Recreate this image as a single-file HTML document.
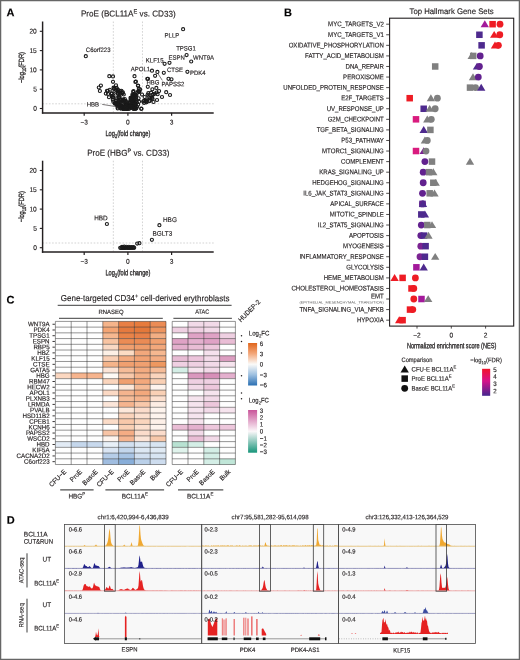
<!DOCTYPE html>
<html><head><meta charset="utf-8"><style>
html,body{margin:0;padding:0;background:#fff;overflow:hidden;}
svg{display:block;font-family:"Liberation Sans", sans-serif;will-change:transform;filter:blur(0.35px);} text{stroke:#231f20;stroke-width:0.15px;text-rendering:geometricPrecision;}
</style></head><body>
<svg width="520" height="660" viewBox="0 0 520 660">
<rect x="0" y="0" width="520" height="660" fill="#fff"/>
<text x="128.30" y="16.60" font-size="8.61" text-anchor="middle" fill="#231f20" textLength="94.80" lengthAdjust="spacingAndGlyphs" transform="rotate(0.06 128.30 16.60)" >ProE (BCL11A<tspan font-size="70%" baseline-shift="3">E</tspan> vs. CD33)</text>
<line x1="113.33" y1="21.50" x2="113.33" y2="112.30" stroke="#b5b5b5" stroke-width="0.6" stroke-dasharray="1.6,1.6"/>
<line x1="142.47" y1="21.50" x2="142.47" y2="112.30" stroke="#b5b5b5" stroke-width="0.6" stroke-dasharray="1.6,1.6"/>
<line x1="42.50" y1="103.80" x2="213.70" y2="103.80" stroke="#b5b5b5" stroke-width="0.6" stroke-dasharray="1.6,1.6"/>
<line x1="42.60" y1="21.50" x2="42.60" y2="113.60" stroke="#231f20" stroke-width="1.45" />
<line x1="41.90" y1="112.90" x2="213.70" y2="112.90" stroke="#231f20" stroke-width="1.5" />
<line x1="39.80" y1="31.30" x2="42.50" y2="31.30" stroke="#231f20" stroke-width="1.1" />
<text x="36.80" y="33.60" font-size="6.93" text-anchor="end" fill="#231f20" textLength="7.34" lengthAdjust="spacingAndGlyphs" transform="rotate(0.06 36.80 33.60)" >20</text>
<line x1="39.80" y1="50.60" x2="42.50" y2="50.60" stroke="#231f20" stroke-width="1.1" />
<text x="36.80" y="52.90" font-size="6.93" text-anchor="end" fill="#231f20" textLength="7.34" lengthAdjust="spacingAndGlyphs" transform="rotate(0.06 36.80 52.90)" >15</text>
<line x1="39.80" y1="69.90" x2="42.50" y2="69.90" stroke="#231f20" stroke-width="1.1" />
<text x="36.80" y="72.20" font-size="6.93" text-anchor="end" fill="#231f20" textLength="7.34" lengthAdjust="spacingAndGlyphs" transform="rotate(0.06 36.80 72.20)" >10</text>
<line x1="39.80" y1="89.20" x2="42.50" y2="89.20" stroke="#231f20" stroke-width="1.1" />
<text x="36.80" y="91.50" font-size="6.93" text-anchor="end" fill="#231f20" textLength="3.67" lengthAdjust="spacingAndGlyphs" transform="rotate(0.06 36.80 91.50)" >5</text>
<line x1="39.80" y1="108.50" x2="42.50" y2="108.50" stroke="#231f20" stroke-width="1.1" />
<text x="36.80" y="110.80" font-size="6.93" text-anchor="end" fill="#231f20" textLength="3.67" lengthAdjust="spacingAndGlyphs" transform="rotate(0.06 36.80 110.80)" >0</text>
<line x1="84.19" y1="112.80" x2="84.19" y2="115.80" stroke="#231f20" stroke-width="1.2" />
<text x="84.19" y="124.60" font-size="6.93" text-anchor="middle" fill="#231f20" textLength="7.52" lengthAdjust="spacingAndGlyphs" transform="rotate(0.06 84.19 124.60)" >−3</text>
<line x1="127.90" y1="112.80" x2="127.90" y2="115.80" stroke="#231f20" stroke-width="1.2" />
<text x="127.90" y="124.60" font-size="6.93" text-anchor="middle" fill="#231f20" textLength="3.67" lengthAdjust="spacingAndGlyphs" transform="rotate(0.06 127.90 124.60)" >0</text>
<line x1="171.61" y1="112.80" x2="171.61" y2="115.80" stroke="#231f20" stroke-width="1.2" />
<text x="171.61" y="124.60" font-size="6.93" text-anchor="middle" fill="#231f20" textLength="3.67" lengthAdjust="spacingAndGlyphs" transform="rotate(0.06 171.61 124.60)" >3</text>
<text x="127.90" y="136.00" font-size="7.77" text-anchor="middle" fill="#222" textLength="45.00" lengthAdjust="spacingAndGlyphs" transform="rotate(0.06 127.90 136.00)" style="stroke-width:0.3px">Log<tspan font-size="70%" baseline-shift="-1.6">2</tspan>(fold change)</text>
<text x="23.90" y="67.50" font-size="7.56" text-anchor="middle" fill="#222" textLength="31.00" lengthAdjust="spacingAndGlyphs" transform="rotate(-89.94 23.90 67.50)" style="stroke-width:0.3px">−log<tspan font-size="70%" baseline-shift="-1.6">10</tspan>(FDR)</text>
<circle cx="118.67" cy="104.74" r="1.55" fill="none" stroke="#1a1a1a" stroke-width="1.1"/>
<circle cx="126.60" cy="108.69" r="1.55" fill="none" stroke="#1a1a1a" stroke-width="1.1"/>
<circle cx="118.35" cy="90.12" r="1.55" fill="none" stroke="#1a1a1a" stroke-width="1.1"/>
<circle cx="116.39" cy="87.87" r="1.55" fill="none" stroke="#1a1a1a" stroke-width="1.1"/>
<circle cx="116.18" cy="101.23" r="1.55" fill="none" stroke="#1a1a1a" stroke-width="1.1"/>
<circle cx="119.41" cy="97.02" r="1.55" fill="none" stroke="#1a1a1a" stroke-width="1.1"/>
<circle cx="126.95" cy="108.90" r="1.55" fill="none" stroke="#1a1a1a" stroke-width="1.1"/>
<circle cx="120.43" cy="93.75" r="1.55" fill="none" stroke="#1a1a1a" stroke-width="1.1"/>
<circle cx="122.02" cy="92.70" r="1.55" fill="none" stroke="#1a1a1a" stroke-width="1.1"/>
<circle cx="111.90" cy="93.32" r="1.55" fill="none" stroke="#1a1a1a" stroke-width="1.1"/>
<circle cx="122.90" cy="92.24" r="1.55" fill="none" stroke="#1a1a1a" stroke-width="1.1"/>
<circle cx="121.14" cy="108.13" r="1.55" fill="none" stroke="#1a1a1a" stroke-width="1.1"/>
<circle cx="125.88" cy="106.79" r="1.55" fill="none" stroke="#1a1a1a" stroke-width="1.1"/>
<circle cx="113.98" cy="88.89" r="1.55" fill="none" stroke="#1a1a1a" stroke-width="1.1"/>
<circle cx="117.92" cy="93.25" r="1.55" fill="none" stroke="#1a1a1a" stroke-width="1.1"/>
<circle cx="123.68" cy="100.63" r="1.55" fill="none" stroke="#1a1a1a" stroke-width="1.1"/>
<circle cx="114.53" cy="87.89" r="1.55" fill="none" stroke="#1a1a1a" stroke-width="1.1"/>
<circle cx="112.80" cy="99.66" r="1.55" fill="none" stroke="#1a1a1a" stroke-width="1.1"/>
<circle cx="120.05" cy="99.94" r="1.55" fill="none" stroke="#1a1a1a" stroke-width="1.1"/>
<circle cx="115.35" cy="103.30" r="1.55" fill="none" stroke="#1a1a1a" stroke-width="1.1"/>
<circle cx="126.85" cy="106.74" r="1.55" fill="none" stroke="#1a1a1a" stroke-width="1.1"/>
<circle cx="125.07" cy="106.75" r="1.55" fill="none" stroke="#1a1a1a" stroke-width="1.1"/>
<circle cx="117.62" cy="93.78" r="1.55" fill="none" stroke="#1a1a1a" stroke-width="1.1"/>
<circle cx="118.58" cy="97.86" r="1.55" fill="none" stroke="#1a1a1a" stroke-width="1.1"/>
<circle cx="123.38" cy="108.90" r="1.55" fill="none" stroke="#1a1a1a" stroke-width="1.1"/>
<circle cx="120.44" cy="99.62" r="1.55" fill="none" stroke="#1a1a1a" stroke-width="1.1"/>
<circle cx="109.84" cy="89.74" r="1.55" fill="none" stroke="#1a1a1a" stroke-width="1.1"/>
<circle cx="115.12" cy="102.93" r="1.55" fill="none" stroke="#1a1a1a" stroke-width="1.1"/>
<circle cx="125.48" cy="103.11" r="1.55" fill="none" stroke="#1a1a1a" stroke-width="1.1"/>
<circle cx="122.43" cy="108.22" r="1.55" fill="none" stroke="#1a1a1a" stroke-width="1.1"/>
<circle cx="126.56" cy="108.90" r="1.55" fill="none" stroke="#1a1a1a" stroke-width="1.1"/>
<circle cx="123.76" cy="94.52" r="1.55" fill="none" stroke="#1a1a1a" stroke-width="1.1"/>
<circle cx="120.78" cy="105.82" r="1.55" fill="none" stroke="#1a1a1a" stroke-width="1.1"/>
<circle cx="123.52" cy="107.21" r="1.55" fill="none" stroke="#1a1a1a" stroke-width="1.1"/>
<circle cx="123.64" cy="108.77" r="1.55" fill="none" stroke="#1a1a1a" stroke-width="1.1"/>
<circle cx="115.82" cy="100.42" r="1.55" fill="none" stroke="#1a1a1a" stroke-width="1.1"/>
<circle cx="122.85" cy="107.21" r="1.55" fill="none" stroke="#1a1a1a" stroke-width="1.1"/>
<circle cx="116.41" cy="90.17" r="1.55" fill="none" stroke="#1a1a1a" stroke-width="1.1"/>
<circle cx="118.70" cy="101.18" r="1.55" fill="none" stroke="#1a1a1a" stroke-width="1.1"/>
<circle cx="122.74" cy="107.26" r="1.55" fill="none" stroke="#1a1a1a" stroke-width="1.1"/>
<circle cx="125.01" cy="108.77" r="1.55" fill="none" stroke="#1a1a1a" stroke-width="1.1"/>
<circle cx="115.88" cy="103.94" r="1.55" fill="none" stroke="#1a1a1a" stroke-width="1.1"/>
<circle cx="119.93" cy="90.85" r="1.55" fill="none" stroke="#1a1a1a" stroke-width="1.1"/>
<circle cx="107.80" cy="90.74" r="1.55" fill="none" stroke="#1a1a1a" stroke-width="1.1"/>
<circle cx="123.40" cy="108.90" r="1.55" fill="none" stroke="#1a1a1a" stroke-width="1.1"/>
<circle cx="114.71" cy="103.50" r="1.55" fill="none" stroke="#1a1a1a" stroke-width="1.1"/>
<circle cx="118.87" cy="100.85" r="1.55" fill="none" stroke="#1a1a1a" stroke-width="1.1"/>
<circle cx="125.76" cy="101.82" r="1.55" fill="none" stroke="#1a1a1a" stroke-width="1.1"/>
<circle cx="118.35" cy="103.49" r="1.55" fill="none" stroke="#1a1a1a" stroke-width="1.1"/>
<circle cx="113.54" cy="87.66" r="1.55" fill="none" stroke="#1a1a1a" stroke-width="1.1"/>
<circle cx="117.94" cy="103.96" r="1.55" fill="none" stroke="#1a1a1a" stroke-width="1.1"/>
<circle cx="126.75" cy="108.22" r="1.55" fill="none" stroke="#1a1a1a" stroke-width="1.1"/>
<circle cx="122.88" cy="100.38" r="1.55" fill="none" stroke="#1a1a1a" stroke-width="1.1"/>
<circle cx="118.55" cy="96.98" r="1.55" fill="none" stroke="#1a1a1a" stroke-width="1.1"/>
<circle cx="119.53" cy="96.98" r="1.55" fill="none" stroke="#1a1a1a" stroke-width="1.1"/>
<circle cx="125.93" cy="103.39" r="1.55" fill="none" stroke="#1a1a1a" stroke-width="1.1"/>
<circle cx="122.15" cy="100.87" r="1.55" fill="none" stroke="#1a1a1a" stroke-width="1.1"/>
<circle cx="121.45" cy="90.87" r="1.55" fill="none" stroke="#1a1a1a" stroke-width="1.1"/>
<circle cx="112.90" cy="97.51" r="1.55" fill="none" stroke="#1a1a1a" stroke-width="1.1"/>
<circle cx="118.53" cy="104.18" r="1.55" fill="none" stroke="#1a1a1a" stroke-width="1.1"/>
<circle cx="120.11" cy="93.01" r="1.55" fill="none" stroke="#1a1a1a" stroke-width="1.1"/>
<circle cx="125.65" cy="107.51" r="1.55" fill="none" stroke="#1a1a1a" stroke-width="1.1"/>
<circle cx="122.57" cy="93.51" r="1.55" fill="none" stroke="#1a1a1a" stroke-width="1.1"/>
<circle cx="113.40" cy="95.41" r="1.55" fill="none" stroke="#1a1a1a" stroke-width="1.1"/>
<circle cx="117.19" cy="104.83" r="1.55" fill="none" stroke="#1a1a1a" stroke-width="1.1"/>
<circle cx="123.32" cy="99.44" r="1.55" fill="none" stroke="#1a1a1a" stroke-width="1.1"/>
<circle cx="121.58" cy="106.76" r="1.55" fill="none" stroke="#1a1a1a" stroke-width="1.1"/>
<circle cx="119.15" cy="105.00" r="1.55" fill="none" stroke="#1a1a1a" stroke-width="1.1"/>
<circle cx="116.80" cy="104.63" r="1.55" fill="none" stroke="#1a1a1a" stroke-width="1.1"/>
<circle cx="119.10" cy="92.15" r="1.55" fill="none" stroke="#1a1a1a" stroke-width="1.1"/>
<circle cx="105.83" cy="93.59" r="1.55" fill="none" stroke="#1a1a1a" stroke-width="1.1"/>
<circle cx="119.08" cy="104.35" r="1.55" fill="none" stroke="#1a1a1a" stroke-width="1.1"/>
<circle cx="117.64" cy="107.41" r="1.55" fill="none" stroke="#1a1a1a" stroke-width="1.1"/>
<circle cx="106.95" cy="90.74" r="1.55" fill="none" stroke="#1a1a1a" stroke-width="1.1"/>
<circle cx="117.88" cy="91.65" r="1.55" fill="none" stroke="#1a1a1a" stroke-width="1.1"/>
<circle cx="115.36" cy="91.58" r="1.55" fill="none" stroke="#1a1a1a" stroke-width="1.1"/>
<circle cx="125.82" cy="104.93" r="1.55" fill="none" stroke="#1a1a1a" stroke-width="1.1"/>
<circle cx="116.37" cy="98.36" r="1.55" fill="none" stroke="#1a1a1a" stroke-width="1.1"/>
<circle cx="120.55" cy="100.44" r="1.55" fill="none" stroke="#1a1a1a" stroke-width="1.1"/>
<circle cx="108.03" cy="93.90" r="1.55" fill="none" stroke="#1a1a1a" stroke-width="1.1"/>
<circle cx="123.54" cy="105.41" r="1.55" fill="none" stroke="#1a1a1a" stroke-width="1.1"/>
<circle cx="117.70" cy="106.22" r="1.55" fill="none" stroke="#1a1a1a" stroke-width="1.1"/>
<circle cx="111.51" cy="93.65" r="1.55" fill="none" stroke="#1a1a1a" stroke-width="1.1"/>
<circle cx="123.17" cy="101.54" r="1.55" fill="none" stroke="#1a1a1a" stroke-width="1.1"/>
<circle cx="126.81" cy="104.89" r="1.55" fill="none" stroke="#1a1a1a" stroke-width="1.1"/>
<circle cx="113.32" cy="101.83" r="1.55" fill="none" stroke="#1a1a1a" stroke-width="1.1"/>
<circle cx="117.16" cy="103.15" r="1.55" fill="none" stroke="#1a1a1a" stroke-width="1.1"/>
<circle cx="119.75" cy="102.79" r="1.55" fill="none" stroke="#1a1a1a" stroke-width="1.1"/>
<circle cx="121.75" cy="105.39" r="1.55" fill="none" stroke="#1a1a1a" stroke-width="1.1"/>
<circle cx="111.96" cy="95.98" r="1.55" fill="none" stroke="#1a1a1a" stroke-width="1.1"/>
<circle cx="124.82" cy="99.11" r="1.55" fill="none" stroke="#1a1a1a" stroke-width="1.1"/>
<circle cx="120.60" cy="105.72" r="1.55" fill="none" stroke="#1a1a1a" stroke-width="1.1"/>
<circle cx="125.76" cy="100.92" r="1.55" fill="none" stroke="#1a1a1a" stroke-width="1.1"/>
<circle cx="112.63" cy="97.15" r="1.55" fill="none" stroke="#1a1a1a" stroke-width="1.1"/>
<circle cx="126.82" cy="105.30" r="1.55" fill="none" stroke="#1a1a1a" stroke-width="1.1"/>
<circle cx="116.83" cy="88.25" r="1.55" fill="none" stroke="#1a1a1a" stroke-width="1.1"/>
<circle cx="125.64" cy="101.64" r="1.55" fill="none" stroke="#1a1a1a" stroke-width="1.1"/>
<circle cx="119.60" cy="103.47" r="1.55" fill="none" stroke="#1a1a1a" stroke-width="1.1"/>
<circle cx="117.82" cy="104.99" r="1.55" fill="none" stroke="#1a1a1a" stroke-width="1.1"/>
<circle cx="108.99" cy="97.26" r="1.55" fill="none" stroke="#1a1a1a" stroke-width="1.1"/>
<circle cx="134.10" cy="99.38" r="1.55" fill="none" stroke="#1a1a1a" stroke-width="1.1"/>
<circle cx="133.32" cy="101.08" r="1.55" fill="none" stroke="#1a1a1a" stroke-width="1.1"/>
<circle cx="134.77" cy="107.25" r="1.55" fill="none" stroke="#1a1a1a" stroke-width="1.1"/>
<circle cx="132.92" cy="99.95" r="1.55" fill="none" stroke="#1a1a1a" stroke-width="1.1"/>
<circle cx="135.79" cy="95.32" r="1.55" fill="none" stroke="#1a1a1a" stroke-width="1.1"/>
<circle cx="138.58" cy="98.37" r="1.55" fill="none" stroke="#1a1a1a" stroke-width="1.1"/>
<circle cx="132.94" cy="95.29" r="1.55" fill="none" stroke="#1a1a1a" stroke-width="1.1"/>
<circle cx="134.61" cy="104.92" r="1.55" fill="none" stroke="#1a1a1a" stroke-width="1.1"/>
<circle cx="129.93" cy="104.62" r="1.55" fill="none" stroke="#1a1a1a" stroke-width="1.1"/>
<circle cx="136.30" cy="108.35" r="1.55" fill="none" stroke="#1a1a1a" stroke-width="1.1"/>
<circle cx="129.41" cy="107.04" r="1.55" fill="none" stroke="#1a1a1a" stroke-width="1.1"/>
<circle cx="131.33" cy="105.69" r="1.55" fill="none" stroke="#1a1a1a" stroke-width="1.1"/>
<circle cx="132.95" cy="102.70" r="1.55" fill="none" stroke="#1a1a1a" stroke-width="1.1"/>
<circle cx="138.14" cy="104.58" r="1.55" fill="none" stroke="#1a1a1a" stroke-width="1.1"/>
<circle cx="132.51" cy="101.04" r="1.55" fill="none" stroke="#1a1a1a" stroke-width="1.1"/>
<circle cx="136.16" cy="98.47" r="1.55" fill="none" stroke="#1a1a1a" stroke-width="1.1"/>
<circle cx="137.20" cy="92.69" r="1.55" fill="none" stroke="#1a1a1a" stroke-width="1.1"/>
<circle cx="139.46" cy="91.78" r="1.55" fill="none" stroke="#1a1a1a" stroke-width="1.1"/>
<circle cx="135.19" cy="103.64" r="1.55" fill="none" stroke="#1a1a1a" stroke-width="1.1"/>
<circle cx="131.02" cy="104.32" r="1.55" fill="none" stroke="#1a1a1a" stroke-width="1.1"/>
<circle cx="134.80" cy="96.38" r="1.55" fill="none" stroke="#1a1a1a" stroke-width="1.1"/>
<circle cx="133.06" cy="100.60" r="1.55" fill="none" stroke="#1a1a1a" stroke-width="1.1"/>
<circle cx="132.34" cy="99.83" r="1.55" fill="none" stroke="#1a1a1a" stroke-width="1.1"/>
<circle cx="134.45" cy="94.56" r="1.55" fill="none" stroke="#1a1a1a" stroke-width="1.1"/>
<circle cx="132.82" cy="95.97" r="1.55" fill="none" stroke="#1a1a1a" stroke-width="1.1"/>
<circle cx="129.00" cy="108.90" r="1.55" fill="none" stroke="#1a1a1a" stroke-width="1.1"/>
<circle cx="139.14" cy="91.40" r="1.55" fill="none" stroke="#1a1a1a" stroke-width="1.1"/>
<circle cx="142.02" cy="94.55" r="1.55" fill="none" stroke="#1a1a1a" stroke-width="1.1"/>
<circle cx="137.06" cy="106.83" r="1.55" fill="none" stroke="#1a1a1a" stroke-width="1.1"/>
<circle cx="134.20" cy="105.81" r="1.55" fill="none" stroke="#1a1a1a" stroke-width="1.1"/>
<circle cx="131.16" cy="98.91" r="1.55" fill="none" stroke="#1a1a1a" stroke-width="1.1"/>
<circle cx="129.56" cy="102.25" r="1.55" fill="none" stroke="#1a1a1a" stroke-width="1.1"/>
<circle cx="134.20" cy="107.70" r="1.55" fill="none" stroke="#1a1a1a" stroke-width="1.1"/>
<circle cx="132.40" cy="94.49" r="1.55" fill="none" stroke="#1a1a1a" stroke-width="1.1"/>
<circle cx="133.22" cy="104.11" r="1.55" fill="none" stroke="#1a1a1a" stroke-width="1.1"/>
<circle cx="130.69" cy="99.99" r="1.55" fill="none" stroke="#1a1a1a" stroke-width="1.1"/>
<circle cx="130.47" cy="102.61" r="1.55" fill="none" stroke="#1a1a1a" stroke-width="1.1"/>
<circle cx="139.02" cy="101.66" r="1.55" fill="none" stroke="#1a1a1a" stroke-width="1.1"/>
<circle cx="133.50" cy="91.07" r="1.55" fill="none" stroke="#1a1a1a" stroke-width="1.1"/>
<circle cx="131.90" cy="100.86" r="1.55" fill="none" stroke="#1a1a1a" stroke-width="1.1"/>
<circle cx="134.70" cy="95.22" r="1.55" fill="none" stroke="#1a1a1a" stroke-width="1.1"/>
<circle cx="133.46" cy="95.92" r="1.55" fill="none" stroke="#1a1a1a" stroke-width="1.1"/>
<circle cx="136.95" cy="102.48" r="1.55" fill="none" stroke="#1a1a1a" stroke-width="1.1"/>
<circle cx="134.17" cy="94.56" r="1.55" fill="none" stroke="#1a1a1a" stroke-width="1.1"/>
<circle cx="135.69" cy="99.77" r="1.55" fill="none" stroke="#1a1a1a" stroke-width="1.1"/>
<circle cx="133.22" cy="91.95" r="1.55" fill="none" stroke="#1a1a1a" stroke-width="1.1"/>
<circle cx="133.53" cy="106.96" r="1.55" fill="none" stroke="#1a1a1a" stroke-width="1.1"/>
<circle cx="132.30" cy="101.70" r="1.55" fill="none" stroke="#1a1a1a" stroke-width="1.1"/>
<circle cx="134.46" cy="95.77" r="1.55" fill="none" stroke="#1a1a1a" stroke-width="1.1"/>
<circle cx="134.04" cy="107.38" r="1.55" fill="none" stroke="#1a1a1a" stroke-width="1.1"/>
<circle cx="130.47" cy="97.92" r="1.55" fill="none" stroke="#1a1a1a" stroke-width="1.1"/>
<circle cx="133.73" cy="108.90" r="1.55" fill="none" stroke="#1a1a1a" stroke-width="1.1"/>
<circle cx="138.36" cy="91.51" r="1.55" fill="none" stroke="#1a1a1a" stroke-width="1.1"/>
<circle cx="136.39" cy="95.26" r="1.55" fill="none" stroke="#1a1a1a" stroke-width="1.1"/>
<circle cx="135.66" cy="101.28" r="1.55" fill="none" stroke="#1a1a1a" stroke-width="1.1"/>
<circle cx="135.61" cy="99.25" r="1.55" fill="none" stroke="#1a1a1a" stroke-width="1.1"/>
<circle cx="132.64" cy="103.60" r="1.55" fill="none" stroke="#1a1a1a" stroke-width="1.1"/>
<circle cx="131.08" cy="98.07" r="1.55" fill="none" stroke="#1a1a1a" stroke-width="1.1"/>
<circle cx="129.98" cy="102.56" r="1.55" fill="none" stroke="#1a1a1a" stroke-width="1.1"/>
<circle cx="135.05" cy="104.14" r="1.55" fill="none" stroke="#1a1a1a" stroke-width="1.1"/>
<circle cx="135.86" cy="104.72" r="1.55" fill="none" stroke="#1a1a1a" stroke-width="1.1"/>
<circle cx="138.21" cy="91.43" r="1.55" fill="none" stroke="#1a1a1a" stroke-width="1.1"/>
<circle cx="130.44" cy="102.16" r="1.55" fill="none" stroke="#1a1a1a" stroke-width="1.1"/>
<circle cx="138.84" cy="88.78" r="1.55" fill="none" stroke="#1a1a1a" stroke-width="1.1"/>
<circle cx="135.50" cy="94.78" r="1.55" fill="none" stroke="#1a1a1a" stroke-width="1.1"/>
<circle cx="134.15" cy="102.31" r="1.55" fill="none" stroke="#1a1a1a" stroke-width="1.1"/>
<circle cx="140.10" cy="89.45" r="1.55" fill="none" stroke="#1a1a1a" stroke-width="1.1"/>
<circle cx="130.05" cy="107.94" r="1.55" fill="none" stroke="#1a1a1a" stroke-width="1.1"/>
<circle cx="130.58" cy="100.69" r="1.55" fill="none" stroke="#1a1a1a" stroke-width="1.1"/>
<circle cx="131.80" cy="97.33" r="1.55" fill="none" stroke="#1a1a1a" stroke-width="1.1"/>
<circle cx="129.43" cy="106.98" r="1.55" fill="none" stroke="#1a1a1a" stroke-width="1.1"/>
<circle cx="135.51" cy="108.90" r="1.55" fill="none" stroke="#1a1a1a" stroke-width="1.1"/>
<circle cx="157.61" cy="94.20" r="1.55" fill="none" stroke="#1a1a1a" stroke-width="1.1"/>
<circle cx="156.53" cy="92.52" r="1.55" fill="none" stroke="#1a1a1a" stroke-width="1.1"/>
<circle cx="151.91" cy="97.48" r="1.55" fill="none" stroke="#1a1a1a" stroke-width="1.1"/>
<circle cx="149.98" cy="100.84" r="1.55" fill="none" stroke="#1a1a1a" stroke-width="1.1"/>
<circle cx="147.58" cy="94.77" r="1.55" fill="none" stroke="#1a1a1a" stroke-width="1.1"/>
<circle cx="146.51" cy="102.28" r="1.55" fill="none" stroke="#1a1a1a" stroke-width="1.1"/>
<circle cx="152.38" cy="89.32" r="1.55" fill="none" stroke="#1a1a1a" stroke-width="1.1"/>
<circle cx="148.56" cy="97.12" r="1.55" fill="none" stroke="#1a1a1a" stroke-width="1.1"/>
<circle cx="147.79" cy="86.79" r="1.55" fill="none" stroke="#1a1a1a" stroke-width="1.1"/>
<circle cx="151.83" cy="97.92" r="1.55" fill="none" stroke="#1a1a1a" stroke-width="1.1"/>
<circle cx="148.31" cy="93.18" r="1.55" fill="none" stroke="#1a1a1a" stroke-width="1.1"/>
<circle cx="151.05" cy="92.66" r="1.55" fill="none" stroke="#1a1a1a" stroke-width="1.1"/>
<circle cx="145.68" cy="101.73" r="1.55" fill="none" stroke="#1a1a1a" stroke-width="1.1"/>
<circle cx="159.06" cy="91.12" r="1.55" fill="none" stroke="#1a1a1a" stroke-width="1.1"/>
<circle cx="144.67" cy="97.06" r="1.55" fill="none" stroke="#1a1a1a" stroke-width="1.1"/>
<circle cx="153.32" cy="94.59" r="1.55" fill="none" stroke="#1a1a1a" stroke-width="1.1"/>
<circle cx="144.05" cy="100.91" r="1.55" fill="none" stroke="#1a1a1a" stroke-width="1.1"/>
<circle cx="150.16" cy="97.64" r="1.55" fill="none" stroke="#1a1a1a" stroke-width="1.1"/>
<circle cx="152.31" cy="94.79" r="1.55" fill="none" stroke="#1a1a1a" stroke-width="1.1"/>
<circle cx="146.21" cy="100.96" r="1.55" fill="none" stroke="#1a1a1a" stroke-width="1.1"/>
<circle cx="143.17" cy="101.53" r="1.55" fill="none" stroke="#1a1a1a" stroke-width="1.1"/>
<circle cx="146.51" cy="100.34" r="1.55" fill="none" stroke="#1a1a1a" stroke-width="1.1"/>
<circle cx="156.34" cy="87.88" r="1.55" fill="none" stroke="#1a1a1a" stroke-width="1.1"/>
<circle cx="149.00" cy="101.13" r="1.55" fill="none" stroke="#1a1a1a" stroke-width="1.1"/>
<circle cx="154.49" cy="93.86" r="1.55" fill="none" stroke="#1a1a1a" stroke-width="1.1"/>
<circle cx="144.09" cy="102.88" r="1.55" fill="none" stroke="#1a1a1a" stroke-width="1.1"/>
<circle cx="125.08" cy="106.17" r="1.55" fill="none" stroke="#1a1a1a" stroke-width="1.1"/>
<circle cx="135.91" cy="107.85" r="1.55" fill="none" stroke="#1a1a1a" stroke-width="1.1"/>
<circle cx="131.52" cy="106.73" r="1.55" fill="none" stroke="#1a1a1a" stroke-width="1.1"/>
<circle cx="124.27" cy="106.89" r="1.55" fill="none" stroke="#1a1a1a" stroke-width="1.1"/>
<circle cx="121.49" cy="107.65" r="1.55" fill="none" stroke="#1a1a1a" stroke-width="1.1"/>
<circle cx="126.22" cy="108.29" r="1.55" fill="none" stroke="#1a1a1a" stroke-width="1.1"/>
<circle cx="125.95" cy="107.05" r="1.55" fill="none" stroke="#1a1a1a" stroke-width="1.1"/>
<circle cx="127.61" cy="108.70" r="1.55" fill="none" stroke="#1a1a1a" stroke-width="1.1"/>
<circle cx="124.89" cy="107.89" r="1.55" fill="none" stroke="#1a1a1a" stroke-width="1.1"/>
<circle cx="123.00" cy="107.47" r="1.55" fill="none" stroke="#1a1a1a" stroke-width="1.1"/>
<circle cx="123.84" cy="108.47" r="1.55" fill="none" stroke="#1a1a1a" stroke-width="1.1"/>
<circle cx="123.87" cy="108.41" r="1.55" fill="none" stroke="#1a1a1a" stroke-width="1.1"/>
<circle cx="130.50" cy="107.05" r="1.55" fill="none" stroke="#1a1a1a" stroke-width="1.1"/>
<circle cx="134.87" cy="106.82" r="1.55" fill="none" stroke="#1a1a1a" stroke-width="1.1"/>
<circle cx="131.64" cy="107.54" r="1.55" fill="none" stroke="#1a1a1a" stroke-width="1.1"/>
<circle cx="126.62" cy="105.72" r="1.55" fill="none" stroke="#1a1a1a" stroke-width="1.1"/>
<circle cx="126.12" cy="106.46" r="1.55" fill="none" stroke="#1a1a1a" stroke-width="1.1"/>
<circle cx="126.50" cy="108.75" r="1.55" fill="none" stroke="#1a1a1a" stroke-width="1.1"/>
<circle cx="123.98" cy="107.86" r="1.55" fill="none" stroke="#1a1a1a" stroke-width="1.1"/>
<circle cx="130.43" cy="106.33" r="1.55" fill="none" stroke="#1a1a1a" stroke-width="1.1"/>
<circle cx="126.00" cy="105.95" r="1.55" fill="none" stroke="#1a1a1a" stroke-width="1.1"/>
<circle cx="134.22" cy="106.36" r="1.55" fill="none" stroke="#1a1a1a" stroke-width="1.1"/>
<circle cx="126.15" cy="106.66" r="1.55" fill="none" stroke="#1a1a1a" stroke-width="1.1"/>
<circle cx="132.95" cy="108.39" r="1.55" fill="none" stroke="#1a1a1a" stroke-width="1.1"/>
<circle cx="129.04" cy="107.36" r="1.55" fill="none" stroke="#1a1a1a" stroke-width="1.1"/>
<circle cx="120.69" cy="108.55" r="1.55" fill="none" stroke="#1a1a1a" stroke-width="1.1"/>
<circle cx="120.50" cy="106.74" r="1.55" fill="none" stroke="#1a1a1a" stroke-width="1.1"/>
<circle cx="125.37" cy="107.96" r="1.55" fill="none" stroke="#1a1a1a" stroke-width="1.1"/>
<circle cx="130.38" cy="106.67" r="1.55" fill="none" stroke="#1a1a1a" stroke-width="1.1"/>
<circle cx="134.26" cy="108.73" r="1.55" fill="none" stroke="#1a1a1a" stroke-width="1.1"/>
<circle cx="109.30" cy="76.20" r="1.55" fill="none" stroke="#1a1a1a" stroke-width="1.1"/>
<circle cx="113.00" cy="76.40" r="1.55" fill="none" stroke="#1a1a1a" stroke-width="1.1"/>
<circle cx="113.00" cy="81.80" r="1.55" fill="none" stroke="#1a1a1a" stroke-width="1.1"/>
<circle cx="116.00" cy="85.30" r="1.55" fill="none" stroke="#1a1a1a" stroke-width="1.1"/>
<circle cx="100.90" cy="85.60" r="1.55" fill="none" stroke="#1a1a1a" stroke-width="1.1"/>
<circle cx="98.80" cy="87.60" r="1.55" fill="none" stroke="#1a1a1a" stroke-width="1.1"/>
<circle cx="99.90" cy="91.00" r="1.55" fill="none" stroke="#1a1a1a" stroke-width="1.1"/>
<circle cx="134.50" cy="76.20" r="1.55" fill="none" stroke="#1a1a1a" stroke-width="1.1"/>
<circle cx="135.90" cy="81.50" r="1.55" fill="none" stroke="#1a1a1a" stroke-width="1.1"/>
<circle cx="137.90" cy="85.60" r="1.55" fill="none" stroke="#1a1a1a" stroke-width="1.1"/>
<circle cx="147.30" cy="78.80" r="1.55" fill="none" stroke="#1a1a1a" stroke-width="1.1"/>
<circle cx="141.20" cy="108.70" r="1.55" fill="none" stroke="#1a1a1a" stroke-width="1.1"/>
<circle cx="117.70" cy="108.50" r="1.55" fill="none" stroke="#1a1a1a" stroke-width="1.1"/>
<circle cx="183.10" cy="29.20" r="1.55" fill="none" stroke="#1a1a1a" stroke-width="1.1"/>
<circle cx="186.60" cy="55.10" r="1.55" fill="none" stroke="#1a1a1a" stroke-width="1.1"/>
<circle cx="191.20" cy="61.50" r="1.55" fill="none" stroke="#1a1a1a" stroke-width="1.1"/>
<circle cx="169.50" cy="62.80" r="1.55" fill="none" stroke="#1a1a1a" stroke-width="1.1"/>
<circle cx="164.60" cy="63.80" r="1.55" fill="none" stroke="#1a1a1a" stroke-width="1.1"/>
<circle cx="187.40" cy="71.80" r="1.55" fill="none" stroke="#1a1a1a" stroke-width="1.1"/>
<circle cx="163.80" cy="72.80" r="1.55" fill="none" stroke="#1a1a1a" stroke-width="1.1"/>
<circle cx="152.00" cy="70.70" r="1.55" fill="none" stroke="#1a1a1a" stroke-width="1.1"/>
<circle cx="157.40" cy="71.90" r="1.55" fill="none" stroke="#1a1a1a" stroke-width="1.1"/>
<circle cx="155.10" cy="75.80" r="1.55" fill="none" stroke="#1a1a1a" stroke-width="1.1"/>
<circle cx="148.00" cy="78.80" r="1.55" fill="none" stroke="#1a1a1a" stroke-width="1.1"/>
<circle cx="168.50" cy="78.80" r="1.55" fill="none" stroke="#1a1a1a" stroke-width="1.1"/>
<circle cx="171.50" cy="79.30" r="1.55" fill="none" stroke="#1a1a1a" stroke-width="1.1"/>
<circle cx="166.20" cy="92.20" r="1.55" fill="none" stroke="#1a1a1a" stroke-width="1.1"/>
<circle cx="170.00" cy="95.00" r="1.55" fill="none" stroke="#1a1a1a" stroke-width="1.1"/>
<circle cx="152.60" cy="98.80" r="1.55" fill="none" stroke="#1a1a1a" stroke-width="1.1"/>
<circle cx="141.50" cy="108.80" r="1.55" fill="none" stroke="#1a1a1a" stroke-width="1.1"/>
<circle cx="85.80" cy="56.20" r="1.55" fill="none" stroke="#1a1a1a" stroke-width="1.1"/>
<circle cx="138.20" cy="85.80" r="1.55" fill="none" stroke="#1a1a1a" stroke-width="1.1"/>
<circle cx="135.40" cy="81.90" r="1.55" fill="none" stroke="#1a1a1a" stroke-width="1.1"/>
<circle cx="162.00" cy="97.00" r="1.55" fill="none" stroke="#1a1a1a" stroke-width="1.1"/>
<circle cx="157.00" cy="100.00" r="1.55" fill="none" stroke="#1a1a1a" stroke-width="1.1"/>
<circle cx="153.50" cy="102.00" r="1.55" fill="none" stroke="#1a1a1a" stroke-width="1.1"/>
<text x="164.60" y="37.50" font-size="6.30" text-anchor="start" fill="#231f20" textLength="14.68" lengthAdjust="spacingAndGlyphs" transform="rotate(0.06 164.60 37.50)" >PLLP</text>
<text x="176.20" y="50.60" font-size="6.30" text-anchor="start" fill="#231f20" textLength="19.67" lengthAdjust="spacingAndGlyphs" transform="rotate(0.06 176.20 50.60)" >TPSG1</text>
<text x="193.00" y="59.80" font-size="6.30" text-anchor="start" fill="#231f20" textLength="21.00" lengthAdjust="spacingAndGlyphs" transform="rotate(0.06 193.00 59.80)" >WNT9A</text>
<text x="168.50" y="59.80" font-size="6.30" text-anchor="start" fill="#231f20" textLength="16.34" lengthAdjust="spacingAndGlyphs" transform="rotate(0.06 168.50 59.80)" >ESPN</text>
<text x="145.80" y="62.40" font-size="6.30" text-anchor="start" fill="#231f20" textLength="17.68" lengthAdjust="spacingAndGlyphs" transform="rotate(0.06 145.80 62.40)" >KLF15</text>
<text x="190.00" y="75.10" font-size="6.30" text-anchor="start" fill="#231f20" textLength="15.67" lengthAdjust="spacingAndGlyphs" transform="rotate(0.06 190.00 75.10)" >PDK4</text>
<text x="167.00" y="72.10" font-size="6.30" text-anchor="start" fill="#231f20" textLength="16.00" lengthAdjust="spacingAndGlyphs" transform="rotate(0.06 167.00 72.10)" >CTSE</text>
<text x="130.80" y="71.30" font-size="6.30" text-anchor="start" fill="#231f20" textLength="19.34" lengthAdjust="spacingAndGlyphs" transform="rotate(0.06 130.80 71.30)" >APOL1</text>
<text x="146.50" y="84.50" font-size="6.30" text-anchor="start" fill="#231f20" textLength="13.00" lengthAdjust="spacingAndGlyphs" transform="rotate(0.06 146.50 84.50)" >HBG</text>
<text x="161.50" y="86.30" font-size="6.30" text-anchor="start" fill="#231f20" textLength="22.90" lengthAdjust="spacingAndGlyphs" transform="rotate(0.06 161.50 86.30)" >PAPSS2</text>
<text x="85.80" y="52.10" font-size="6.30" text-anchor="start" fill="#231f20" textLength="24.68" lengthAdjust="spacingAndGlyphs" transform="rotate(0.06 85.80 52.10)" >C6orf223</text>
<text x="86.70" y="106.50" font-size="6.30" text-anchor="start" fill="#231f20" textLength="12.34" lengthAdjust="spacingAndGlyphs" transform="rotate(0.06 86.70 106.50)" >HBB</text>
<line x1="157.70" y1="73.20" x2="162.30" y2="80.40" stroke="#231f20" stroke-width="0.6" />
<line x1="102.20" y1="104.40" x2="119.00" y2="107.10" stroke="#231f20" stroke-width="0.6" />
<text x="128.30" y="155.80" font-size="8.61" text-anchor="middle" fill="#231f20" textLength="82.30" lengthAdjust="spacingAndGlyphs" transform="rotate(0.06 128.30 155.80)" >ProE (HBG<tspan font-size="70%" baseline-shift="3">P</tspan> vs. CD33)</text>
<line x1="113.33" y1="160.70" x2="113.33" y2="251.50" stroke="#b5b5b5" stroke-width="0.6" stroke-dasharray="1.6,1.6"/>
<line x1="142.47" y1="160.70" x2="142.47" y2="251.50" stroke="#b5b5b5" stroke-width="0.6" stroke-dasharray="1.6,1.6"/>
<line x1="42.50" y1="243.00" x2="213.70" y2="243.00" stroke="#b5b5b5" stroke-width="0.6" stroke-dasharray="1.6,1.6"/>
<line x1="42.60" y1="160.70" x2="42.60" y2="252.80" stroke="#231f20" stroke-width="1.45" />
<line x1="41.90" y1="252.10" x2="213.70" y2="252.10" stroke="#231f20" stroke-width="1.5" />
<line x1="39.80" y1="170.50" x2="42.50" y2="170.50" stroke="#231f20" stroke-width="1.1" />
<text x="36.80" y="172.80" font-size="6.93" text-anchor="end" fill="#231f20" textLength="7.34" lengthAdjust="spacingAndGlyphs" transform="rotate(0.06 36.80 172.80)" >20</text>
<line x1="39.80" y1="189.80" x2="42.50" y2="189.80" stroke="#231f20" stroke-width="1.1" />
<text x="36.80" y="192.10" font-size="6.93" text-anchor="end" fill="#231f20" textLength="7.34" lengthAdjust="spacingAndGlyphs" transform="rotate(0.06 36.80 192.10)" >15</text>
<line x1="39.80" y1="209.10" x2="42.50" y2="209.10" stroke="#231f20" stroke-width="1.1" />
<text x="36.80" y="211.40" font-size="6.93" text-anchor="end" fill="#231f20" textLength="7.34" lengthAdjust="spacingAndGlyphs" transform="rotate(0.06 36.80 211.40)" >10</text>
<line x1="39.80" y1="228.40" x2="42.50" y2="228.40" stroke="#231f20" stroke-width="1.1" />
<text x="36.80" y="230.70" font-size="6.93" text-anchor="end" fill="#231f20" textLength="3.67" lengthAdjust="spacingAndGlyphs" transform="rotate(0.06 36.80 230.70)" >5</text>
<line x1="39.80" y1="247.70" x2="42.50" y2="247.70" stroke="#231f20" stroke-width="1.1" />
<text x="36.80" y="250.00" font-size="6.93" text-anchor="end" fill="#231f20" textLength="3.67" lengthAdjust="spacingAndGlyphs" transform="rotate(0.06 36.80 250.00)" >0</text>
<line x1="84.19" y1="252.00" x2="84.19" y2="255.00" stroke="#231f20" stroke-width="1.2" />
<text x="84.19" y="263.80" font-size="6.93" text-anchor="middle" fill="#231f20" textLength="7.52" lengthAdjust="spacingAndGlyphs" transform="rotate(0.06 84.19 263.80)" >−3</text>
<line x1="127.90" y1="252.00" x2="127.90" y2="255.00" stroke="#231f20" stroke-width="1.2" />
<text x="127.90" y="263.80" font-size="6.93" text-anchor="middle" fill="#231f20" textLength="3.67" lengthAdjust="spacingAndGlyphs" transform="rotate(0.06 127.90 263.80)" >0</text>
<line x1="171.61" y1="252.00" x2="171.61" y2="255.00" stroke="#231f20" stroke-width="1.2" />
<text x="171.61" y="263.80" font-size="6.93" text-anchor="middle" fill="#231f20" textLength="3.67" lengthAdjust="spacingAndGlyphs" transform="rotate(0.06 171.61 263.80)" >3</text>
<text x="127.90" y="275.20" font-size="7.77" text-anchor="middle" fill="#222" textLength="45.00" lengthAdjust="spacingAndGlyphs" transform="rotate(0.06 127.90 275.20)" style="stroke-width:0.3px">Log<tspan font-size="70%" baseline-shift="-1.6">2</tspan>(fold change)</text>
<text x="23.90" y="206.70" font-size="7.56" text-anchor="middle" fill="#222" textLength="31.00" lengthAdjust="spacingAndGlyphs" transform="rotate(-89.94 23.90 206.70)" style="stroke-width:0.3px">−log<tspan font-size="70%" baseline-shift="-1.6">10</tspan>(FDR)</text>
<circle cx="120.20" cy="247.86" r="1.55" fill="none" stroke="#1a1a1a" stroke-width="1.1"/>
<circle cx="121.20" cy="247.92" r="1.55" fill="none" stroke="#1a1a1a" stroke-width="1.1"/>
<circle cx="122.20" cy="247.95" r="1.55" fill="none" stroke="#1a1a1a" stroke-width="1.1"/>
<circle cx="123.20" cy="248.02" r="1.55" fill="none" stroke="#1a1a1a" stroke-width="1.1"/>
<circle cx="124.20" cy="247.92" r="1.55" fill="none" stroke="#1a1a1a" stroke-width="1.1"/>
<circle cx="125.20" cy="248.01" r="1.55" fill="none" stroke="#1a1a1a" stroke-width="1.1"/>
<circle cx="126.20" cy="247.56" r="1.55" fill="none" stroke="#1a1a1a" stroke-width="1.1"/>
<circle cx="127.20" cy="247.78" r="1.55" fill="none" stroke="#1a1a1a" stroke-width="1.1"/>
<circle cx="128.20" cy="248.02" r="1.55" fill="none" stroke="#1a1a1a" stroke-width="1.1"/>
<circle cx="129.20" cy="247.87" r="1.55" fill="none" stroke="#1a1a1a" stroke-width="1.1"/>
<circle cx="130.20" cy="248.00" r="1.55" fill="none" stroke="#1a1a1a" stroke-width="1.1"/>
<circle cx="131.20" cy="247.61" r="1.55" fill="none" stroke="#1a1a1a" stroke-width="1.1"/>
<circle cx="132.20" cy="247.78" r="1.55" fill="none" stroke="#1a1a1a" stroke-width="1.1"/>
<circle cx="133.20" cy="247.67" r="1.55" fill="none" stroke="#1a1a1a" stroke-width="1.1"/>
<circle cx="134.20" cy="247.82" r="1.55" fill="none" stroke="#1a1a1a" stroke-width="1.1"/>
<circle cx="122.00" cy="246.93" r="1.55" fill="none" stroke="#1a1a1a" stroke-width="1.1"/>
<circle cx="124.30" cy="246.71" r="1.55" fill="none" stroke="#1a1a1a" stroke-width="1.1"/>
<circle cx="126.60" cy="246.79" r="1.55" fill="none" stroke="#1a1a1a" stroke-width="1.1"/>
<circle cx="128.90" cy="246.81" r="1.55" fill="none" stroke="#1a1a1a" stroke-width="1.1"/>
<circle cx="131.20" cy="247.07" r="1.55" fill="none" stroke="#1a1a1a" stroke-width="1.1"/>
<circle cx="133.50" cy="247.01" r="1.55" fill="none" stroke="#1a1a1a" stroke-width="1.1"/>
<circle cx="137.20" cy="243.60" r="1.55" fill="none" stroke="#1a1a1a" stroke-width="1.1"/>
<circle cx="139.40" cy="243.20" r="1.55" fill="none" stroke="#1a1a1a" stroke-width="1.1"/>
<circle cx="106.90" cy="224.00" r="1.55" fill="none" stroke="#1a1a1a" stroke-width="1.1"/>
<circle cx="159.40" cy="225.20" r="1.55" fill="none" stroke="#1a1a1a" stroke-width="1.1"/>
<circle cx="151.90" cy="239.80" r="1.55" fill="none" stroke="#1a1a1a" stroke-width="1.1"/>
<text x="94.20" y="220.30" font-size="6.72" text-anchor="start" fill="#231f20" textLength="13.51" lengthAdjust="spacingAndGlyphs" transform="rotate(0.06 94.20 220.30)" >HBD</text>
<text x="163.00" y="221.90" font-size="6.72" text-anchor="start" fill="#231f20" textLength="13.87" lengthAdjust="spacingAndGlyphs" transform="rotate(0.06 163.00 221.90)" >HBG</text>
<text x="152.50" y="235.80" font-size="6.72" text-anchor="start" fill="#231f20" textLength="19.80" lengthAdjust="spacingAndGlyphs" transform="rotate(0.06 152.50 235.80)" >BGLT3</text>
<text x="6.60" y="16.20" font-size="11.00" text-anchor="start" fill="#000" font-weight="bold" transform="rotate(0.06 6.60 16.20)" >A</text>
<text x="284.00" y="16.20" font-size="11.00" text-anchor="start" fill="#000" font-weight="bold" transform="rotate(0.06 284.00 16.20)" >B</text>
<text x="6.40" y="303.40" font-size="11.00" text-anchor="start" fill="#000" font-weight="bold" transform="rotate(0.06 6.40 303.40)" >C</text>
<text x="6.80" y="523.80" font-size="11.00" text-anchor="start" fill="#000" font-weight="bold" transform="rotate(0.06 6.80 523.80)" >D</text>
<text x="451.60" y="14.00" font-size="8.09" text-anchor="middle" fill="#231f20" textLength="84.20" lengthAdjust="spacingAndGlyphs" transform="rotate(0.06 451.60 14.00)" >Top Hallmark Gene Sets</text>
<line x1="386.20" y1="24.20" x2="389.60" y2="24.20" stroke="#231f20" stroke-width="0.8" />
<text x="383.80" y="26.40" font-size="6.78" text-anchor="end" fill="#231f20" textLength="55.70" lengthAdjust="spacingAndGlyphs" transform="rotate(0.06 383.80 26.40)" >MYC_TARGETS_V2</text>
<line x1="386.20" y1="34.77" x2="389.60" y2="34.77" stroke="#231f20" stroke-width="0.8" />
<text x="383.80" y="36.97" font-size="6.78" text-anchor="end" fill="#231f20" textLength="55.70" lengthAdjust="spacingAndGlyphs" transform="rotate(0.06 383.80 36.97)" >MYC_TARGETS_V1</text>
<line x1="386.20" y1="45.34" x2="389.60" y2="45.34" stroke="#231f20" stroke-width="0.8" />
<text x="383.80" y="47.54" font-size="6.78" text-anchor="end" fill="#231f20" textLength="95.14" lengthAdjust="spacingAndGlyphs" transform="rotate(0.06 383.80 47.54)" >OXIDATIVE_PHOSPHORYLATION</text>
<line x1="386.20" y1="55.91" x2="389.60" y2="55.91" stroke="#231f20" stroke-width="0.8" />
<text x="383.80" y="58.11" font-size="6.78" text-anchor="end" fill="#231f20" textLength="78.78" lengthAdjust="spacingAndGlyphs" transform="rotate(0.06 383.80 58.11)" >FATTY_ACID_METABOLISM</text>
<line x1="386.20" y1="66.48" x2="389.60" y2="66.48" stroke="#231f20" stroke-width="0.8" />
<text x="383.80" y="68.68" font-size="6.78" text-anchor="end" fill="#231f20" textLength="38.21" lengthAdjust="spacingAndGlyphs" transform="rotate(0.06 383.80 68.68)" >DNA_REPAIR</text>
<line x1="386.20" y1="77.05" x2="389.60" y2="77.05" stroke="#231f20" stroke-width="0.8" />
<text x="383.80" y="79.25" font-size="6.78" text-anchor="end" fill="#231f20" textLength="40.68" lengthAdjust="spacingAndGlyphs" transform="rotate(0.06 383.80 79.25)" >PEROXISOME</text>
<line x1="386.20" y1="87.62" x2="389.60" y2="87.62" stroke="#231f20" stroke-width="0.8" />
<text x="383.80" y="89.82" font-size="6.78" text-anchor="end" fill="#231f20" textLength="100.52" lengthAdjust="spacingAndGlyphs" transform="rotate(0.06 383.80 89.82)" >UNFOLDED_PROTEIN_RESPONSE</text>
<line x1="386.20" y1="98.19" x2="389.60" y2="98.19" stroke="#231f20" stroke-width="0.8" />
<text x="383.80" y="100.39" font-size="6.78" text-anchor="end" fill="#231f20" textLength="42.58" lengthAdjust="spacingAndGlyphs" transform="rotate(0.06 383.80 100.39)" >E2F_TARGETS</text>
<line x1="386.20" y1="108.76" x2="389.60" y2="108.76" stroke="#231f20" stroke-width="0.8" />
<text x="383.80" y="110.96" font-size="6.78" text-anchor="end" fill="#231f20" textLength="57.16" lengthAdjust="spacingAndGlyphs" transform="rotate(0.06 383.80 110.96)" >UV_RESPONSE_UP</text>
<line x1="386.20" y1="119.33" x2="389.60" y2="119.33" stroke="#231f20" stroke-width="0.8" />
<text x="383.80" y="121.53" font-size="6.78" text-anchor="end" fill="#231f20" textLength="56.14" lengthAdjust="spacingAndGlyphs" transform="rotate(0.06 383.80 121.53)" >G2M_CHECKPOINT</text>
<line x1="386.20" y1="129.90" x2="389.60" y2="129.90" stroke="#231f20" stroke-width="0.8" />
<text x="383.80" y="132.10" font-size="6.78" text-anchor="end" fill="#231f20" textLength="67.13" lengthAdjust="spacingAndGlyphs" transform="rotate(0.06 383.80 132.10)" >TGF_BETA_SIGNALING</text>
<line x1="386.20" y1="140.47" x2="389.60" y2="140.47" stroke="#231f20" stroke-width="0.8" />
<text x="383.80" y="142.67" font-size="6.78" text-anchor="end" fill="#231f20" textLength="42.47" lengthAdjust="spacingAndGlyphs" transform="rotate(0.06 383.80 142.67)" >P53_PATHWAY</text>
<line x1="386.20" y1="151.04" x2="389.60" y2="151.04" stroke="#231f20" stroke-width="0.8" />
<text x="383.80" y="153.24" font-size="6.78" text-anchor="end" fill="#231f20" textLength="61.75" lengthAdjust="spacingAndGlyphs" transform="rotate(0.06 383.80 153.24)" >MTORC1_SIGNALING</text>
<line x1="386.20" y1="161.61" x2="389.60" y2="161.61" stroke="#231f20" stroke-width="0.8" />
<text x="383.80" y="163.81" font-size="6.78" text-anchor="end" fill="#231f20" textLength="42.69" lengthAdjust="spacingAndGlyphs" transform="rotate(0.06 383.80 163.81)" >COMPLEMENT</text>
<line x1="386.20" y1="172.18" x2="389.60" y2="172.18" stroke="#231f20" stroke-width="0.8" />
<text x="383.80" y="174.38" font-size="6.78" text-anchor="end" fill="#231f20" textLength="64.56" lengthAdjust="spacingAndGlyphs" transform="rotate(0.06 383.80 174.38)" >KRAS_SIGNALING_UP</text>
<line x1="386.20" y1="182.75" x2="389.60" y2="182.75" stroke="#231f20" stroke-width="0.8" />
<text x="383.80" y="184.95" font-size="6.78" text-anchor="end" fill="#231f20" textLength="71.61" lengthAdjust="spacingAndGlyphs" transform="rotate(0.06 383.80 184.95)" >HEDGEHOG_SIGNALING</text>
<line x1="386.20" y1="193.32" x2="389.60" y2="193.32" stroke="#231f20" stroke-width="0.8" />
<text x="383.80" y="195.52" font-size="6.78" text-anchor="end" fill="#231f20" textLength="80.48" lengthAdjust="spacingAndGlyphs" transform="rotate(0.06 383.80 195.52)" >IL6_JAK_STAT3_SIGNALING</text>
<line x1="386.20" y1="203.89" x2="389.60" y2="203.89" stroke="#231f20" stroke-width="0.8" />
<text x="383.80" y="206.09" font-size="6.78" text-anchor="end" fill="#231f20" textLength="53.46" lengthAdjust="spacingAndGlyphs" transform="rotate(0.06 383.80 206.09)" >APICAL_SURFACE</text>
<line x1="386.20" y1="214.46" x2="389.60" y2="214.46" stroke="#231f20" stroke-width="0.8" />
<text x="383.80" y="216.66" font-size="6.78" text-anchor="end" fill="#231f20" textLength="54.01" lengthAdjust="spacingAndGlyphs" transform="rotate(0.06 383.80 216.66)" >MITOTIC_SPINDLE</text>
<line x1="386.20" y1="225.03" x2="389.60" y2="225.03" stroke="#231f20" stroke-width="0.8" />
<text x="383.80" y="227.23" font-size="6.78" text-anchor="end" fill="#231f20" textLength="66.02" lengthAdjust="spacingAndGlyphs" transform="rotate(0.06 383.80 227.23)" >IL2_STAT5_SIGNALING</text>
<line x1="386.20" y1="235.60" x2="389.60" y2="235.60" stroke="#231f20" stroke-width="0.8" />
<text x="383.80" y="237.80" font-size="6.78" text-anchor="end" fill="#231f20" textLength="34.86" lengthAdjust="spacingAndGlyphs" transform="rotate(0.06 383.80 237.80)" >APOPTOSIS</text>
<line x1="386.20" y1="246.17" x2="389.60" y2="246.17" stroke="#231f20" stroke-width="0.8" />
<text x="383.80" y="248.37" font-size="6.78" text-anchor="end" fill="#231f20" textLength="40.68" lengthAdjust="spacingAndGlyphs" transform="rotate(0.06 383.80 248.37)" >MYOGENESIS</text>
<line x1="386.20" y1="256.74" x2="389.60" y2="256.74" stroke="#231f20" stroke-width="0.8" />
<text x="383.80" y="258.94" font-size="6.78" text-anchor="end" fill="#231f20" textLength="84.38" lengthAdjust="spacingAndGlyphs" transform="rotate(0.06 383.80 258.94)" >INFLAMMATORY_RESPONSE</text>
<line x1="386.20" y1="267.31" x2="389.60" y2="267.31" stroke="#231f20" stroke-width="0.8" />
<text x="383.80" y="269.51" font-size="6.78" text-anchor="end" fill="#231f20" textLength="37.43" lengthAdjust="spacingAndGlyphs" transform="rotate(0.06 383.80 269.51)" >GLYCOLYSIS</text>
<line x1="386.20" y1="277.88" x2="389.60" y2="277.88" stroke="#231f20" stroke-width="0.8" />
<text x="383.80" y="280.08" font-size="6.78" text-anchor="end" fill="#231f20" textLength="60.06" lengthAdjust="spacingAndGlyphs" transform="rotate(0.06 383.80 280.08)" >HEME_METABOLISM</text>
<line x1="386.20" y1="288.45" x2="389.60" y2="288.45" stroke="#231f20" stroke-width="0.8" />
<text x="383.80" y="290.65" font-size="6.78" text-anchor="end" fill="#231f20" textLength="92.34" lengthAdjust="spacingAndGlyphs" transform="rotate(0.06 383.80 290.65)" >CHOLESTEROL_HOMEOSTASIS</text>
<line x1="386.20" y1="299.02" x2="389.60" y2="299.02" stroke="#231f20" stroke-width="0.8" />
<text x="383.80" y="298.62" font-size="6.78" text-anchor="end" fill="#231f20" textLength="12.77" lengthAdjust="spacingAndGlyphs" transform="rotate(0.06 383.80 298.62)" >EMT</text>
<text x="383.80" y="303.52" font-size="3.15" text-anchor="end" fill="#555" textLength="84.40" lengthAdjust="spacingAndGlyphs" transform="rotate(0.06 383.80 303.52)" style="stroke:none">(EPITHELIAL_MESENCHYMAL_TRANSITION)</text>
<line x1="386.20" y1="309.59" x2="389.60" y2="309.59" stroke="#231f20" stroke-width="0.8" />
<text x="383.80" y="311.79" font-size="6.78" text-anchor="end" fill="#231f20" textLength="84.39" lengthAdjust="spacingAndGlyphs" transform="rotate(0.06 383.80 311.79)" >TNFA_SIGNALING_VIA_NFKB</text>
<line x1="386.20" y1="320.16" x2="389.60" y2="320.16" stroke="#231f20" stroke-width="0.8" />
<text x="383.80" y="322.36" font-size="6.78" text-anchor="end" fill="#231f20" textLength="26.90" lengthAdjust="spacingAndGlyphs" transform="rotate(0.06 383.80 322.36)" >HYPOXIA</text>
<path d="M484.80,20.35 L488.96,27.28 L480.64,27.28Z" fill="#a3199b"/>
<rect x="489.35" y="20.95" width="6.50" height="6.50" fill="#ee1c24"/>
<circle cx="500.00" cy="24.20" r="3.40" fill="#ee1c24"/>
<rect x="476.15" y="31.52" width="6.50" height="6.50" fill="#4e2a8e"/>
<path d="M494.20,30.92 L498.36,37.85 L490.04,37.85Z" fill="#ee1c24"/>
<circle cx="499.80" cy="34.77" r="3.40" fill="#ee1c24"/>
<rect x="478.35" y="42.09" width="6.50" height="6.50" fill="#4e2a8e"/>
<path d="M495.00,41.49 L499.16,48.42 L490.84,48.42Z" fill="#ee1c24"/>
<circle cx="498.40" cy="45.34" r="3.40" fill="#ee1c24"/>
<path d="M471.70,52.06 L475.86,58.99 L467.54,58.99Z" fill="#808080"/>
<rect x="469.95" y="52.66" width="6.50" height="6.50" fill="#808080"/>
<circle cx="480.20" cy="55.91" r="3.40" fill="#62218f"/>
<rect x="431.95" y="63.23" width="6.50" height="6.50" fill="#808080"/>
<path d="M477.00,62.63 L481.16,69.56 L472.84,69.56Z" fill="#4e2a8e"/>
<circle cx="479.40" cy="66.48" r="3.40" fill="#62218f"/>
<path d="M473.00,73.20 L477.16,80.13 L468.84,80.13Z" fill="#808080"/>
<circle cx="478.30" cy="77.05" r="3.40" fill="#62218f"/>
<rect x="466.75" y="84.37" width="6.50" height="6.50" fill="#808080"/>
<circle cx="475.50" cy="87.62" r="3.40" fill="#808080"/>
<path d="M481.20,83.77 L485.36,90.70 L477.04,90.70Z" fill="#4e2a8e"/>
<rect x="406.45" y="94.94" width="6.50" height="6.50" fill="#ee1c24"/>
<path d="M430.90,94.34 L435.06,101.27 L426.74,101.27Z" fill="#808080"/>
<circle cx="437.40" cy="98.19" r="3.40" fill="#808080"/>
<rect x="420.45" y="105.51" width="6.50" height="6.50" fill="#4e2a8e"/>
<path d="M429.70,104.91 L433.86,111.84 L425.54,111.84Z" fill="#808080"/>
<circle cx="435.20" cy="108.76" r="3.40" fill="#808080"/>
<rect x="412.75" y="116.08" width="6.50" height="6.50" fill="#d91b7e"/>
<path d="M427.30,115.48 L431.46,122.41 L423.14,122.41Z" fill="#808080"/>
<circle cx="431.30" cy="119.33" r="3.40" fill="#808080"/>
<path d="M423.70,126.05 L427.86,132.98 L419.54,132.98Z" fill="#4e2a8e"/>
<rect x="427.15" y="126.65" width="6.50" height="6.50" fill="#808080"/>
<path d="M424.90,136.62 L429.06,143.55 L420.74,143.55Z" fill="#808080"/>
<circle cx="427.30" cy="140.47" r="3.40" fill="#808080"/>
<rect x="412.75" y="147.79" width="6.50" height="6.50" fill="#d91b7e"/>
<path d="M423.70,147.19 L427.86,154.12 L419.54,154.12Z" fill="#7b2392"/>
<circle cx="426.00" cy="151.04" r="3.40" fill="#808080"/>
<circle cx="424.90" cy="161.61" r="3.40" fill="#62218f"/>
<rect x="428.75" y="158.36" width="6.50" height="6.50" fill="#808080"/>
<path d="M470.00,157.76 L474.16,164.69 L465.84,164.69Z" fill="#808080"/>
<circle cx="423.20" cy="172.18" r="3.40" fill="#62218f"/>
<rect x="425.75" y="168.93" width="6.50" height="6.50" fill="#808080"/>
<path d="M433.30,168.33 L437.46,175.26 L429.14,175.26Z" fill="#808080"/>
<circle cx="423.20" cy="182.75" r="3.40" fill="#62218f"/>
<rect x="430.05" y="179.50" width="6.50" height="6.50" fill="#808080"/>
<path d="M435.70,178.90 L439.86,185.83 L431.54,185.83Z" fill="#808080"/>
<circle cx="422.50" cy="193.32" r="3.40" fill="#62218f"/>
<rect x="426.45" y="190.07" width="6.50" height="6.50" fill="#808080"/>
<path d="M434.50,189.47 L438.66,196.40 L430.34,196.40Z" fill="#808080"/>
<rect x="419.25" y="200.64" width="6.50" height="6.50" fill="#4e2a8e"/>
<circle cx="422.50" cy="203.89" r="3.40" fill="#62218f"/>
<path d="M423.00,200.04 L427.16,206.97 L418.84,206.97Z" fill="#4e2a8e"/>
<rect x="418.05" y="211.21" width="6.50" height="6.50" fill="#4e2a8e"/>
<path d="M424.90,210.61 L429.06,217.54 L420.74,217.54Z" fill="#4e2a8e"/>
<circle cx="421.30" cy="225.03" r="3.40" fill="#62218f"/>
<rect x="424.05" y="221.78" width="6.50" height="6.50" fill="#808080"/>
<path d="M432.00,221.18 L436.16,228.11 L427.84,228.11Z" fill="#808080"/>
<circle cx="420.80" cy="235.60" r="3.40" fill="#62218f"/>
<rect x="420.85" y="232.35" width="6.50" height="6.50" fill="#4e2a8e"/>
<path d="M428.50,231.75 L432.66,238.68 L424.34,238.68Z" fill="#808080"/>
<circle cx="420.80" cy="246.17" r="3.40" fill="#7b2392"/>
<rect x="422.35" y="242.92" width="6.50" height="6.50" fill="#4e2a8e"/>
<circle cx="420.00" cy="256.74" r="3.40" fill="#7b2392"/>
<rect x="421.65" y="253.49" width="6.50" height="6.50" fill="#4e2a8e"/>
<path d="M435.20,252.89 L439.36,259.82 L431.04,259.82Z" fill="#808080"/>
<rect x="413.15" y="264.06" width="6.50" height="6.50" fill="#a3199b"/>
<path d="M423.70,263.46 L427.86,270.39 L419.54,270.39Z" fill="#4e2a8e"/>
<path d="M394.60,274.03 L398.76,280.96 L390.44,280.96Z" fill="#ee1c24"/>
<rect x="399.35" y="274.63" width="6.50" height="6.50" fill="#ee1c24"/>
<circle cx="415.40" cy="277.88" r="3.40" fill="#ee1c24"/>
<rect x="408.25" y="285.20" width="6.50" height="6.50" fill="#ee1c24"/>
<circle cx="413.80" cy="288.45" r="3.40" fill="#ee1c24"/>
<circle cx="413.80" cy="299.02" r="3.40" fill="#ee1c24"/>
<rect x="418.25" y="295.77" width="6.50" height="6.50" fill="#a3199b"/>
<path d="M428.20,295.17 L432.36,302.10 L424.04,302.10Z" fill="#808080"/>
<rect x="406.75" y="306.34" width="6.50" height="6.50" fill="#ee1c24"/>
<circle cx="412.80" cy="309.59" r="3.40" fill="#ee1c24"/>
<path d="M399.20,316.31 L403.36,323.24 L395.04,323.24Z" fill="#ee1c24"/>
<rect x="399.35" y="316.91" width="6.50" height="6.50" fill="#ee1c24"/>
<rect x="389.60" y="18.20" width="124.10" height="307.90" fill="none" stroke="#231f20" stroke-width="1.1" />
<line x1="417.00" y1="326.10" x2="417.00" y2="328.60" stroke="#231f20" stroke-width="0.8" />
<text x="417.00" y="337.40" font-size="6.93" text-anchor="middle" fill="#231f20" textLength="7.52" lengthAdjust="spacingAndGlyphs" transform="rotate(0.06 417.00 337.40)" >−2</text>
<line x1="451.30" y1="326.10" x2="451.30" y2="328.60" stroke="#231f20" stroke-width="0.8" />
<text x="451.30" y="337.40" font-size="6.93" text-anchor="middle" fill="#231f20" textLength="3.67" lengthAdjust="spacingAndGlyphs" transform="rotate(0.06 451.30 337.40)" >0</text>
<line x1="485.60" y1="326.10" x2="485.60" y2="328.60" stroke="#231f20" stroke-width="0.8" />
<text x="485.60" y="337.40" font-size="6.93" text-anchor="middle" fill="#231f20" textLength="3.67" lengthAdjust="spacingAndGlyphs" transform="rotate(0.06 485.60 337.40)" >2</text>
<text x="451.60" y="348.20" font-size="7.77" text-anchor="middle" fill="#222" textLength="89.30" lengthAdjust="spacingAndGlyphs" transform="rotate(0.06 451.60 348.20)" style="stroke-width:0.3px">Normalized enrichment score (NES)</text>
<text x="401.50" y="362.10" font-size="6.51" text-anchor="start" fill="#231f20" textLength="30.90" lengthAdjust="spacingAndGlyphs" transform="rotate(0.06 401.50 362.10)" >Comparison</text>
<path d="M404.70,365.55 L408.86,372.48 L400.54,372.48Z" fill="#111"/>
<rect x="401.45" y="375.35" width="6.50" height="6.50" fill="#111"/>
<circle cx="404.70" cy="388.30" r="3.40" fill="#111"/>
<text x="411.60" y="371.50" font-size="6.51" text-anchor="start" fill="#231f20" textLength="44.60" lengthAdjust="spacingAndGlyphs" transform="rotate(0.06 411.60 371.50)" >CFU-E BCL11A<tspan font-size="70%" baseline-shift="3">E</tspan></text>
<text x="411.60" y="380.70" font-size="6.51" text-anchor="start" fill="#231f20" textLength="39.90" lengthAdjust="spacingAndGlyphs" transform="rotate(0.06 411.60 380.70)" >ProE BCL11A<tspan font-size="70%" baseline-shift="3">E</tspan></text>
<text x="411.60" y="390.50" font-size="6.51" text-anchor="start" fill="#231f20" textLength="43.40" lengthAdjust="spacingAndGlyphs" transform="rotate(0.06 411.60 390.50)" >BasoE BCL11A<tspan font-size="70%" baseline-shift="3">E</tspan></text>
<text x="470.30" y="362.20" font-size="6.51" text-anchor="start" fill="#231f20" textLength="31.70" lengthAdjust="spacingAndGlyphs" transform="rotate(0.06 470.30 362.20)" >−log<tspan font-size="70%" baseline-shift="-1.6">10</tspan>(FDR)</text>
<defs><linearGradient id="fdr" x1="0" y1="0" x2="0" y2="1"><stop offset="0" stop-color="#f2132a"/><stop offset="0.45" stop-color="#d6128a"/><stop offset="1" stop-color="#44268f"/></linearGradient><linearGradient id="lfc" x1="0" y1="0" x2="0" y2="1"><stop offset="0" stop-color="#e0651c"/><stop offset="0.25" stop-color="#f3a77a"/><stop offset="0.5" stop-color="#fbfaf8"/><stop offset="0.75" stop-color="#9cbfe0"/><stop offset="1" stop-color="#2a6fb2"/></linearGradient><linearGradient id="atac" x1="0" y1="0" x2="0" y2="1"><stop offset="0" stop-color="#c9559a"/><stop offset="0.5" stop-color="#fbf7f9"/><stop offset="1" stop-color="#17957a"/></linearGradient></defs>
<rect x="482.10" y="368.80" width="8.10" height="27.00" fill="url(#fdr)" stroke="none" stroke-width="1" />
<text x="493.20" y="372.00" font-size="6.51" text-anchor="start" fill="#231f20" textLength="3.45" lengthAdjust="spacingAndGlyphs" transform="rotate(0.06 493.20 372.00)" >5</text>
<text x="493.20" y="378.70" font-size="6.51" text-anchor="start" fill="#231f20" textLength="3.45" lengthAdjust="spacingAndGlyphs" transform="rotate(0.06 493.20 378.70)" >4</text>
<text x="493.20" y="385.90" font-size="6.51" text-anchor="start" fill="#231f20" textLength="3.45" lengthAdjust="spacingAndGlyphs" transform="rotate(0.06 493.20 385.90)" >3</text>
<text x="493.20" y="393.20" font-size="6.51" text-anchor="start" fill="#231f20" textLength="3.45" lengthAdjust="spacingAndGlyphs" transform="rotate(0.06 493.20 393.20)" >2</text>
<rect x="55.40" y="321.40" width="15.80" height="5.72" fill="#fefefe" stroke="none" stroke-width="1" />
<rect x="71.20" y="321.40" width="15.80" height="5.72" fill="#fefefe" stroke="none" stroke-width="1" />
<rect x="87.00" y="321.40" width="15.80" height="5.72" fill="#fefefe" stroke="none" stroke-width="1" />
<rect x="102.80" y="321.40" width="15.80" height="5.72" fill="#f6b48a" stroke="none" stroke-width="1" />
<rect x="118.60" y="321.40" width="15.80" height="5.72" fill="#e97f45" stroke="none" stroke-width="1" />
<rect x="134.40" y="321.40" width="15.80" height="5.72" fill="#e77b3c" stroke="none" stroke-width="1" />
<rect x="150.20" y="321.40" width="15.80" height="5.72" fill="#ec8c55" stroke="none" stroke-width="1" />
<rect x="172.20" y="321.40" width="15.80" height="5.72" fill="#fefefe" stroke="none" stroke-width="1" />
<rect x="188.00" y="321.40" width="15.80" height="5.72" fill="#f2dae8" stroke="none" stroke-width="1" />
<rect x="203.80" y="321.40" width="15.80" height="5.72" fill="#f2dae8" stroke="none" stroke-width="1" />
<rect x="219.60" y="321.40" width="15.80" height="5.72" fill="#fefefe" stroke="none" stroke-width="1" />
<text x="49.60" y="326.36" font-size="6.51" text-anchor="end" fill="#231f20" textLength="21.70" lengthAdjust="spacingAndGlyphs" transform="rotate(0.06 49.60 326.36)" >WNT9A</text>
<line x1="52.50" y1="324.26" x2="54.90" y2="324.26" stroke="#231f20" stroke-width="0.9" />
<rect x="55.40" y="327.12" width="15.80" height="5.72" fill="#fefefe" stroke="none" stroke-width="1" />
<rect x="71.20" y="327.12" width="15.80" height="5.72" fill="#fefefe" stroke="none" stroke-width="1" />
<rect x="87.00" y="327.12" width="15.80" height="5.72" fill="#fefefe" stroke="none" stroke-width="1" />
<rect x="102.80" y="327.12" width="15.80" height="5.72" fill="#f4a574" stroke="none" stroke-width="1" />
<rect x="118.60" y="327.12" width="15.80" height="5.72" fill="#e57a3f" stroke="none" stroke-width="1" />
<rect x="134.40" y="327.12" width="15.80" height="5.72" fill="#e4783a" stroke="none" stroke-width="1" />
<rect x="150.20" y="327.12" width="15.80" height="5.72" fill="#ee9560" stroke="none" stroke-width="1" />
<rect x="172.20" y="327.12" width="15.80" height="5.72" fill="#efd0e2" stroke="none" stroke-width="1" />
<rect x="188.00" y="327.12" width="15.80" height="5.72" fill="#efd0e2" stroke="none" stroke-width="1" />
<rect x="203.80" y="327.12" width="15.80" height="5.72" fill="#f2dae8" stroke="none" stroke-width="1" />
<rect x="219.60" y="327.12" width="15.80" height="5.72" fill="#fefefe" stroke="none" stroke-width="1" />
<text x="49.60" y="332.09" font-size="6.51" text-anchor="end" fill="#231f20" textLength="16.20" lengthAdjust="spacingAndGlyphs" transform="rotate(0.06 49.60 332.09)" >PDK4</text>
<line x1="52.50" y1="329.99" x2="54.90" y2="329.99" stroke="#231f20" stroke-width="0.9" />
<rect x="55.40" y="332.85" width="15.80" height="5.72" fill="#fefefe" stroke="none" stroke-width="1" />
<rect x="71.20" y="332.85" width="15.80" height="5.72" fill="#fefefe" stroke="none" stroke-width="1" />
<rect x="87.00" y="332.85" width="15.80" height="5.72" fill="#fefefe" stroke="none" stroke-width="1" />
<rect x="102.80" y="332.85" width="15.80" height="5.72" fill="#f6b890" stroke="none" stroke-width="1" />
<rect x="118.60" y="332.85" width="15.80" height="5.72" fill="#e98348" stroke="none" stroke-width="1" />
<rect x="134.40" y="332.85" width="15.80" height="5.72" fill="#e88048" stroke="none" stroke-width="1" />
<rect x="150.20" y="332.85" width="15.80" height="5.72" fill="#f2ae84" stroke="none" stroke-width="1" />
<rect x="172.20" y="332.85" width="15.80" height="5.72" fill="#fefefe" stroke="none" stroke-width="1" />
<rect x="188.00" y="332.85" width="15.80" height="5.72" fill="#dfa2c5" stroke="none" stroke-width="1" />
<rect x="203.80" y="332.85" width="15.80" height="5.72" fill="#dfa2c5" stroke="none" stroke-width="1" />
<rect x="219.60" y="332.85" width="15.80" height="5.72" fill="#efd0e2" stroke="none" stroke-width="1" />
<text x="49.60" y="337.81" font-size="6.51" text-anchor="end" fill="#231f20" textLength="20.33" lengthAdjust="spacingAndGlyphs" transform="rotate(0.06 49.60 337.81)" >TPSG1</text>
<line x1="52.50" y1="335.71" x2="54.90" y2="335.71" stroke="#231f20" stroke-width="0.9" />
<rect x="55.40" y="338.57" width="15.80" height="5.72" fill="#fefefe" stroke="none" stroke-width="1" />
<rect x="71.20" y="338.57" width="15.80" height="5.72" fill="#fefefe" stroke="none" stroke-width="1" />
<rect x="87.00" y="338.57" width="15.80" height="5.72" fill="#fefefe" stroke="none" stroke-width="1" />
<rect x="102.80" y="338.57" width="15.80" height="5.72" fill="#f8c4a2" stroke="none" stroke-width="1" />
<rect x="118.60" y="338.57" width="15.80" height="5.72" fill="#eb8c55" stroke="none" stroke-width="1" />
<rect x="134.40" y="338.57" width="15.80" height="5.72" fill="#ea8b55" stroke="none" stroke-width="1" />
<rect x="150.20" y="338.57" width="15.80" height="5.72" fill="#f0a070" stroke="none" stroke-width="1" />
<rect x="172.20" y="338.57" width="15.80" height="5.72" fill="#dfa2c5" stroke="none" stroke-width="1" />
<rect x="188.00" y="338.57" width="15.80" height="5.72" fill="#e4b0ce" stroke="none" stroke-width="1" />
<rect x="203.80" y="338.57" width="15.80" height="5.72" fill="#dfa2c5" stroke="none" stroke-width="1" />
<rect x="219.60" y="338.57" width="15.80" height="5.72" fill="#e9bdd5" stroke="none" stroke-width="1" />
<text x="49.60" y="343.54" font-size="6.51" text-anchor="end" fill="#231f20" textLength="16.88" lengthAdjust="spacingAndGlyphs" transform="rotate(0.06 49.60 343.54)" >ESPN</text>
<line x1="52.50" y1="341.44" x2="54.90" y2="341.44" stroke="#231f20" stroke-width="0.9" />
<rect x="55.40" y="344.30" width="15.80" height="5.72" fill="#fefefe" stroke="none" stroke-width="1" />
<rect x="71.20" y="344.30" width="15.80" height="5.72" fill="#fefefe" stroke="none" stroke-width="1" />
<rect x="87.00" y="344.30" width="15.80" height="5.72" fill="#fefefe" stroke="none" stroke-width="1" />
<rect x="102.80" y="344.30" width="15.80" height="5.72" fill="#fad9c4" stroke="none" stroke-width="1" />
<rect x="118.60" y="344.30" width="15.80" height="5.72" fill="#f0a070" stroke="none" stroke-width="1" />
<rect x="134.40" y="344.30" width="15.80" height="5.72" fill="#ef9c6a" stroke="none" stroke-width="1" />
<rect x="150.20" y="344.30" width="15.80" height="5.72" fill="#f2a87c" stroke="none" stroke-width="1" />
<rect x="172.20" y="344.30" width="15.80" height="5.72" fill="#e4b0ce" stroke="none" stroke-width="1" />
<rect x="188.00" y="344.30" width="15.80" height="5.72" fill="#e9bdd5" stroke="none" stroke-width="1" />
<rect x="203.80" y="344.30" width="15.80" height="5.72" fill="#edc7dc" stroke="none" stroke-width="1" />
<rect x="219.60" y="344.30" width="15.80" height="5.72" fill="#fefefe" stroke="none" stroke-width="1" />
<text x="49.60" y="349.26" font-size="6.51" text-anchor="end" fill="#231f20" textLength="16.20" lengthAdjust="spacingAndGlyphs" transform="rotate(0.06 49.60 349.26)" >RBP5</text>
<line x1="52.50" y1="347.16" x2="54.90" y2="347.16" stroke="#231f20" stroke-width="0.9" />
<rect x="55.40" y="350.02" width="15.80" height="5.72" fill="#fefefe" stroke="none" stroke-width="1" />
<rect x="71.20" y="350.02" width="15.80" height="5.72" fill="#fefefe" stroke="none" stroke-width="1" />
<rect x="87.00" y="350.02" width="15.80" height="5.72" fill="#fefefe" stroke="none" stroke-width="1" />
<rect x="102.80" y="350.02" width="15.80" height="5.72" fill="#fdf0e6" stroke="none" stroke-width="1" />
<rect x="118.60" y="350.02" width="15.80" height="5.72" fill="#fcdcc4" stroke="none" stroke-width="1" />
<rect x="134.40" y="350.02" width="15.80" height="5.72" fill="#f2a87c" stroke="none" stroke-width="1" />
<rect x="150.20" y="350.02" width="15.80" height="5.72" fill="#f6b890" stroke="none" stroke-width="1" />
<rect x="172.20" y="350.02" width="15.80" height="5.72" fill="#fefefe" stroke="none" stroke-width="1" />
<rect x="188.00" y="350.02" width="15.80" height="5.72" fill="#fefefe" stroke="none" stroke-width="1" />
<rect x="203.80" y="350.02" width="15.80" height="5.72" fill="#f5e1ed" stroke="none" stroke-width="1" />
<rect x="219.60" y="350.02" width="15.80" height="5.72" fill="#fefefe" stroke="none" stroke-width="1" />
<text x="49.60" y="354.99" font-size="6.51" text-anchor="end" fill="#231f20" textLength="12.40" lengthAdjust="spacingAndGlyphs" transform="rotate(0.06 49.60 354.99)" >HBZ</text>
<line x1="52.50" y1="352.89" x2="54.90" y2="352.89" stroke="#231f20" stroke-width="0.9" />
<rect x="55.40" y="355.75" width="15.80" height="5.72" fill="#fefefe" stroke="none" stroke-width="1" />
<rect x="71.20" y="355.75" width="15.80" height="5.72" fill="#fefefe" stroke="none" stroke-width="1" />
<rect x="87.00" y="355.75" width="15.80" height="5.72" fill="#fefefe" stroke="none" stroke-width="1" />
<rect x="102.80" y="355.75" width="15.80" height="5.72" fill="#f9cfb5" stroke="none" stroke-width="1" />
<rect x="118.60" y="355.75" width="15.80" height="5.72" fill="#f3ab80" stroke="none" stroke-width="1" />
<rect x="134.40" y="355.75" width="15.80" height="5.72" fill="#f1a274" stroke="none" stroke-width="1" />
<rect x="150.20" y="355.75" width="15.80" height="5.72" fill="#f3ac82" stroke="none" stroke-width="1" />
<rect x="172.20" y="355.75" width="15.80" height="5.72" fill="#e7bcd4" stroke="none" stroke-width="1" />
<rect x="188.00" y="355.75" width="15.80" height="5.72" fill="#ecc4db" stroke="none" stroke-width="1" />
<rect x="203.80" y="355.75" width="15.80" height="5.72" fill="#f2dae8" stroke="none" stroke-width="1" />
<rect x="219.60" y="355.75" width="15.80" height="5.72" fill="#dc9ec1" stroke="none" stroke-width="1" />
<text x="49.60" y="360.71" font-size="6.51" text-anchor="end" fill="#231f20" textLength="18.27" lengthAdjust="spacingAndGlyphs" transform="rotate(0.06 49.60 360.71)" >KLF15</text>
<line x1="52.50" y1="358.61" x2="54.90" y2="358.61" stroke="#231f20" stroke-width="0.9" />
<rect x="55.40" y="361.47" width="15.80" height="5.72" fill="#fefefe" stroke="none" stroke-width="1" />
<rect x="71.20" y="361.47" width="15.80" height="5.72" fill="#fefefe" stroke="none" stroke-width="1" />
<rect x="87.00" y="361.47" width="15.80" height="5.72" fill="#fefefe" stroke="none" stroke-width="1" />
<rect x="102.80" y="361.47" width="15.80" height="5.72" fill="#f5b48a" stroke="none" stroke-width="1" />
<rect x="118.60" y="361.47" width="15.80" height="5.72" fill="#f0a070" stroke="none" stroke-width="1" />
<rect x="134.40" y="361.47" width="15.80" height="5.72" fill="#f0a070" stroke="none" stroke-width="1" />
<rect x="150.20" y="361.47" width="15.80" height="5.72" fill="#ee9860" stroke="none" stroke-width="1" />
<rect x="172.20" y="361.47" width="15.80" height="5.72" fill="#efd0e2" stroke="none" stroke-width="1" />
<rect x="188.00" y="361.47" width="15.80" height="5.72" fill="#efd0e2" stroke="none" stroke-width="1" />
<rect x="203.80" y="361.47" width="15.80" height="5.72" fill="#f2dae8" stroke="none" stroke-width="1" />
<rect x="219.60" y="361.47" width="15.80" height="5.72" fill="#f6e4ee" stroke="none" stroke-width="1" />
<text x="49.60" y="366.44" font-size="6.51" text-anchor="end" fill="#231f20" textLength="16.54" lengthAdjust="spacingAndGlyphs" transform="rotate(0.06 49.60 366.44)" >CTSE</text>
<line x1="52.50" y1="364.34" x2="54.90" y2="364.34" stroke="#231f20" stroke-width="0.9" />
<rect x="55.40" y="367.20" width="15.80" height="5.72" fill="#fefefe" stroke="none" stroke-width="1" />
<rect x="71.20" y="367.20" width="15.80" height="5.72" fill="#fefefe" stroke="none" stroke-width="1" />
<rect x="87.00" y="367.20" width="15.80" height="5.72" fill="#fefefe" stroke="none" stroke-width="1" />
<rect x="102.80" y="367.20" width="15.80" height="5.72" fill="#fce4d6" stroke="none" stroke-width="1" />
<rect x="118.60" y="367.20" width="15.80" height="5.72" fill="#f6bc98" stroke="none" stroke-width="1" />
<rect x="134.40" y="367.20" width="15.80" height="5.72" fill="#f3ab80" stroke="none" stroke-width="1" />
<rect x="150.20" y="367.20" width="15.80" height="5.72" fill="#f6bc98" stroke="none" stroke-width="1" />
<rect x="172.20" y="367.20" width="15.80" height="5.72" fill="#d4eee6" stroke="none" stroke-width="1" />
<rect x="188.00" y="367.20" width="15.80" height="5.72" fill="#f6e4ee" stroke="none" stroke-width="1" />
<rect x="203.80" y="367.20" width="15.80" height="5.72" fill="#f2dae8" stroke="none" stroke-width="1" />
<rect x="219.60" y="367.20" width="15.80" height="5.72" fill="#fefefe" stroke="none" stroke-width="1" />
<text x="49.60" y="372.16" font-size="6.51" text-anchor="end" fill="#231f20" textLength="19.41" lengthAdjust="spacingAndGlyphs" transform="rotate(0.06 49.60 372.16)" >GATA5</text>
<line x1="52.50" y1="370.06" x2="54.90" y2="370.06" stroke="#231f20" stroke-width="0.9" />
<rect x="55.40" y="372.92" width="15.80" height="5.72" fill="#fbd7c0" stroke="none" stroke-width="1" />
<rect x="71.20" y="372.92" width="15.80" height="5.72" fill="#f6b48e" stroke="none" stroke-width="1" />
<rect x="87.00" y="372.92" width="15.80" height="5.72" fill="#f6b48e" stroke="none" stroke-width="1" />
<rect x="102.80" y="372.92" width="15.80" height="5.72" fill="#fefaf6" stroke="none" stroke-width="1" />
<rect x="118.60" y="372.92" width="15.80" height="5.72" fill="#f8c8aa" stroke="none" stroke-width="1" />
<rect x="134.40" y="372.92" width="15.80" height="5.72" fill="#f4b28a" stroke="none" stroke-width="1" />
<rect x="150.20" y="372.92" width="15.80" height="5.72" fill="#fad5bd" stroke="none" stroke-width="1" />
<rect x="172.20" y="372.92" width="15.80" height="5.72" fill="#fefefe" stroke="none" stroke-width="1" />
<rect x="188.00" y="372.92" width="15.80" height="5.72" fill="#da98be" stroke="none" stroke-width="1" />
<rect x="203.80" y="372.92" width="15.80" height="5.72" fill="#d78fb8" stroke="none" stroke-width="1" />
<rect x="219.60" y="372.92" width="15.80" height="5.72" fill="#e4b0ce" stroke="none" stroke-width="1" />
<text x="49.60" y="377.89" font-size="6.51" text-anchor="end" fill="#231f20" textLength="13.44" lengthAdjust="spacingAndGlyphs" transform="rotate(0.06 49.60 377.89)" >HBG</text>
<line x1="52.50" y1="375.79" x2="54.90" y2="375.79" stroke="#231f20" stroke-width="0.9" />
<rect x="55.40" y="378.65" width="15.80" height="5.72" fill="#fefefe" stroke="none" stroke-width="1" />
<rect x="71.20" y="378.65" width="15.80" height="5.72" fill="#fefefe" stroke="none" stroke-width="1" />
<rect x="87.00" y="378.65" width="15.80" height="5.72" fill="#fefefe" stroke="none" stroke-width="1" />
<rect x="102.80" y="378.65" width="15.80" height="5.72" fill="#fad5bd" stroke="none" stroke-width="1" />
<rect x="118.60" y="378.65" width="15.80" height="5.72" fill="#f0a070" stroke="none" stroke-width="1" />
<rect x="134.40" y="378.65" width="15.80" height="5.72" fill="#f3a87c" stroke="none" stroke-width="1" />
<rect x="150.20" y="378.65" width="15.80" height="5.72" fill="#f9d0b5" stroke="none" stroke-width="1" />
<rect x="172.20" y="378.65" width="15.80" height="5.72" fill="#fefefe" stroke="none" stroke-width="1" />
<rect x="188.00" y="378.65" width="15.80" height="5.72" fill="#efd0e2" stroke="none" stroke-width="1" />
<rect x="203.80" y="378.65" width="15.80" height="5.72" fill="#efd0e2" stroke="none" stroke-width="1" />
<rect x="219.60" y="378.65" width="15.80" height="5.72" fill="#fefefe" stroke="none" stroke-width="1" />
<text x="49.60" y="383.61" font-size="6.51" text-anchor="end" fill="#231f20" textLength="20.67" lengthAdjust="spacingAndGlyphs" transform="rotate(0.06 49.60 383.61)" >RBM47</text>
<line x1="52.50" y1="381.51" x2="54.90" y2="381.51" stroke="#231f20" stroke-width="0.9" />
<rect x="55.40" y="384.38" width="15.80" height="5.72" fill="#fefefe" stroke="none" stroke-width="1" />
<rect x="71.20" y="384.38" width="15.80" height="5.72" fill="#fefefe" stroke="none" stroke-width="1" />
<rect x="87.00" y="384.38" width="15.80" height="5.72" fill="#fefefe" stroke="none" stroke-width="1" />
<rect x="102.80" y="384.38" width="15.80" height="5.72" fill="#fefefe" stroke="none" stroke-width="1" />
<rect x="118.60" y="384.38" width="15.80" height="5.72" fill="#fde8da" stroke="none" stroke-width="1" />
<rect x="134.40" y="384.38" width="15.80" height="5.72" fill="#f6bc98" stroke="none" stroke-width="1" />
<rect x="150.20" y="384.38" width="15.80" height="5.72" fill="#fef4ee" stroke="none" stroke-width="1" />
<rect x="172.20" y="384.38" width="15.80" height="5.72" fill="#fefefe" stroke="none" stroke-width="1" />
<rect x="188.00" y="384.38" width="15.80" height="5.72" fill="#f2dae8" stroke="none" stroke-width="1" />
<rect x="203.80" y="384.38" width="15.80" height="5.72" fill="#edc7dc" stroke="none" stroke-width="1" />
<rect x="219.60" y="384.38" width="15.80" height="5.72" fill="#fefefe" stroke="none" stroke-width="1" />
<text x="49.60" y="389.34" font-size="6.51" text-anchor="end" fill="#231f20" textLength="22.39" lengthAdjust="spacingAndGlyphs" transform="rotate(0.06 49.60 389.34)" >HECW2</text>
<line x1="52.50" y1="387.24" x2="54.90" y2="387.24" stroke="#231f20" stroke-width="0.9" />
<rect x="55.40" y="390.10" width="15.80" height="5.72" fill="#fefefe" stroke="none" stroke-width="1" />
<rect x="71.20" y="390.10" width="15.80" height="5.72" fill="#fefefe" stroke="none" stroke-width="1" />
<rect x="87.00" y="390.10" width="15.80" height="5.72" fill="#fefefe" stroke="none" stroke-width="1" />
<rect x="102.80" y="390.10" width="15.80" height="5.72" fill="#fbd9c4" stroke="none" stroke-width="1" />
<rect x="118.60" y="390.10" width="15.80" height="5.72" fill="#f5b48e" stroke="none" stroke-width="1" />
<rect x="134.40" y="390.10" width="15.80" height="5.72" fill="#f3a87c" stroke="none" stroke-width="1" />
<rect x="150.20" y="390.10" width="15.80" height="5.72" fill="#f9d0b5" stroke="none" stroke-width="1" />
<rect x="172.20" y="390.10" width="15.80" height="5.72" fill="#fefefe" stroke="none" stroke-width="1" />
<rect x="188.00" y="390.10" width="15.80" height="5.72" fill="#fefefe" stroke="none" stroke-width="1" />
<rect x="203.80" y="390.10" width="15.80" height="5.72" fill="#f6e4ee" stroke="none" stroke-width="1" />
<rect x="219.60" y="390.10" width="15.80" height="5.72" fill="#fefefe" stroke="none" stroke-width="1" />
<text x="49.60" y="395.06" font-size="6.51" text-anchor="end" fill="#231f20" textLength="19.99" lengthAdjust="spacingAndGlyphs" transform="rotate(0.06 49.60 395.06)" >APOL1</text>
<line x1="52.50" y1="392.96" x2="54.90" y2="392.96" stroke="#231f20" stroke-width="0.9" />
<rect x="55.40" y="395.82" width="15.80" height="5.72" fill="#fefefe" stroke="none" stroke-width="1" />
<rect x="71.20" y="395.82" width="15.80" height="5.72" fill="#fefefe" stroke="none" stroke-width="1" />
<rect x="87.00" y="395.82" width="15.80" height="5.72" fill="#fefefe" stroke="none" stroke-width="1" />
<rect x="102.80" y="395.82" width="15.80" height="5.72" fill="#fefefe" stroke="none" stroke-width="1" />
<rect x="118.60" y="395.82" width="15.80" height="5.72" fill="#f6bc98" stroke="none" stroke-width="1" />
<rect x="134.40" y="395.82" width="15.80" height="5.72" fill="#f5b48e" stroke="none" stroke-width="1" />
<rect x="150.20" y="395.82" width="15.80" height="5.72" fill="#fce0cf" stroke="none" stroke-width="1" />
<rect x="172.20" y="395.82" width="15.80" height="5.72" fill="#fefefe" stroke="none" stroke-width="1" />
<rect x="188.00" y="395.82" width="15.80" height="5.72" fill="#f6e4ee" stroke="none" stroke-width="1" />
<rect x="203.80" y="395.82" width="15.80" height="5.72" fill="#f2dae8" stroke="none" stroke-width="1" />
<rect x="219.60" y="395.82" width="15.80" height="5.72" fill="#fefefe" stroke="none" stroke-width="1" />
<text x="49.60" y="400.79" font-size="6.51" text-anchor="end" fill="#231f20" textLength="23.78" lengthAdjust="spacingAndGlyphs" transform="rotate(0.06 49.60 400.79)" >PLXNB3</text>
<line x1="52.50" y1="398.69" x2="54.90" y2="398.69" stroke="#231f20" stroke-width="0.9" />
<rect x="55.40" y="401.55" width="15.80" height="5.72" fill="#fefefe" stroke="none" stroke-width="1" />
<rect x="71.20" y="401.55" width="15.80" height="5.72" fill="#fefefe" stroke="none" stroke-width="1" />
<rect x="87.00" y="401.55" width="15.80" height="5.72" fill="#fefefe" stroke="none" stroke-width="1" />
<rect x="102.80" y="401.55" width="15.80" height="5.72" fill="#fce6d9" stroke="none" stroke-width="1" />
<rect x="118.60" y="401.55" width="15.80" height="5.72" fill="#f5b48e" stroke="none" stroke-width="1" />
<rect x="134.40" y="401.55" width="15.80" height="5.72" fill="#f8c8aa" stroke="none" stroke-width="1" />
<rect x="150.20" y="401.55" width="15.80" height="5.72" fill="#fdede4" stroke="none" stroke-width="1" />
<rect x="172.20" y="401.55" width="15.80" height="5.72" fill="#fefefe" stroke="none" stroke-width="1" />
<rect x="188.00" y="401.55" width="15.80" height="5.72" fill="#f6e4ee" stroke="none" stroke-width="1" />
<rect x="203.80" y="401.55" width="15.80" height="5.72" fill="#edc7dc" stroke="none" stroke-width="1" />
<rect x="219.60" y="401.55" width="15.80" height="5.72" fill="#fefefe" stroke="none" stroke-width="1" />
<text x="49.60" y="406.51" font-size="6.51" text-anchor="end" fill="#231f20" textLength="21.70" lengthAdjust="spacingAndGlyphs" transform="rotate(0.06 49.60 406.51)" >LRMDA</text>
<line x1="52.50" y1="404.41" x2="54.90" y2="404.41" stroke="#231f20" stroke-width="0.9" />
<rect x="55.40" y="407.27" width="15.80" height="5.72" fill="#fefefe" stroke="none" stroke-width="1" />
<rect x="71.20" y="407.27" width="15.80" height="5.72" fill="#fefefe" stroke="none" stroke-width="1" />
<rect x="87.00" y="407.27" width="15.80" height="5.72" fill="#fefefe" stroke="none" stroke-width="1" />
<rect x="102.80" y="407.27" width="15.80" height="5.72" fill="#fefefe" stroke="none" stroke-width="1" />
<rect x="118.60" y="407.27" width="15.80" height="5.72" fill="#fde8da" stroke="none" stroke-width="1" />
<rect x="134.40" y="407.27" width="15.80" height="5.72" fill="#fbdccb" stroke="none" stroke-width="1" />
<rect x="150.20" y="407.27" width="15.80" height="5.72" fill="#fef4ee" stroke="none" stroke-width="1" />
<rect x="172.20" y="407.27" width="15.80" height="5.72" fill="#fefefe" stroke="none" stroke-width="1" />
<rect x="188.00" y="407.27" width="15.80" height="5.72" fill="#f6e4ee" stroke="none" stroke-width="1" />
<rect x="203.80" y="407.27" width="15.80" height="5.72" fill="#f2dae8" stroke="none" stroke-width="1" />
<rect x="219.60" y="407.27" width="15.80" height="5.72" fill="#f6e4ee" stroke="none" stroke-width="1" />
<text x="49.60" y="412.24" font-size="6.51" text-anchor="end" fill="#231f20" textLength="19.53" lengthAdjust="spacingAndGlyphs" transform="rotate(0.06 49.60 412.24)" >PVALB</text>
<line x1="52.50" y1="410.14" x2="54.90" y2="410.14" stroke="#231f20" stroke-width="0.9" />
<rect x="55.40" y="413.00" width="15.80" height="5.72" fill="#fefefe" stroke="none" stroke-width="1" />
<rect x="71.20" y="413.00" width="15.80" height="5.72" fill="#fefefe" stroke="none" stroke-width="1" />
<rect x="87.00" y="413.00" width="15.80" height="5.72" fill="#fefefe" stroke="none" stroke-width="1" />
<rect x="102.80" y="413.00" width="15.80" height="5.72" fill="#fefefe" stroke="none" stroke-width="1" />
<rect x="118.60" y="413.00" width="15.80" height="5.72" fill="#fad3bb" stroke="none" stroke-width="1" />
<rect x="134.40" y="413.00" width="15.80" height="5.72" fill="#fce0cf" stroke="none" stroke-width="1" />
<rect x="150.20" y="413.00" width="15.80" height="5.72" fill="#fef4ee" stroke="none" stroke-width="1" />
<rect x="172.20" y="413.00" width="15.80" height="5.72" fill="#fefefe" stroke="none" stroke-width="1" />
<rect x="188.00" y="413.00" width="15.80" height="5.72" fill="#f6e4ee" stroke="none" stroke-width="1" />
<rect x="203.80" y="413.00" width="15.80" height="5.72" fill="#fefefe" stroke="none" stroke-width="1" />
<rect x="219.60" y="413.00" width="15.80" height="5.72" fill="#fefefe" stroke="none" stroke-width="1" />
<text x="49.60" y="417.96" font-size="6.51" text-anchor="end" fill="#231f20" textLength="27.11" lengthAdjust="spacingAndGlyphs" transform="rotate(0.06 49.60 417.96)" >HSD11B2</text>
<line x1="52.50" y1="415.86" x2="54.90" y2="415.86" stroke="#231f20" stroke-width="0.9" />
<rect x="55.40" y="418.72" width="15.80" height="5.72" fill="#fefefe" stroke="none" stroke-width="1" />
<rect x="71.20" y="418.72" width="15.80" height="5.72" fill="#fefefe" stroke="none" stroke-width="1" />
<rect x="87.00" y="418.72" width="15.80" height="5.72" fill="#fefefe" stroke="none" stroke-width="1" />
<rect x="102.80" y="418.72" width="15.80" height="5.72" fill="#fbdcc8" stroke="none" stroke-width="1" />
<rect x="118.60" y="418.72" width="15.80" height="5.72" fill="#f8c8aa" stroke="none" stroke-width="1" />
<rect x="134.40" y="418.72" width="15.80" height="5.72" fill="#fad5bd" stroke="none" stroke-width="1" />
<rect x="150.20" y="418.72" width="15.80" height="5.72" fill="#fdf0e8" stroke="none" stroke-width="1" />
<rect x="172.20" y="418.72" width="15.80" height="5.72" fill="#fefefe" stroke="none" stroke-width="1" />
<rect x="188.00" y="418.72" width="15.80" height="5.72" fill="#f6e4ee" stroke="none" stroke-width="1" />
<rect x="203.80" y="418.72" width="15.80" height="5.72" fill="#fefefe" stroke="none" stroke-width="1" />
<rect x="219.60" y="418.72" width="15.80" height="5.72" fill="#fefefe" stroke="none" stroke-width="1" />
<text x="49.60" y="423.69" font-size="6.51" text-anchor="end" fill="#231f20" textLength="20.33" lengthAdjust="spacingAndGlyphs" transform="rotate(0.06 49.60 423.69)" >CPEB1</text>
<line x1="52.50" y1="421.59" x2="54.90" y2="421.59" stroke="#231f20" stroke-width="0.9" />
<rect x="55.40" y="424.45" width="15.80" height="5.72" fill="#fefefe" stroke="none" stroke-width="1" />
<rect x="71.20" y="424.45" width="15.80" height="5.72" fill="#fefefe" stroke="none" stroke-width="1" />
<rect x="87.00" y="424.45" width="15.80" height="5.72" fill="#fefefe" stroke="none" stroke-width="1" />
<rect x="102.80" y="424.45" width="15.80" height="5.72" fill="#fefefe" stroke="none" stroke-width="1" />
<rect x="118.60" y="424.45" width="15.80" height="5.72" fill="#fad0b5" stroke="none" stroke-width="1" />
<rect x="134.40" y="424.45" width="15.80" height="5.72" fill="#fce0cf" stroke="none" stroke-width="1" />
<rect x="150.20" y="424.45" width="15.80" height="5.72" fill="#fef4ee" stroke="none" stroke-width="1" />
<rect x="172.20" y="424.45" width="15.80" height="5.72" fill="#e9bdd5" stroke="none" stroke-width="1" />
<rect x="188.00" y="424.45" width="15.80" height="5.72" fill="#e4b0ce" stroke="none" stroke-width="1" />
<rect x="203.80" y="424.45" width="15.80" height="5.72" fill="#edc7dc" stroke="none" stroke-width="1" />
<rect x="219.60" y="424.45" width="15.80" height="5.72" fill="#edc7dc" stroke="none" stroke-width="1" />
<text x="49.60" y="429.41" font-size="6.51" text-anchor="end" fill="#231f20" textLength="21.02" lengthAdjust="spacingAndGlyphs" transform="rotate(0.06 49.60 429.41)" >KCNH6</text>
<line x1="52.50" y1="427.31" x2="54.90" y2="427.31" stroke="#231f20" stroke-width="0.9" />
<rect x="55.40" y="430.17" width="15.80" height="5.72" fill="#fefefe" stroke="none" stroke-width="1" />
<rect x="71.20" y="430.17" width="15.80" height="5.72" fill="#fefefe" stroke="none" stroke-width="1" />
<rect x="87.00" y="430.17" width="15.80" height="5.72" fill="#fefefe" stroke="none" stroke-width="1" />
<rect x="102.80" y="430.17" width="15.80" height="5.72" fill="#f8c4a5" stroke="none" stroke-width="1" />
<rect x="118.60" y="430.17" width="15.80" height="5.72" fill="#f5ac84" stroke="none" stroke-width="1" />
<rect x="134.40" y="430.17" width="15.80" height="5.72" fill="#fbdccb" stroke="none" stroke-width="1" />
<rect x="150.20" y="430.17" width="15.80" height="5.72" fill="#fbdccb" stroke="none" stroke-width="1" />
<rect x="172.20" y="430.17" width="15.80" height="5.72" fill="#fefefe" stroke="none" stroke-width="1" />
<rect x="188.00" y="430.17" width="15.80" height="5.72" fill="#f2dae8" stroke="none" stroke-width="1" />
<rect x="203.80" y="430.17" width="15.80" height="5.72" fill="#fefefe" stroke="none" stroke-width="1" />
<rect x="219.60" y="430.17" width="15.80" height="5.72" fill="#fefefe" stroke="none" stroke-width="1" />
<text x="49.60" y="435.14" font-size="6.51" text-anchor="end" fill="#231f20" textLength="23.67" lengthAdjust="spacingAndGlyphs" transform="rotate(0.06 49.60 435.14)" >PAPSS2</text>
<line x1="52.50" y1="433.04" x2="54.90" y2="433.04" stroke="#231f20" stroke-width="0.9" />
<rect x="55.40" y="435.90" width="15.80" height="5.72" fill="#fefefe" stroke="none" stroke-width="1" />
<rect x="71.20" y="435.90" width="15.80" height="5.72" fill="#fefefe" stroke="none" stroke-width="1" />
<rect x="87.00" y="435.90" width="15.80" height="5.72" fill="#fefefe" stroke="none" stroke-width="1" />
<rect x="102.80" y="435.90" width="15.80" height="5.72" fill="#fef4ee" stroke="none" stroke-width="1" />
<rect x="118.60" y="435.90" width="15.80" height="5.72" fill="#f5b490" stroke="none" stroke-width="1" />
<rect x="134.40" y="435.90" width="15.80" height="5.72" fill="#fce4d6" stroke="none" stroke-width="1" />
<rect x="150.20" y="435.90" width="15.80" height="5.72" fill="#f8c8aa" stroke="none" stroke-width="1" />
<rect x="172.20" y="435.90" width="15.80" height="5.72" fill="#fefefe" stroke="none" stroke-width="1" />
<rect x="188.00" y="435.90" width="15.80" height="5.72" fill="#e9bdd5" stroke="none" stroke-width="1" />
<rect x="203.80" y="435.90" width="15.80" height="5.72" fill="#f2dae8" stroke="none" stroke-width="1" />
<rect x="219.60" y="435.90" width="15.80" height="5.72" fill="#fefefe" stroke="none" stroke-width="1" />
<text x="49.60" y="440.86" font-size="6.51" text-anchor="end" fill="#231f20" textLength="22.39" lengthAdjust="spacingAndGlyphs" transform="rotate(0.06 49.60 440.86)" >WSCD2</text>
<line x1="52.50" y1="438.76" x2="54.90" y2="438.76" stroke="#231f20" stroke-width="0.9" />
<rect x="55.40" y="441.62" width="15.80" height="5.72" fill="#e2ebf5" stroke="none" stroke-width="1" />
<rect x="71.20" y="441.62" width="15.80" height="5.72" fill="#c5d7ec" stroke="none" stroke-width="1" />
<rect x="87.00" y="441.62" width="15.80" height="5.72" fill="#c8d9ed" stroke="none" stroke-width="1" />
<rect x="102.80" y="441.62" width="15.80" height="5.72" fill="#e8f0f8" stroke="none" stroke-width="1" />
<rect x="118.60" y="441.62" width="15.80" height="5.72" fill="#d2e0f0" stroke="none" stroke-width="1" />
<rect x="134.40" y="441.62" width="15.80" height="5.72" fill="#dde8f3" stroke="none" stroke-width="1" />
<rect x="150.20" y="441.62" width="15.80" height="5.72" fill="#d8e5f2" stroke="none" stroke-width="1" />
<rect x="172.20" y="441.62" width="15.80" height="5.72" fill="#b8e2d2" stroke="none" stroke-width="1" />
<rect x="188.00" y="441.62" width="15.80" height="5.72" fill="#d4eee6" stroke="none" stroke-width="1" />
<rect x="203.80" y="441.62" width="15.80" height="5.72" fill="#fefefe" stroke="none" stroke-width="1" />
<rect x="219.60" y="441.62" width="15.80" height="5.72" fill="#fefefe" stroke="none" stroke-width="1" />
<text x="49.60" y="446.59" font-size="6.51" text-anchor="end" fill="#231f20" textLength="13.09" lengthAdjust="spacingAndGlyphs" transform="rotate(0.06 49.60 446.59)" >HBD</text>
<line x1="52.50" y1="444.49" x2="54.90" y2="444.49" stroke="#231f20" stroke-width="0.9" />
<rect x="55.40" y="447.35" width="15.80" height="5.72" fill="#fefefe" stroke="none" stroke-width="1" />
<rect x="71.20" y="447.35" width="15.80" height="5.72" fill="#fefefe" stroke="none" stroke-width="1" />
<rect x="87.00" y="447.35" width="15.80" height="5.72" fill="#fefefe" stroke="none" stroke-width="1" />
<rect x="102.80" y="447.35" width="15.80" height="5.72" fill="#dae5f3" stroke="none" stroke-width="1" />
<rect x="118.60" y="447.35" width="15.80" height="5.72" fill="#c3d6ec" stroke="none" stroke-width="1" />
<rect x="134.40" y="447.35" width="15.80" height="5.72" fill="#dde8f3" stroke="none" stroke-width="1" />
<rect x="150.20" y="447.35" width="15.80" height="5.72" fill="#e0eaf4" stroke="none" stroke-width="1" />
<rect x="172.20" y="447.35" width="15.80" height="5.72" fill="#e0f3ec" stroke="none" stroke-width="1" />
<rect x="188.00" y="447.35" width="15.80" height="5.72" fill="#fefefe" stroke="none" stroke-width="1" />
<rect x="203.80" y="447.35" width="15.80" height="5.72" fill="#d4eee6" stroke="none" stroke-width="1" />
<rect x="219.60" y="447.35" width="15.80" height="5.72" fill="#fefefe" stroke="none" stroke-width="1" />
<text x="49.60" y="452.31" font-size="6.51" text-anchor="end" fill="#231f20" textLength="17.23" lengthAdjust="spacingAndGlyphs" transform="rotate(0.06 49.60 452.31)" >KIF5A</text>
<line x1="52.50" y1="450.21" x2="54.90" y2="450.21" stroke="#231f20" stroke-width="0.9" />
<rect x="55.40" y="453.07" width="15.80" height="5.72" fill="#fefefe" stroke="none" stroke-width="1" />
<rect x="71.20" y="453.07" width="15.80" height="5.72" fill="#fefefe" stroke="none" stroke-width="1" />
<rect x="87.00" y="453.07" width="15.80" height="5.72" fill="#fefefe" stroke="none" stroke-width="1" />
<rect x="102.80" y="453.07" width="15.80" height="5.72" fill="#b6cde8" stroke="none" stroke-width="1" />
<rect x="118.60" y="453.07" width="15.80" height="5.72" fill="#a8c4e4" stroke="none" stroke-width="1" />
<rect x="134.40" y="453.07" width="15.80" height="5.72" fill="#d2e0f0" stroke="none" stroke-width="1" />
<rect x="150.20" y="453.07" width="15.80" height="5.72" fill="#d8e5f2" stroke="none" stroke-width="1" />
<rect x="172.20" y="453.07" width="15.80" height="5.72" fill="#fefefe" stroke="none" stroke-width="1" />
<rect x="188.00" y="453.07" width="15.80" height="5.72" fill="#fefefe" stroke="none" stroke-width="1" />
<rect x="203.80" y="453.07" width="15.80" height="5.72" fill="#d4eee6" stroke="none" stroke-width="1" />
<rect x="219.60" y="453.07" width="15.80" height="5.72" fill="#fefefe" stroke="none" stroke-width="1" />
<text x="49.60" y="458.04" font-size="6.51" text-anchor="end" fill="#231f20" textLength="33.08" lengthAdjust="spacingAndGlyphs" transform="rotate(0.06 49.60 458.04)" >CACNA2D2</text>
<line x1="52.50" y1="455.94" x2="54.90" y2="455.94" stroke="#231f20" stroke-width="0.9" />
<rect x="55.40" y="458.80" width="15.80" height="5.72" fill="#fefefe" stroke="none" stroke-width="1" />
<rect x="71.20" y="458.80" width="15.80" height="5.72" fill="#fefefe" stroke="none" stroke-width="1" />
<rect x="87.00" y="458.80" width="15.80" height="5.72" fill="#fefefe" stroke="none" stroke-width="1" />
<rect x="102.80" y="458.80" width="15.80" height="5.72" fill="#a0bde0" stroke="none" stroke-width="1" />
<rect x="118.60" y="458.80" width="15.80" height="5.72" fill="#88aed9" stroke="none" stroke-width="1" />
<rect x="134.40" y="458.80" width="15.80" height="5.72" fill="#bad0e9" stroke="none" stroke-width="1" />
<rect x="150.20" y="458.80" width="15.80" height="5.72" fill="#cddcee" stroke="none" stroke-width="1" />
<rect x="172.20" y="458.80" width="15.80" height="5.72" fill="#fefefe" stroke="none" stroke-width="1" />
<rect x="188.00" y="458.80" width="15.80" height="5.72" fill="#fefefe" stroke="none" stroke-width="1" />
<rect x="203.80" y="458.80" width="15.80" height="5.72" fill="#d4eee6" stroke="none" stroke-width="1" />
<rect x="219.60" y="458.80" width="15.80" height="5.72" fill="#c0e6d8" stroke="none" stroke-width="1" />
<text x="49.60" y="463.76" font-size="6.51" text-anchor="end" fill="#231f20" textLength="25.51" lengthAdjust="spacingAndGlyphs" transform="rotate(0.06 49.60 463.76)" >C6orf223</text>
<line x1="52.50" y1="461.66" x2="54.90" y2="461.66" stroke="#231f20" stroke-width="0.9" />
<g stroke-opacity="0.62">
<line x1="55.40" y1="321.40" x2="166.00" y2="321.40" stroke="#1c1c1c" stroke-width="0.75" />
<line x1="172.20" y1="321.40" x2="235.40" y2="321.40" stroke="#1c1c1c" stroke-width="0.75" />
<line x1="55.40" y1="327.12" x2="166.00" y2="327.12" stroke="#1c1c1c" stroke-width="0.75" />
<line x1="172.20" y1="327.12" x2="235.40" y2="327.12" stroke="#1c1c1c" stroke-width="0.75" />
<line x1="55.40" y1="332.85" x2="166.00" y2="332.85" stroke="#1c1c1c" stroke-width="0.75" />
<line x1="172.20" y1="332.85" x2="235.40" y2="332.85" stroke="#1c1c1c" stroke-width="0.75" />
<line x1="55.40" y1="338.57" x2="166.00" y2="338.57" stroke="#1c1c1c" stroke-width="0.75" />
<line x1="172.20" y1="338.57" x2="235.40" y2="338.57" stroke="#1c1c1c" stroke-width="0.75" />
<line x1="55.40" y1="344.30" x2="166.00" y2="344.30" stroke="#1c1c1c" stroke-width="0.75" />
<line x1="172.20" y1="344.30" x2="235.40" y2="344.30" stroke="#1c1c1c" stroke-width="0.75" />
<line x1="55.40" y1="350.02" x2="166.00" y2="350.02" stroke="#1c1c1c" stroke-width="0.75" />
<line x1="172.20" y1="350.02" x2="235.40" y2="350.02" stroke="#1c1c1c" stroke-width="0.75" />
<line x1="55.40" y1="355.75" x2="166.00" y2="355.75" stroke="#1c1c1c" stroke-width="0.75" />
<line x1="172.20" y1="355.75" x2="235.40" y2="355.75" stroke="#1c1c1c" stroke-width="0.75" />
<line x1="55.40" y1="361.47" x2="166.00" y2="361.47" stroke="#1c1c1c" stroke-width="0.75" />
<line x1="172.20" y1="361.47" x2="235.40" y2="361.47" stroke="#1c1c1c" stroke-width="0.75" />
<line x1="55.40" y1="367.20" x2="166.00" y2="367.20" stroke="#1c1c1c" stroke-width="0.75" />
<line x1="172.20" y1="367.20" x2="235.40" y2="367.20" stroke="#1c1c1c" stroke-width="0.75" />
<line x1="55.40" y1="372.92" x2="166.00" y2="372.92" stroke="#1c1c1c" stroke-width="0.75" />
<line x1="172.20" y1="372.92" x2="235.40" y2="372.92" stroke="#1c1c1c" stroke-width="0.75" />
<line x1="55.40" y1="378.65" x2="166.00" y2="378.65" stroke="#1c1c1c" stroke-width="0.75" />
<line x1="172.20" y1="378.65" x2="235.40" y2="378.65" stroke="#1c1c1c" stroke-width="0.75" />
<line x1="55.40" y1="384.38" x2="166.00" y2="384.38" stroke="#1c1c1c" stroke-width="0.75" />
<line x1="172.20" y1="384.38" x2="235.40" y2="384.38" stroke="#1c1c1c" stroke-width="0.75" />
<line x1="55.40" y1="390.10" x2="166.00" y2="390.10" stroke="#1c1c1c" stroke-width="0.75" />
<line x1="172.20" y1="390.10" x2="235.40" y2="390.10" stroke="#1c1c1c" stroke-width="0.75" />
<line x1="55.40" y1="395.82" x2="166.00" y2="395.82" stroke="#1c1c1c" stroke-width="0.75" />
<line x1="172.20" y1="395.82" x2="235.40" y2="395.82" stroke="#1c1c1c" stroke-width="0.75" />
<line x1="55.40" y1="401.55" x2="166.00" y2="401.55" stroke="#1c1c1c" stroke-width="0.75" />
<line x1="172.20" y1="401.55" x2="235.40" y2="401.55" stroke="#1c1c1c" stroke-width="0.75" />
<line x1="55.40" y1="407.27" x2="166.00" y2="407.27" stroke="#1c1c1c" stroke-width="0.75" />
<line x1="172.20" y1="407.27" x2="235.40" y2="407.27" stroke="#1c1c1c" stroke-width="0.75" />
<line x1="55.40" y1="413.00" x2="166.00" y2="413.00" stroke="#1c1c1c" stroke-width="0.75" />
<line x1="172.20" y1="413.00" x2="235.40" y2="413.00" stroke="#1c1c1c" stroke-width="0.75" />
<line x1="55.40" y1="418.72" x2="166.00" y2="418.72" stroke="#1c1c1c" stroke-width="0.75" />
<line x1="172.20" y1="418.72" x2="235.40" y2="418.72" stroke="#1c1c1c" stroke-width="0.75" />
<line x1="55.40" y1="424.45" x2="166.00" y2="424.45" stroke="#1c1c1c" stroke-width="0.75" />
<line x1="172.20" y1="424.45" x2="235.40" y2="424.45" stroke="#1c1c1c" stroke-width="0.75" />
<line x1="55.40" y1="430.17" x2="166.00" y2="430.17" stroke="#1c1c1c" stroke-width="0.75" />
<line x1="172.20" y1="430.17" x2="235.40" y2="430.17" stroke="#1c1c1c" stroke-width="0.75" />
<line x1="55.40" y1="435.90" x2="166.00" y2="435.90" stroke="#1c1c1c" stroke-width="0.75" />
<line x1="172.20" y1="435.90" x2="235.40" y2="435.90" stroke="#1c1c1c" stroke-width="0.75" />
<line x1="55.40" y1="441.62" x2="166.00" y2="441.62" stroke="#1c1c1c" stroke-width="0.75" />
<line x1="172.20" y1="441.62" x2="235.40" y2="441.62" stroke="#1c1c1c" stroke-width="0.75" />
<line x1="55.40" y1="447.35" x2="166.00" y2="447.35" stroke="#1c1c1c" stroke-width="0.75" />
<line x1="172.20" y1="447.35" x2="235.40" y2="447.35" stroke="#1c1c1c" stroke-width="0.75" />
<line x1="55.40" y1="453.07" x2="166.00" y2="453.07" stroke="#1c1c1c" stroke-width="0.75" />
<line x1="172.20" y1="453.07" x2="235.40" y2="453.07" stroke="#1c1c1c" stroke-width="0.75" />
<line x1="55.40" y1="458.80" x2="166.00" y2="458.80" stroke="#1c1c1c" stroke-width="0.75" />
<line x1="172.20" y1="458.80" x2="235.40" y2="458.80" stroke="#1c1c1c" stroke-width="0.75" />
<line x1="55.40" y1="464.52" x2="166.00" y2="464.52" stroke="#1c1c1c" stroke-width="0.75" />
<line x1="172.20" y1="464.52" x2="235.40" y2="464.52" stroke="#1c1c1c" stroke-width="0.75" />
<line x1="55.40" y1="321.40" x2="55.40" y2="464.52" stroke="#1c1c1c" stroke-width="0.75" />
<line x1="71.20" y1="321.40" x2="71.20" y2="464.52" stroke="#1c1c1c" stroke-width="0.75" />
<line x1="87.00" y1="321.40" x2="87.00" y2="464.52" stroke="#1c1c1c" stroke-width="0.75" />
<line x1="102.80" y1="321.40" x2="102.80" y2="464.52" stroke="#1c1c1c" stroke-width="0.75" />
<line x1="118.60" y1="321.40" x2="118.60" y2="464.52" stroke="#1c1c1c" stroke-width="0.75" />
<line x1="134.40" y1="321.40" x2="134.40" y2="464.52" stroke="#1c1c1c" stroke-width="0.75" />
<line x1="150.20" y1="321.40" x2="150.20" y2="464.52" stroke="#1c1c1c" stroke-width="0.75" />
<line x1="166.00" y1="321.40" x2="166.00" y2="464.52" stroke="#1c1c1c" stroke-width="0.75" />
<line x1="172.20" y1="321.40" x2="172.20" y2="464.52" stroke="#1c1c1c" stroke-width="0.75" />
<line x1="188.00" y1="321.40" x2="188.00" y2="464.52" stroke="#1c1c1c" stroke-width="0.75" />
<line x1="203.80" y1="321.40" x2="203.80" y2="464.52" stroke="#1c1c1c" stroke-width="0.75" />
<line x1="219.60" y1="321.40" x2="219.60" y2="464.52" stroke="#1c1c1c" stroke-width="0.75" />
<line x1="235.40" y1="321.40" x2="235.40" y2="464.52" stroke="#1c1c1c" stroke-width="0.75" />
</g>
<text x="60.80" y="301.00" font-size="8.61" text-anchor="start" fill="#231f20" textLength="168.70" lengthAdjust="spacingAndGlyphs" transform="rotate(0.06 60.80 301.00)" >Gene-targeted CD34<tspan font-size="70%" baseline-shift="3">+</tspan> cell-derived erythroblasts</text>
<line x1="57.70" y1="305.30" x2="231.60" y2="305.30" stroke="#3c3c3c" stroke-width="1.0" />
<text x="111.00" y="314.10" font-size="6.20" text-anchor="middle" fill="#231f20" textLength="25.10" lengthAdjust="spacingAndGlyphs" transform="rotate(0.06 111.00 314.10)" >RNASEQ</text>
<line x1="59.00" y1="318.30" x2="162.80" y2="318.30" stroke="#3c3c3c" stroke-width="1.0" />
<text x="202.30" y="313.70" font-size="6.20" text-anchor="middle" fill="#231f20" textLength="14.10" lengthAdjust="spacingAndGlyphs" transform="rotate(0.06 202.30 313.70)" >ATAC</text>
<line x1="173.40" y1="318.30" x2="231.90" y2="318.30" stroke="#3c3c3c" stroke-width="1.0" />
<text x="66.80" y="472.30" font-size="6.72" text-anchor="end" fill="#231f20" textLength="21.16" lengthAdjust="spacingAndGlyphs" transform="rotate(-44.94 66.80 472.30)" >CFU−E</text>
<text x="82.60" y="472.30" font-size="6.72" text-anchor="end" fill="#231f20" textLength="14.23" lengthAdjust="spacingAndGlyphs" transform="rotate(-44.94 82.60 472.30)" >ProE</text>
<text x="98.40" y="472.30" font-size="6.72" text-anchor="end" fill="#231f20" textLength="18.86" lengthAdjust="spacingAndGlyphs" transform="rotate(-44.94 98.40 472.30)" >BasoE</text>
<text x="114.20" y="472.30" font-size="6.72" text-anchor="end" fill="#231f20" textLength="21.16" lengthAdjust="spacingAndGlyphs" transform="rotate(-44.94 114.20 472.30)" >CFU−E</text>
<text x="130.00" y="472.30" font-size="6.72" text-anchor="end" fill="#231f20" textLength="14.23" lengthAdjust="spacingAndGlyphs" transform="rotate(-44.94 130.00 472.30)" >ProE</text>
<text x="145.80" y="472.30" font-size="6.72" text-anchor="end" fill="#231f20" textLength="18.86" lengthAdjust="spacingAndGlyphs" transform="rotate(-44.94 145.80 472.30)" >BasoE</text>
<text x="161.60" y="472.30" font-size="6.72" text-anchor="end" fill="#231f20" textLength="12.45" lengthAdjust="spacingAndGlyphs" transform="rotate(-44.94 161.60 472.30)" >Bulk</text>
<text x="183.60" y="472.30" font-size="6.72" text-anchor="end" fill="#231f20" textLength="21.16" lengthAdjust="spacingAndGlyphs" transform="rotate(-44.94 183.60 472.30)" >CFU−E</text>
<text x="199.40" y="472.30" font-size="6.72" text-anchor="end" fill="#231f20" textLength="14.23" lengthAdjust="spacingAndGlyphs" transform="rotate(-44.94 199.40 472.30)" >ProE</text>
<text x="215.20" y="472.30" font-size="6.72" text-anchor="end" fill="#231f20" textLength="18.86" lengthAdjust="spacingAndGlyphs" transform="rotate(-44.94 215.20 472.30)" >BasoE</text>
<text x="231.00" y="472.30" font-size="6.72" text-anchor="end" fill="#231f20" textLength="12.45" lengthAdjust="spacingAndGlyphs" transform="rotate(-44.94 231.00 472.30)" >Bulk</text>
<line x1="60.20" y1="489.80" x2="93.60" y2="489.80" stroke="#505050" stroke-width="1.3" />
<line x1="105.40" y1="489.80" x2="164.10" y2="489.80" stroke="#505050" stroke-width="1.3" />
<line x1="178.00" y1="489.80" x2="223.30" y2="489.80" stroke="#505050" stroke-width="1.3" />
<text x="76.90" y="498.60" font-size="6.72" text-anchor="middle" fill="#231f20" textLength="16.86" lengthAdjust="spacingAndGlyphs" transform="rotate(0.06 76.90 498.60)" >HBG<tspan font-size="70%" baseline-shift="3">P</tspan></text>
<text x="134.80" y="498.60" font-size="6.72" text-anchor="middle" fill="#231f20" textLength="26.35" lengthAdjust="spacingAndGlyphs" transform="rotate(0.06 134.80 498.60)" >BCL11A<tspan font-size="70%" baseline-shift="3">E</tspan></text>
<text x="200.20" y="498.60" font-size="6.72" text-anchor="middle" fill="#231f20" textLength="26.35" lengthAdjust="spacingAndGlyphs" transform="rotate(0.06 200.20 498.60)" >BCL11A<tspan font-size="70%" baseline-shift="3">E</tspan></text>
<text x="241.00" y="322.40" font-size="6.72" text-anchor="start" fill="#231f20" textLength="28.09" lengthAdjust="spacingAndGlyphs" transform="rotate(-44.94 241.00 322.40)" >HUDEP-2</text>
<circle cx="241.5" cy="335.71" r="0.75" fill="#231f20"/>
<circle cx="241.5" cy="341.44" r="0.75" fill="#231f20"/>
<circle cx="241.5" cy="352.89" r="0.75" fill="#231f20"/>
<circle cx="241.5" cy="375.79" r="0.75" fill="#231f20"/>
<circle cx="241.5" cy="392.96" r="0.75" fill="#231f20"/>
<circle cx="241.5" cy="398.69" r="0.75" fill="#231f20"/>
<text x="248.80" y="335.60" font-size="6.72" text-anchor="start" fill="#231f20" textLength="20.60" lengthAdjust="spacingAndGlyphs" transform="rotate(0.06 248.80 335.60)" >Log<tspan font-size="70%" baseline-shift="-1.6">2</tspan>FC</text>
<rect x="248.10" y="343.00" width="9.00" height="42.50" fill="url(#lfc)" stroke="none" stroke-width="1" />
<text x="259.80" y="346.00" font-size="6.51" text-anchor="start" fill="#231f20" textLength="3.45" lengthAdjust="spacingAndGlyphs" transform="rotate(0.06 259.80 346.00)" >6</text>
<text x="259.80" y="356.30" font-size="6.51" text-anchor="start" fill="#231f20" textLength="3.45" lengthAdjust="spacingAndGlyphs" transform="rotate(0.06 259.80 356.30)" >3</text>
<text x="259.80" y="366.60" font-size="6.51" text-anchor="start" fill="#231f20" textLength="3.45" lengthAdjust="spacingAndGlyphs" transform="rotate(0.06 259.80 366.60)" >0</text>
<text x="259.80" y="377.20" font-size="6.51" text-anchor="start" fill="#231f20" textLength="7.07" lengthAdjust="spacingAndGlyphs" transform="rotate(0.06 259.80 377.20)" >−3</text>
<text x="259.80" y="387.20" font-size="6.51" text-anchor="start" fill="#231f20" textLength="7.07" lengthAdjust="spacingAndGlyphs" transform="rotate(0.06 259.80 387.20)" >−6</text>
<text x="248.80" y="402.40" font-size="6.72" text-anchor="start" fill="#231f20" textLength="20.00" lengthAdjust="spacingAndGlyphs" transform="rotate(0.06 248.80 402.40)" >Log<tspan font-size="70%" baseline-shift="-1.6">2</tspan>FC</text>
<rect x="248.10" y="410.00" width="9.00" height="42.70" fill="url(#atac)" stroke="none" stroke-width="1" />
<text x="259.80" y="413.10" font-size="6.51" text-anchor="start" fill="#231f20" textLength="3.45" lengthAdjust="spacingAndGlyphs" transform="rotate(0.06 259.80 413.10)" >3</text>
<text x="259.80" y="419.70" font-size="6.51" text-anchor="start" fill="#231f20" textLength="3.45" lengthAdjust="spacingAndGlyphs" transform="rotate(0.06 259.80 419.70)" >2</text>
<text x="259.80" y="426.50" font-size="6.51" text-anchor="start" fill="#231f20" textLength="3.45" lengthAdjust="spacingAndGlyphs" transform="rotate(0.06 259.80 426.50)" >1</text>
<text x="259.80" y="433.40" font-size="6.51" text-anchor="start" fill="#231f20" textLength="3.45" lengthAdjust="spacingAndGlyphs" transform="rotate(0.06 259.80 433.40)" >0</text>
<text x="259.80" y="440.70" font-size="6.51" text-anchor="start" fill="#231f20" textLength="7.07" lengthAdjust="spacingAndGlyphs" transform="rotate(0.06 259.80 440.70)" >−1</text>
<text x="259.80" y="447.20" font-size="6.51" text-anchor="start" fill="#231f20" textLength="7.07" lengthAdjust="spacingAndGlyphs" transform="rotate(0.06 259.80 447.20)" >−2</text>
<text x="259.80" y="454.00" font-size="6.51" text-anchor="start" fill="#231f20" textLength="7.07" lengthAdjust="spacingAndGlyphs" transform="rotate(0.06 259.80 454.00)" >−3</text>
<rect x="64.50" y="524.50" width="137.20" height="119.00" fill="#f8f8f8" stroke="none" stroke-width="1" />
<rect x="201.70" y="524.50" width="136.80" height="119.00" fill="#f8f8f8" stroke="none" stroke-width="1" />
<rect x="338.50" y="524.50" width="137.00" height="119.00" fill="#f8f8f8" stroke="none" stroke-width="1" />
<path d="M65.0,546.2 L65,546.1 L65.5,546 L66,546.1 L66.5,546 L67,546 L67.5,546.2 L68,546.2 L68.5,545.9 L69,546.1 L69.5,546.1 L70,545.9 L70.5,546.1 L71,545.9 L71.5,546.1 L72,546 L72.5,546.2 L73,546 L73.5,545.9 L74,546 L75,546 L75.5,546.2 L76,546 L76.5,546 L77,546.1 L77.5,546.2 L78,545.9 L78.5,546.1 L79,546 L79.5,545.9 L80,546 L80.5,545.9 L81,546.1 L81.5,546 L82,546.1 L82.5,545.9 L83,545.9 L83.5,546 L84,545.6 L84.5,545.1 L85,545.3 L85.5,545.9 L86,546 L86.5,546.1 L87,546 L87.5,546.1 L88,546.1 L88.5,546 L89,546 L89.5,545.9 L90,546 L90.5,545.9 L91.5,545.9 L92,546 L92.5,546.2 L93,545.9 L94.5,545.9 L95,545.5 L95.5,544.9 L96,544.5 L96.5,545.1 L97,545.8 L97.5,546.1 L98,545.9 L98.5,545.9 L99,546.2 L99.5,546 L100,546.1 L100.5,546.2 L101,546.1 L101.5,546 L102,545.9 L102.5,546.2 L103,546 L103.5,546.2 L104,546 L104.5,546.1 L105,545.8 L105.5,545.6 L106,545.4 L106.5,544.5 L107,543.6 L107.5,542.2 L108,540.2 L108.5,537 L109,531.7 L109.5,528.4 L110,531.3 L110.5,537.8 L111,542.1 L111.5,543.4 L112,544.4 L112.5,545 L113,545.6 L113.5,546 L116.5,546 L117,545.9 L117.5,546 L118,546.1 L118.5,546 L119,546.1 L119.5,546.1 L120,545.9 L120.5,546 L121,546 L121.5,546.2 L122,546.1 L122.5,546 L123,546.1 L123.5,545.6 L124,544.8 L124.5,544.8 L125,545.4 L125.5,546 L126,546 L126.5,546.1 L127,546 L127.5,546 L128,546.2 L128.5,546.2 L129,546 L129.5,545.9 L130,546.1 L130.5,545.7 L131,543.9 L131.5,542.1 L132,543.9 L132.5,545.8 L133,546.1 L133.5,546 L134,546.1 L134.5,546.1 L135,546 L135.5,546.2 L136,546 L137,546 L137.5,545.9 L138,544.9 L138.5,541.5 L139,532.9 L139.5,524.7 L140,526.6 L140.5,534.5 L141,539 L141.5,540.8 L142,542 L142.5,543.5 L143,544.5 L143.5,545.5 L144,545.8 L144.5,545.9 L145,545.9 L145.5,546.1 L146,546.1 L146.5,546.2 L147,546 L147.5,546.1 L148,546 L148.5,545.9 L149,546.1 L149.5,546.1 L150,546 L151,546 L151.5,546.1 L152,546.2 L152.5,546.1 L153,546 L153.5,546.1 L155.5,546.1 L156,545.9 L156.5,546.2 L157,546.2 L157.5,545.9 L158.5,545.9 L159,546.1 L159.5,545.9 L160,545.9 L160.5,546.1 L161,546 L161.5,545.9 L162,546 L162.5,546 L163,546.1 L164,546.1 L164.5,546.2 L165,546 L165.5,546.1 L166,546 L166.5,546.2 L167,545.9 L167.5,546 L168,545.9 L169,545.9 L169.5,546 L170,546.2 L170.5,546 L171,546.1 L171.5,546.1 L172,546 L172.5,546 L173,546.1 L173.5,545.9 L174,546 L174.5,546.1 L175,546.1 L175.5,545.9 L176,546.1 L176.5,546 L177,546.1 L177.5,546.1 L178,546 L178.5,546 L179,546.1 L179.5,546 L180,545.9 L180.5,546 L181,546 L181.5,546.2 L182,546 L182.5,545.9 L183,546.2 L183.5,546.1 L184,546.1 L184.5,546 L185,546.1 L185.5,546.1 L186,546 L186.5,546.2 L188.5,546.2 L189,545.9 L189.5,545.9 L190,546.2 L190.5,546 L191,546.1 L192,546.1 L192.5,546 L193,546 L193.5,546.1 L194.5,546.1 L195,546.2 L195.5,546 L196,546 L196.5,546.1 L197,546.2 L197.5,546.1 L198,546.1 L198.5,546 L199,546 L199.5,546.1 L200,546 L200.5,546 L201,546.1 L201.2,546.2Z" fill="#f0a830"/>
<path d="M65.0,568.4 L65,568.3 L65.5,568.4 L66,568.3 L66.5,568.3 L67,568.4 L67.5,568.3 L68,568.1 L69,568.1 L69.5,568.3 L70,568.2 L70.5,568.3 L71,568.3 L71.5,568.4 L72,568.3 L72.5,568.1 L74,568.1 L74.5,568.3 L75,568.3 L75.5,568.2 L76,568.1 L77,568.1 L77.5,568.4 L78,568.2 L79,568.2 L79.5,568.3 L80,568.2 L80.5,568.4 L81,568.1 L81.5,568.1 L82,568.2 L82.5,568.1 L83,567.2 L83.5,566.1 L84,564.5 L84.5,564 L85,564.9 L85.5,565.8 L86,566 L86.5,566.1 L87,566.6 L87.5,567.1 L88,567.1 L88.5,567 L89,566.4 L89.5,566 L90,566.4 L90.5,566.9 L91,567.5 L91.5,568 L92,567.9 L92.5,568.2 L93,567.6 L93.5,566.1 L94,563.9 L94.5,563.1 L95,564.2 L95.5,565.3 L96,565.8 L96.5,565.6 L97,565.6 L97.5,566.1 L98.5,566.1 L99,566.4 L99.5,567.3 L100,568 L100.5,568.2 L101,568.3 L101.5,568.2 L102,568.4 L102.5,568.2 L103,568.1 L104.5,568.1 L105,568.4 L105.5,568.3 L106,568.1 L106.5,568.1 L107,568.2 L107.5,567.9 L108,567.8 L108.5,567.3 L109,567 L109.5,566.8 L110,567 L110.5,567.5 L111,567.9 L111.5,567.9 L112,568.3 L112.5,568.4 L113,568.4 L113.5,568.3 L114,568.1 L114.5,568.3 L115,568.3 L115.5,568.4 L116,568 L116.5,568.2 L117,568.3 L118,568.3 L118.5,568.2 L119,568 L119.5,568.1 L120,568.1 L120.5,567.8 L121,567.8 L121.5,567.5 L122,567.7 L122.5,567.5 L123,567.4 L123.5,567.5 L124,567.3 L124.5,567.4 L125,567.5 L125.5,567.5 L126,567.7 L126.5,567.6 L127,567.7 L127.5,567.5 L128.5,567.5 L129,567.6 L129.5,567.4 L130,567.3 L131,567.3 L131.5,567.1 L132,567.4 L132.5,567.6 L133,567.4 L133.5,567.7 L134,567.7 L134.5,568 L135,567.8 L135.5,567.8 L136,567.7 L136.5,567.5 L137,567.3 L137.5,567.2 L138,566.7 L138.5,564.8 L139,560.1 L139.5,555.2 L140,557.3 L140.5,561.6 L141,562.3 L141.5,561.4 L142,561.5 L142.5,563.4 L143,565.4 L143.5,566.8 L144,567.6 L144.5,567.7 L145,567.8 L145.5,568.2 L146,568 L146.5,568 L147,568.1 L147.5,568.4 L148,568.1 L148.5,568.4 L149,568.1 L149.5,568.2 L150,568.4 L150.5,568.3 L151,568.2 L151.5,568.2 L152,568.1 L152.5,568.1 L153,568.3 L153.5,568.4 L154,568.1 L154.5,568.4 L155,568.1 L155.5,568.4 L156,568.1 L157,568.1 L157.5,568.2 L158,568.1 L158.5,568.3 L159,568.2 L159.5,568.3 L160,568.1 L160.5,568.1 L161,568.2 L161.5,568.2 L162,568.4 L162.5,568.4 L163,568.2 L163.5,568.2 L164,568.1 L164.5,568.2 L165,568.4 L165.5,568.3 L166,568.1 L166.5,568.2 L167,568.4 L167.5,568.1 L168,568.1 L168.5,568.4 L169,568.2 L169.5,568.3 L170,568.1 L170.5,568.3 L171,568.3 L171.5,568.2 L172,568.1 L172.5,568.4 L173,568.4 L173.5,568.2 L174,568.1 L174.5,568.2 L175,568.2 L175.5,568.1 L176,568.1 L176.5,568.4 L177,568.1 L177.5,568.3 L178,568.3 L178.5,568.1 L179,568.3 L179.5,568.1 L180,568.3 L180.5,568.1 L181,568.3 L181.5,568.3 L182,568.2 L182.5,568.3 L183,568.2 L183.5,568.1 L184,568.2 L184.5,568.4 L185,568.3 L185.5,568.2 L186,568.2 L186.5,568.1 L187,568.2 L187.5,568.4 L188,568.3 L188.5,568.1 L189,568.3 L189.5,568.1 L190,568.1 L190.5,568.2 L191.5,568.2 L192,568.3 L192.5,568.1 L193,568.2 L193.5,568.1 L194,568.3 L194.5,568.1 L195,568.1 L195.5,568.2 L196,568.2 L196.5,568.4 L197,568.1 L197.5,568.3 L198,568.2 L198.5,568.4 L199,568.4 L199.5,568.3 L200,568.1 L200.5,568.3 L201,568.1 L201.2,568.4Z" fill="#20208a"/>
<path d="M65.0,590.8 L65,590.6 L65.5,590.5 L66,590.5 L66.5,590.4 L67,590.5 L67.5,590.4 L68,590.8 L68.5,590.6 L69,590.4 L69.5,590.5 L70,590.4 L70.5,590.8 L71,590.6 L71.5,590.7 L72,590.6 L72.5,590.6 L73,590.8 L73.5,590.7 L74,590.7 L74.5,590.4 L75,590.5 L75.5,590.7 L76,590.5 L76.5,590.7 L77,590.6 L77.5,590.7 L78,590.8 L78.5,590.5 L79,590.7 L79.5,590.7 L80,590.4 L80.5,590.5 L81,590.7 L81.5,590.4 L82,590.4 L82.5,589.7 L83,588.4 L83.5,586.1 L84,584.8 L84.5,584.2 L85,583.9 L85.5,584.1 L86,584.8 L86.5,585.9 L87,586.3 L87.5,586.3 L88,586.5 L88.5,586.7 L89,586.9 L89.5,586.3 L90,586.6 L90.5,587.5 L91,588.1 L91.5,588.4 L92,588.3 L92.5,588.3 L93,587.1 L93.5,584.7 L94,582.5 L94.5,583.8 L95,585 L95.5,585.4 L96,585.8 L96.5,586 L97,586.5 L97.5,586.3 L98,586.6 L98.5,586.8 L99,586.9 L99.5,587.4 L100,589.3 L100.5,590.1 L101,590.4 L101.5,590.4 L102,590.7 L102.5,590.7 L103,590.6 L103.5,590.5 L104,590.7 L104.5,590.3 L105,589.8 L105.5,589 L106,588.2 L106.5,587.1 L107,587.3 L107.5,587.9 L108,588.6 L108.5,588.5 L109,587.3 L109.5,585.5 L110,585.9 L110.5,587.7 L111,588.9 L111.5,588.9 L112,588.7 L112.5,589.1 L113,589.6 L113.5,590.1 L114,590.6 L114.5,590.8 L115,590.4 L115.5,590.6 L116,590.6 L116.5,590.7 L117,590.5 L117.5,590.4 L118,590.4 L118.5,590.3 L119,590.2 L119.5,589.5 L120,589.6 L120.5,589.2 L121,588.9 L121.5,589.3 L122,589.2 L122.5,589.4 L123,589.7 L123.5,589.7 L124,589.9 L124.5,589.6 L125,589.5 L125.5,588.9 L126,588.9 L126.5,588.7 L127,588.4 L127.5,588.5 L128,588.6 L128.5,589.1 L129,589.4 L129.5,589.6 L130,589.8 L130.5,590 L131,589.7 L131.5,589.4 L132,588.8 L132.5,588 L133,587.8 L133.5,588.2 L134,588.7 L134.5,589.3 L135,589.8 L135.5,589.9 L136,589.6 L136.5,589.3 L137,589.2 L137.5,588.6 L138,588 L138.5,585.6 L139,578.4 L139.5,570.9 L140,574 L140.5,580.6 L141,581.8 L141.5,580 L142,580 L142.5,582.7 L143,586.1 L143.5,588 L144,589.2 L144.5,589.7 L145,590.2 L145.5,590.2 L146,590.4 L146.5,590.4 L147,590.5 L147.5,590.4 L148,590.5 L148.5,590.5 L149,590.7 L149.5,590.5 L150.5,590.5 L151,590.7 L151.5,590.5 L152.5,590.5 L153,590.4 L153.5,590.4 L154,590.6 L154.5,590.6 L155,590.7 L155.5,590.5 L156,590.4 L156.5,590.6 L157,590.5 L158,590.5 L158.5,590.7 L159,590.5 L159.5,590.6 L160,590.5 L160.5,590.6 L161,590.6 L161.5,590.5 L162.5,590.5 L163,590.8 L163.5,590.7 L164,590.6 L164.5,590.5 L165,590.7 L165.5,590.5 L166,590.5 L166.5,590.8 L167,590.6 L167.5,590.7 L168,590.8 L168.5,590.7 L170,590.7 L170.5,590.8 L171,590.6 L172.5,590.6 L173,590.7 L173.5,590.4 L174,590.8 L174.5,590.6 L175,590.7 L175.5,590.6 L176,590.8 L176.5,590.5 L177,590.7 L177.5,590.8 L178,590.6 L178.5,590.8 L179,590.6 L179.5,590.7 L180,590.6 L180.5,590.4 L181,590.5 L181.5,590.6 L182,590.5 L182.5,590.5 L183,590.7 L183.5,590.7 L184,590.6 L184.5,590.6 L185,590.4 L185.5,590.4 L186,590.6 L186.5,590.7 L187,590.4 L187.5,590.8 L188,590.8 L188.5,590.6 L189,590.6 L189.5,590.7 L190,590.5 L190.5,590.4 L191,590.6 L191.5,590.6 L192,590.7 L192.5,590.7 L193,590.4 L193.5,590.6 L194,590.4 L194.5,590.4 L195,590.6 L195.5,590.7 L196,590.4 L196.5,590.6 L197,590.6 L197.5,590.7 L198,590.4 L198.5,590.6 L199,590.7 L199.5,590.6 L200,590.8 L200.5,590.6 L201,590.6 L201.2,590.8Z" fill="#e52222"/>
<path d="M65.0,613.4 L65,613.2 L65.5,613.2 L66,613.3 L66.5,613.3 L67,613.4 L67.5,613.3 L68,613.3 L68.5,613.2 L69,613.3 L69.5,613.2 L70,613.3 L70.5,613.2 L71,613.3 L72.5,613.3 L73,613.4 L73.5,613.3 L74,613.2 L74.5,613.3 L75,613.2 L75.5,613.3 L76,613.2 L76.5,613.3 L77,613.4 L77.5,613.2 L78,613.2 L78.5,613.3 L79,613.4 L79.5,613.4 L80,613.3 L80.5,613.3 L81,613.2 L81.5,613.3 L82,613.4 L82.5,613.3 L83,613.3 L83.5,613.2 L84,613.2 L84.5,613.3 L85.5,613.3 L86,613.2 L86.5,613.2 L87,613.4 L87.5,613.3 L89,613.3 L89.5,613.4 L90,613.2 L90.5,613.3 L91,613.4 L91.5,613.3 L92,613.3 L92.5,613.4 L93,613.3 L93.5,613.4 L94,613.4 L94.5,613.2 L95,613.3 L95.5,613.4 L96,613.2 L96.5,613.4 L97,613.3 L97.5,612.9 L98,612.7 L98.5,613 L99,613.2 L99.5,613.3 L100,613.4 L100.5,613.2 L101,613.4 L101.5,613.3 L102.5,613.3 L103,613.2 L103.5,613.4 L104,613.2 L104.5,613.2 L105,613.3 L105.5,613.2 L106,613.3 L106.5,613.2 L107,613.2 L107.5,613.3 L109,613.3 L109.5,613.4 L110,613.3 L111,613.3 L111.5,613.2 L112,613.4 L113,613.4 L113.5,613.3 L115,613.3 L115.5,613.2 L116,613.3 L116.5,613.3 L117,613.2 L117.5,613.3 L119,613.3 L119.5,613.4 L120,613.3 L120.5,613.3 L121,613.2 L121.5,613.3 L122,613.3 L122.5,613.2 L123,613.2 L123.5,613.3 L124.5,613.3 L125,613.1 L125.5,612.5 L126,612.8 L126.5,613.1 L127,613.3 L127.5,613.4 L128,613.3 L128.5,613.4 L129,613.4 L129.5,613.2 L130,613.4 L130.5,613.3 L131,613.3 L131.5,613.2 L132,613.2 L132.5,613.4 L133,613.4 L133.5,613.2 L134,613.3 L134.5,613.3 L135,613.2 L135.5,613.2 L136,613.3 L136.5,613.3 L137,613.4 L137.5,613.3 L138,613.4 L138.5,613.3 L139,613.3 L139.5,613.4 L140,613.3 L140.5,613.4 L141,613.4 L141.5,613.3 L142,613.3 L142.5,613.2 L143,613.3 L143.5,613.3 L144,613.4 L144.5,613.2 L145,613.4 L145.5,613.3 L146,613.2 L147,613.2 L147.5,613.3 L148,613.3 L148.5,613.2 L149,613.4 L149.5,613.2 L150,613.2 L150.5,613.3 L151,613.2 L151.5,613.3 L152.5,613.3 L153,613.4 L153.5,613.2 L154,613.2 L154.5,613.3 L155,613.2 L155.5,613.4 L156,613.2 L156.5,613.3 L157,613.2 L157.5,613.3 L158,613.2 L158.5,613.4 L159,613.4 L159.5,613.2 L160,613.3 L160.5,613.3 L161,613.4 L161.5,613.4 L162,613.3 L162.5,613.4 L163,613.2 L164,613.2 L164.5,613.3 L165,613.3 L165.5,613.4 L166,613.3 L166.5,613.4 L167,613.3 L168,613.3 L168.5,613.4 L169,613.4 L169.5,613.3 L170,613.4 L170.5,613.3 L171,613.4 L171.5,613.3 L172,613.4 L172.5,613.3 L173,613.3 L173.5,613.4 L174,613.4 L174.5,613.3 L175,613.2 L175.5,613.3 L176,613.4 L176.5,613.3 L177,613.4 L177.5,613.3 L178,613.2 L178.5,613.3 L179,613.4 L179.5,613.3 L181,613.3 L181.5,613.2 L182,613.3 L183.5,613.3 L184,613.2 L184.5,613.3 L185,613.3 L185.5,613.2 L186,613.4 L186.5,613.3 L187,613.3 L187.5,613.4 L188,613.4 L188.5,613.2 L189,613.4 L189.5,613.3 L190,613.4 L190.5,613.3 L191,613.4 L191.5,613.3 L192,613.2 L192.5,613.4 L193,613.3 L193.5,613.2 L194,613.3 L195,613.3 L195.5,613.2 L196,613.4 L196.5,613.3 L197,613.4 L197.5,613.4 L198,613.2 L198.5,613.4 L199,613.2 L199.5,613.2 L200,613.3 L201,613.3 L201.2,613.4Z" fill="#3a4aa0"/>
<path d="M93.0,637.3 L93,637.3 L94.5,637.3 L95,637.2 L95.5,635.3 L96,631.7 L96.5,634.1 L97,635.3 L97.5,635.3 L98,632.4 L98.5,628.3 L99,635.9 L99.5,637.3 L101,637.3 L101.0,637.3Z" fill="#e52222"/>
<path d="M124.9,637.5 L124.9,617.5 L125.6,615.6 L126.5,617 L126.5,637.5Z" fill="#e52222"/>
<path d="M202.2,546.2 L202.2,546 L202.7,545.1 L203.2,546.1 L203.7,545.4 L204.2,546.1 L204.7,545.9 L205.2,545.1 L205.7,546 L206.2,545.5 L206.7,545.7 L207.7,545.7 L208.2,546 L208.7,545.3 L209.2,546.1 L209.7,545.9 L210.2,546.2 L210.7,545.9 L211.2,545.8 L211.7,545.2 L212.2,545.8 L212.7,546.1 L213.2,545.9 L213.7,545.1 L214.2,546.1 L214.7,545.5 L215.2,545.8 L215.7,545.5 L216.2,545.8 L216.7,545.4 L217.2,545.7 L217.7,545.5 L218.2,545.2 L218.7,545.6 L219.2,546 L219.7,546.1 L220.2,545.2 L220.7,545.7 L221.2,546 L221.7,545.2 L222.2,545.6 L222.7,545.4 L223.2,545.2 L223.7,545.9 L224.2,545.8 L224.7,545.2 L225.2,546.1 L225.7,545.4 L226.2,546.1 L226.7,545.4 L227.2,545.4 L227.7,545.2 L228.2,545.3 L228.7,545.6 L229.2,546 L229.7,546 L230.2,545.6 L230.7,545.6 L231.2,546.1 L231.7,545.2 L232.2,545.6 L232.7,545.4 L233.2,546 L233.7,545.9 L234.2,546.2 L234.7,545.8 L235.2,545.9 L235.7,545.7 L236.2,545.8 L236.7,545.3 L237.2,545.2 L237.7,546 L238.2,545.8 L238.7,546 L239.2,545.5 L239.7,545.1 L240.2,546 L240.7,545.4 L241.2,545.9 L241.7,546.2 L242.2,545.4 L242.7,545.8 L243.2,546 L243.7,545.7 L244.2,545.9 L244.7,545.7 L245.7,545.7 L246.2,545.6 L246.7,545.9 L247.2,546.1 L248.2,546.1 L248.7,545.6 L249.2,545.8 L249.7,545.3 L250.2,545.6 L250.7,545.4 L251.2,545.1 L251.7,546.1 L252.2,546.2 L252.7,546 L253.2,545.8 L253.7,545.6 L254.2,545.4 L254.7,545.8 L255.2,545.1 L255.7,546.2 L256.2,545.3 L256.7,546 L257.2,545.2 L257.7,546.2 L258.2,545.1 L258.7,545.4 L259.2,545.1 L259.7,545.6 L260.2,546 L260.7,545.1 L261.2,545.7 L261.7,546.1 L262.2,545.5 L262.7,545.7 L263.2,545.7 L263.7,546 L264.2,546 L264.7,544.7 L265.2,542.5 L265.7,542.4 L266.2,544.5 L266.7,545.3 L267.2,545.4 L267.7,545.7 L268.2,545.8 L268.7,545.8 L269.2,546 L269.7,546 L270.2,545.7 L270.7,546.1 L271.2,545.4 L271.7,545.4 L272.2,545.5 L272.7,546.2 L273.2,545.8 L273.7,545.7 L274.2,546.1 L274.7,545.1 L275.2,545.4 L275.7,545.6 L276.2,545.4 L276.7,546 L277.2,545.9 L277.7,545.6 L278.2,545.4 L278.7,545.5 L279.2,546.2 L279.7,545.5 L280.2,545.2 L280.7,545.4 L281.2,545.2 L281.7,545.1 L282.2,546 L282.7,545.9 L283.2,545.6 L283.7,545.1 L284.2,545.8 L284.7,545.2 L285.2,545.3 L285.7,545.6 L286.2,545.5 L286.7,545.1 L287.2,545.3 L287.7,545.9 L288.2,545.3 L288.7,546 L289.2,545.8 L289.7,545.1 L290.2,545.3 L290.7,545.9 L291.2,545.9 L291.7,545.5 L292.2,545.3 L292.7,545.4 L293.2,545.2 L293.7,545.4 L294.2,545.3 L294.7,545.5 L295.2,545.8 L295.7,545.7 L296.2,545.7 L296.7,545.6 L297.2,545.3 L297.7,545.9 L298.2,546.1 L298.7,545.4 L299.2,545.9 L299.7,545.7 L300.2,546.1 L300.7,545.3 L301.2,545.9 L301.7,545.9 L302.2,545.3 L302.7,545.6 L303.2,545.9 L303.7,545.2 L304.2,545.7 L304.7,545.8 L305.2,545.1 L305.7,545.3 L306.2,545.4 L306.7,545.9 L307.2,545.3 L307.7,545.5 L308.2,545.3 L308.7,545.8 L309.2,545.3 L309.7,545.3 L310.2,545.8 L310.7,545.5 L311.2,545.3 L311.7,545.1 L312.2,545.2 L312.7,545.3 L313.2,546 L313.7,545.5 L314.2,545.4 L314.7,546.1 L315.2,545.7 L315.7,545.2 L316.2,544.9 L316.7,541.8 L317.2,528.1 L317.7,529.2 L318.2,539.9 L318.7,541.8 L319.2,543.4 L319.7,545 L320.2,544.8 L320.7,545.1 L321.2,545.5 L321.7,545.8 L322.2,545.3 L322.7,545.3 L323.2,545.4 L323.7,545.5 L324.2,545.8 L324.7,545.9 L325.2,545.8 L325.7,545.8 L326.2,545.6 L326.7,546.1 L327.2,545.4 L327.7,545.8 L328.2,546 L328.7,545.9 L329.2,545.8 L329.7,545.7 L330.2,545.3 L330.7,546.1 L331.2,546 L331.7,545.9 L332.2,546 L332.7,545.4 L333.2,546.1 L333.7,546.1 L334.2,545.6 L334.7,545.4 L335.2,545.3 L335.7,545.6 L336.2,545.8 L336.7,545.2 L337.2,545.4 L337.7,545.7 L338.0,546.2Z" fill="#f0a830"/>
<path d="M202.2,568.4 L202.2,568.3 L202.7,568.3 L203.2,568.4 L203.7,568.1 L204.2,568.4 L204.7,568.2 L205.2,568.1 L205.7,568.4 L206.2,568.2 L206.7,568.2 L207.2,568.4 L207.7,568.3 L208.2,568.2 L208.7,568.3 L209.2,568.2 L209.7,568.4 L210.2,568.3 L210.7,568.4 L211.2,568.2 L211.7,568.1 L212.2,568.2 L212.7,568.2 L213.2,568.3 L213.7,568.2 L214.2,568.4 L214.7,568.3 L215.2,568.2 L215.7,568.2 L216.2,568.3 L216.7,568.4 L217.2,568.3 L218.2,568.3 L218.7,568.2 L219.2,568.3 L219.7,568.1 L220.2,568.1 L220.7,568.4 L221.2,568.3 L221.7,568.3 L222.2,568.4 L222.7,568.3 L223.2,568.1 L223.7,568.4 L224.2,568.2 L224.7,568.4 L225.2,568.2 L225.7,568.1 L226.2,568.3 L226.7,568.4 L227.2,568.4 L227.7,568.2 L228.2,568.4 L228.7,568.4 L229.2,568.3 L229.7,568.1 L230.2,568.3 L230.7,568.3 L231.2,568.2 L231.7,568.4 L232.2,568.2 L232.7,568.3 L233.2,568.2 L233.7,568.1 L234.2,568.4 L234.7,568.2 L235.2,568.2 L235.7,568.4 L236.2,568.3 L236.7,568.1 L237.2,568.1 L237.7,568.4 L238.2,568.2 L238.7,568.1 L239.2,568.3 L239.7,568.2 L240.2,568.4 L240.7,568.3 L241.2,568.2 L242.2,568.2 L242.7,568.4 L243.2,568.3 L243.7,568.1 L244.2,568.2 L244.7,568.3 L245.2,568.3 L245.7,568.1 L246.2,568.2 L246.7,568.4 L247.2,568.2 L247.7,568.3 L249.7,568.3 L250.2,568.4 L250.7,568.2 L251.2,568.4 L251.7,568.2 L252.2,568.4 L252.7,568.2 L253.2,568.2 L253.7,568.3 L254.2,568.2 L254.7,568.3 L255.2,568.2 L255.7,568.3 L256.2,568.3 L256.7,568.1 L257.2,568.3 L257.7,568.3 L258.2,568.1 L258.7,568.3 L259.2,568.2 L259.7,568.3 L260.2,568.1 L260.7,568.3 L261.2,568.3 L261.7,567.8 L262.2,567.4 L262.7,566.6 L263.2,566.9 L263.7,567.7 L264.2,568.3 L264.7,568.4 L265.2,568.3 L265.7,568.3 L266.2,568.2 L266.7,568.1 L267.2,568.3 L267.7,568.4 L268.2,568.2 L268.7,568.4 L269.2,568.4 L269.7,568.2 L270.2,568.2 L270.7,568.4 L271.2,568.3 L271.7,568.2 L272.2,568.2 L272.7,568.3 L273.2,568.1 L273.7,568.3 L274.2,568.2 L274.7,568.2 L275.2,568.1 L275.7,568.3 L276.2,568.4 L276.7,568.4 L277.2,568.2 L277.7,568.3 L278.2,568.2 L278.7,568.4 L279.2,568.2 L279.7,568.3 L280.2,568.4 L280.7,568.3 L281.2,568.3 L281.7,568.2 L282.2,568.3 L283.2,568.3 L283.7,568.1 L284.2,568.2 L284.7,568.1 L285.2,568.4 L285.7,568.1 L286.2,568.1 L286.7,568.2 L287.7,568.2 L288.2,568.1 L288.7,568.4 L289.2,568.2 L289.7,568.2 L290.2,568.3 L290.7,568.2 L291.2,568.2 L291.7,568.4 L292.2,568.2 L292.7,568.3 L293.2,568.3 L293.7,568.2 L294.2,568.4 L294.7,568.2 L295.2,568.3 L295.7,568.1 L296.2,568.3 L296.7,568.2 L297.7,568.2 L298.2,568.1 L298.7,568.4 L299.2,568.2 L300.2,568.2 L300.7,568.3 L301.2,568.4 L301.7,568.3 L302.2,568.2 L302.7,568.3 L303.2,568.2 L303.7,567.6 L304.2,567.5 L304.7,567.9 L305.2,568.3 L305.7,568.2 L306.2,568.3 L306.7,568.2 L307.2,568.4 L307.7,568.1 L308.2,568.2 L308.7,568.1 L309.2,568.1 L309.7,568.2 L310.2,568.4 L310.7,568.3 L311.2,568.3 L311.7,568.2 L312.2,568.3 L312.7,568.3 L313.2,568.4 L313.7,568.4 L314.2,568.1 L314.7,568.1 L315.2,568.3 L315.7,568 L316.2,567.2 L316.7,564.4 L317.2,561.2 L317.7,561.6 L318.2,565.2 L318.7,567.6 L319.2,568.2 L319.7,568.3 L320.2,568.3 L320.7,568.1 L321.2,568.4 L321.7,568.4 L322.2,568.2 L322.7,568.4 L323.2,568.3 L323.7,568.1 L324.2,568.2 L324.7,568.3 L325.2,568.4 L325.7,568.3 L326.2,568.3 L326.7,568.2 L327.2,568.1 L327.7,568.2 L328.2,568.1 L330.2,568.1 L330.7,568.4 L331.2,568.3 L331.7,568.3 L332.2,568.2 L332.7,568.3 L333.2,568.3 L333.7,568.1 L334.2,568.3 L335.7,568.3 L336.2,568.2 L336.7,568.2 L337.2,568.3 L337.7,568.3 L338.0,568.4Z" fill="#20208a"/>
<path d="M202.2,590.8 L202.2,590.7 L203.2,590.7 L203.7,590.8 L204.2,590.6 L204.7,590.6 L205.2,590.7 L205.7,590.8 L206.2,590.7 L206.7,590.7 L207.2,590.8 L207.7,590.6 L208.2,590.6 L208.7,590.8 L209.2,590.6 L209.7,590.7 L212.7,590.7 L213.2,590.8 L213.7,590.6 L214.7,590.6 L215.2,590.7 L215.7,590.8 L216.7,590.8 L217.2,590.6 L217.7,590.7 L218.2,590.7 L218.7,590.6 L219.2,590.7 L220.2,590.7 L220.7,590.8 L221.2,590.7 L221.7,590.6 L222.2,590.8 L222.7,590.8 L223.2,590.7 L223.7,590.8 L224.2,590.7 L224.7,590.6 L225.2,590.7 L225.7,590.7 L226.2,590.6 L226.7,590.8 L227.2,590.7 L228.2,590.7 L228.7,590.8 L229.2,590.6 L229.7,590.8 L230.2,590.8 L230.7,590.6 L231.2,590.6 L231.7,590.7 L232.2,590.7 L232.7,590.8 L233.2,590.7 L233.7,590.7 L234.2,590.8 L234.7,590.8 L235.2,590.7 L235.7,590.8 L236.2,590.7 L236.7,590.6 L237.2,590.6 L237.7,590.7 L238.7,590.7 L239.2,590.8 L239.7,590.7 L240.7,590.7 L241.2,590.8 L241.7,590.7 L242.7,590.7 L243.2,590.6 L243.7,590.7 L244.2,590.8 L244.7,590.7 L245.2,590.6 L245.7,590.7 L246.2,590.7 L246.7,590.8 L247.2,590.7 L250.2,590.7 L250.7,590.8 L251.2,590.7 L251.7,590.6 L252.2,590.7 L252.7,590.8 L253.2,590.8 L253.7,590.7 L254.2,590.8 L255.2,590.8 L255.7,590.7 L256.2,590.6 L256.7,590.7 L258.7,590.7 L259.2,590.6 L260.2,590.6 L260.7,590.4 L261.2,590 L261.7,589.4 L262.2,588.8 L262.7,587.7 L263.2,585.5 L263.7,582.3 L264.2,580 L264.7,581.1 L265.2,584.3 L265.7,587 L266.2,588.3 L266.7,589.2 L267.2,589.9 L267.7,590.2 L268.2,590.5 L268.7,590.6 L269.2,590.8 L269.7,590.6 L271.2,590.6 L271.7,590.7 L272.2,590.7 L272.7,590.8 L273.2,590.7 L273.7,590.6 L274.2,590.8 L274.7,590.7 L275.2,590.8 L276.7,590.8 L277.2,590.6 L277.7,590.6 L278.2,590.7 L283.2,590.7 L283.7,590.8 L284.2,590.7 L284.7,590.6 L285.2,590.6 L285.7,590.7 L286.2,590.8 L286.7,590.7 L287.2,590.8 L287.7,590.8 L288.2,590.7 L288.7,590.7 L289.2,590.6 L289.7,590.7 L296.7,590.7 L297.2,590.6 L297.7,590.7 L298.2,590.6 L299.2,590.6 L299.7,590.7 L300.2,590.8 L300.7,590.6 L301.2,590.6 L301.7,590.8 L302.2,590.7 L302.7,590.7 L303.2,590.6 L303.7,590.5 L304.2,590.2 L304.7,590 L305.2,590.4 L305.7,590.7 L306.2,590.6 L306.7,590.6 L307.2,590.8 L307.7,590.7 L308.2,590.6 L308.7,590.8 L309.2,590.7 L309.7,590.7 L310.2,590.6 L310.7,590.6 L311.2,590.8 L311.7,590.8 L312.2,590.6 L312.7,590.7 L313.2,590.7 L313.7,590.6 L314.7,590.6 L315.2,590.7 L315.7,590.7 L316.2,589.5 L316.7,582.6 L317.2,571.1 L317.7,574.8 L318.2,583.4 L318.7,585.8 L319.2,587.4 L319.7,589 L320.2,590 L320.7,590.4 L321.2,590.6 L321.7,590.8 L322.2,590.6 L322.7,590.7 L324.7,590.7 L325.2,590.8 L325.7,590.6 L326.2,590.7 L327.2,590.7 L327.7,590.6 L328.2,590.8 L328.7,590.6 L329.2,590.6 L329.7,590.7 L330.7,590.7 L331.2,590.8 L331.7,590.7 L332.2,590.8 L332.7,590.6 L333.2,590.8 L333.7,590.7 L334.2,590.7 L334.7,590.6 L335.2,590.6 L335.7,590.7 L336.2,590.7 L336.7,590.8 L337.2,590.8 L337.7,590.7 L338.0,590.8Z" fill="#e52222"/>
<path d="M202.2,613.4 L202.2,613.2 L202.7,613.1 L203.2,612.9 L203.7,613.2 L204.2,613.1 L204.7,613.1 L205.2,613.3 L205.7,613.1 L206.2,613.1 L206.7,613 L207.2,613.4 L207.7,613.2 L208.2,613.3 L208.7,612.5 L209.2,610 L209.7,609.8 L210.2,612 L210.7,612.2 L211.2,611 L211.7,610.8 L212.2,612.4 L212.7,613.1 L213.2,612.3 L213.7,611.6 L214.2,611.4 L214.7,612.2 L215.2,612.7 L215.7,611.9 L216.2,611.8 L216.7,612.4 L217.2,613.1 L217.7,613.1 L218.2,613.2 L218.7,613.1 L219.2,613.2 L219.7,613.3 L220.2,612.9 L220.7,612.9 L221.2,613 L221.7,613 L222.2,613.2 L222.7,613.3 L223.2,613.3 L223.7,613.4 L224.2,613 L224.7,613.2 L225.2,612.9 L225.7,612.4 L226.2,611.1 L226.7,612.2 L227.2,613.3 L227.7,613.3 L228.2,612.9 L228.7,613.2 L229.2,612.9 L229.7,613.2 L230.2,613.4 L230.7,613.1 L231.2,613 L231.7,613.3 L232.2,613.4 L232.7,613.2 L233.2,612.9 L233.7,612.8 L234.2,612.2 L234.7,612 L235.2,613 L235.7,613.4 L236.2,613 L236.7,613.3 L237.2,613.1 L237.7,613.2 L238.2,613.3 L238.7,613 L239.2,613.3 L239.7,613.1 L240.2,613.3 L240.7,613.2 L241.2,613.3 L241.7,613.3 L242.2,612.9 L242.7,613 L243.2,613.2 L243.7,613 L244.2,613.3 L244.7,613.2 L245.2,612.7 L245.7,612 L246.2,612.4 L246.7,612.7 L247.2,613.3 L247.7,613.3 L248.2,613 L248.7,613.2 L249.2,613.3 L249.7,613.4 L250.2,613.4 L250.7,613.1 L251.2,613.3 L251.7,613.1 L252.2,613.2 L252.7,613.2 L253.2,612.9 L253.7,613.2 L254.2,613.1 L254.7,613 L255.2,613.3 L255.7,613.3 L256.2,612.9 L256.7,613 L257.2,613.3 L257.7,613.2 L258.2,612.3 L258.7,611.8 L259.2,612.9 L259.7,612.9 L260.2,613 L260.7,613.1 L261.2,613.2 L261.7,613.1 L262.2,612.5 L262.7,612.2 L263.2,613.1 L263.7,613 L264.2,613.3 L264.7,613 L265.2,613.1 L265.7,613.3 L266.2,613.3 L266.7,613 L267.2,613.4 L267.7,613.3 L268.2,613.1 L268.7,613 L269.2,613.1 L269.7,613.3 L270.2,612.9 L270.7,613.3 L271.2,613.4 L271.7,613.3 L272.2,613.2 L272.7,613.4 L273.2,613.3 L273.7,613.2 L274.2,613.1 L274.7,613.3 L275.2,613.2 L275.7,613 L276.2,612.9 L276.7,613.1 L277.7,613.1 L278.2,613.3 L278.7,613.4 L279.2,613.4 L279.7,612.9 L280.2,613 L280.7,612.9 L281.2,613.4 L281.7,613.1 L282.2,613.2 L282.7,613 L283.2,613.2 L283.7,612.9 L284.2,613.4 L284.7,613.1 L285.2,613 L285.7,612.9 L286.2,613 L287.2,613 L287.7,612.9 L288.2,613.2 L288.7,613.1 L289.2,612.9 L289.7,613 L290.2,613.2 L290.7,613 L291.2,613 L291.7,613.1 L292.2,613.1 L292.7,613.2 L293.2,613.1 L293.7,613.1 L294.2,613.4 L294.7,613.1 L295.2,612.9 L295.7,613 L296.2,613 L296.7,613.2 L297.2,613 L297.7,613.1 L298.2,613.2 L298.7,613 L299.2,613.4 L299.7,613 L300.2,613.4 L300.7,613.1 L301.2,613.2 L301.7,613.3 L302.2,613.1 L302.7,613.2 L303.2,613.1 L303.7,612.9 L304.2,613.3 L304.7,613.4 L305.2,613.2 L305.7,613.1 L306.2,613.3 L306.7,613.3 L307.2,612.9 L307.7,613.1 L308.2,613.2 L308.7,613 L309.2,613.2 L309.7,613.1 L310.2,613.3 L310.7,613.2 L311.2,613 L311.7,612.9 L312.2,613 L312.7,613.2 L313.2,613.1 L313.7,613.2 L314.2,613.3 L314.7,613.2 L315.2,613 L316.2,613 L316.7,612.9 L317.2,613.3 L317.7,613.3 L318.2,613.2 L318.7,613.3 L319.2,613.3 L319.7,613.2 L320.2,613.1 L320.7,613.2 L321.2,613.2 L321.7,613 L322.2,612.9 L322.7,613.2 L323.2,613.4 L323.7,613.4 L324.2,613 L324.7,613.4 L325.2,613 L325.7,613.1 L326.2,613.2 L326.7,613 L327.2,613.4 L327.7,613.3 L328.2,613.2 L328.7,613.4 L329.2,613 L329.7,613.3 L330.2,613.3 L330.7,613.4 L331.2,613.1 L331.7,613.2 L332.2,613.1 L332.7,613.1 L333.2,613 L333.7,612.9 L334.2,613.1 L334.7,613.3 L335.2,613.2 L335.7,613.3 L336.2,613.4 L336.7,613.2 L337.2,613 L337.7,613.3 L338.0,613.4Z" fill="#3a4aa0"/>
<path d="M207.8,635.5 L207.8,620 L209.5,618.3 L211,624 L212.5,627 L214,623 L215.5,619 L217.3,618.3 L217.3,635.5Z" fill="#e52222"/>
<rect x="221.8" y="618.3" width="1.2" height="17.2" fill="#e52222" fill-opacity="0.55"/>
<rect x="223.0" y="619.5" width="2.6" height="16.0" fill="#e52222" fill-opacity="0.35"/>
<rect x="225.6" y="618.3" width="1.2" height="17.2" fill="#e52222" fill-opacity="0.55"/>
<rect x="233.6" y="619" width="1.2" height="16.5" fill="#e52222" fill-opacity="0.7"/>
<rect x="243.3" y="617.7" width="1.1" height="17.8" fill="#e52222" fill-opacity="0.7"/>
<rect x="245.2" y="617.7" width="1.1" height="17.8" fill="#e52222" fill-opacity="0.55"/>
<rect x="247.4" y="618.5" width="1.2" height="17.0" fill="#e52222" fill-opacity="0.7"/>
<rect x="251.0" y="616.4" width="1.6" height="19.1" fill="#e52222" fill-opacity="0.6"/>
<rect x="256.2" y="619" width="1.4" height="16.5" fill="#e52222" fill-opacity="0.7"/>
<path d="M261.7,635.5 L261.7,629 L263,628.3 L266.2,634 L266.2,635.5Z" fill="#e52222"/>
<path d="M202.2,635.5 L202.2,635.5 L299.7,635.5 L300.2,635.4 L300.7,634.9 L301.2,634.8 L301.7,635.3 L302.2,635.5 L317.2,635.5 L317.7,635.4 L318.2,634.9 L318.7,634.3 L319.2,634.6 L319.7,635.3 L320.2,635.5 L337.7,635.5 L338.0,635.5Z" fill="#e52222"/>
<path d="M339.0,546.2 L339,546.1 L339.5,545.9 L340.5,545.9 L341,546.1 L342.5,546.1 L343,545.9 L343.5,546.1 L344,546 L344.5,546.1 L345,546.1 L345.5,546 L346,545.9 L346.5,546 L347,546.2 L347.5,546.1 L348,546.1 L348.5,545.9 L350.5,545.9 L351,545.8 L351.5,545.9 L352,546.1 L352.5,545.9 L353,546 L353.5,545.9 L354,546 L354.5,546 L355,546.1 L355.5,546 L356,546.1 L356.5,546.2 L357,545.9 L357.5,545.9 L358,545.8 L358.5,545.9 L359,546 L359.5,545.9 L360,546.1 L360.5,545.9 L361,546 L361.5,546.1 L362,546.1 L362.5,546 L363,546.1 L363.5,546 L364.5,546 L365,546.1 L365.5,546 L366,546.1 L367.5,546.1 L368,546.2 L368.5,545.9 L369,545.8 L369.5,546 L370,545.9 L370.5,545.8 L371,546.2 L371.5,546.1 L372,545.9 L373,545.9 L373.5,546.1 L374,546 L374.5,545.9 L375,545.8 L375.5,545.9 L376,546.1 L376.5,545.9 L377,546.1 L377.5,545.9 L378,546.1 L378.5,545.8 L379,546 L379.5,545.9 L380,546.1 L380.5,546 L381.5,546 L382,546.1 L382.5,545.9 L383,546.1 L383.5,546.1 L384,545 L384.5,538.2 L385,542.8 L385.5,546 L386,546.2 L386.5,545.9 L387,546 L387.5,546 L388,546.2 L388.5,546 L389,546.1 L389.5,546.2 L390,546.2 L390.5,545.8 L391,546.2 L391.5,546.1 L392,546.1 L392.5,546 L393,546.2 L393.5,546 L394,546.1 L394.5,545.9 L395,546.2 L395.5,546.1 L396,546 L396.5,545.8 L397,546 L397.5,546 L398,545.9 L398.5,546.1 L399,546.2 L399.5,546 L400,545.8 L400.5,545.9 L401,546.1 L401.5,545.9 L402,545.9 L402.5,546.1 L403,546 L403.5,546.1 L405.5,546.1 L406,546.2 L406.5,546 L407,546.2 L407.5,545.9 L408,546 L408.5,546.2 L409,545.9 L409.5,546.1 L410,546 L410.5,546 L411,546.1 L411.5,546.1 L412,546 L412.5,546.1 L413,545.9 L413.5,546.2 L414,545.9 L414.5,546.1 L415,546.1 L415.5,546 L416,546.2 L416.5,546.1 L417,546.1 L417.5,546 L418,545.8 L418.5,545.8 L419,546.2 L419.5,546 L420,546.1 L420.5,545.9 L421,546.1 L421.5,545.8 L422,546 L422.5,546.1 L423,546.2 L423.5,546.1 L424,545.9 L424.5,546.1 L425,546 L425.5,546.1 L426,546.1 L426.5,545.9 L427,546.1 L427.5,545.9 L428,545.9 L428.5,545.8 L429,546 L429.5,545.8 L430,546 L431,546 L431.5,545.9 L432,545.8 L432.5,546.2 L433,546.1 L433.5,546 L434,545.9 L434.5,546 L435,546.1 L435.5,545.8 L436,546.1 L436.5,546.2 L437.5,546.2 L438,545.9 L438.5,546.2 L439,545.9 L439.5,545.5 L440,543.1 L440.5,535.1 L441,526.4 L441.5,528.5 L442,535.7 L442.5,538.9 L443,540 L443.5,540.9 L444,542 L444.5,542.4 L445,542.3 L445.5,542.7 L446,543.1 L446.5,543.3 L447,543.7 L447.5,544 L448,544.1 L448.5,544.2 L449,544.5 L449.5,544.6 L450,545.3 L450.5,545.4 L451,545.6 L451.5,545.9 L452,545.7 L452.5,545.9 L453,546 L453.5,546.1 L454,546 L454.5,545.8 L455,546 L455.5,546.1 L456,546 L456.5,546 L457,546.1 L457.5,546 L458,546.2 L458.5,545.9 L459,546.1 L459.5,546.2 L460,546 L460.5,546.1 L461,545.8 L461.5,546 L462,546 L462.5,545.9 L463,546.1 L463.5,545.9 L464,545.9 L464.5,546 L465,545.8 L465.5,546.2 L466,545.9 L466.5,546.1 L467,545.9 L467.5,546.1 L468,546.2 L468.5,546 L469,545.8 L469.5,546.1 L470,546 L470.5,546 L471,546.1 L471.5,546 L472,546.2 L472.5,546 L473,545.9 L473.5,546.1 L474,546.1 L474.5,546.2 L475,545.9 L475.0,546.2Z" fill="#f0a830"/>
<path d="M339.0,568.4 L339,568.4 L339.5,568.3 L340,568.3 L340.5,568.2 L341,568.3 L344,568.3 L344.5,568.2 L345,568.4 L345.5,568.4 L346,568.2 L346.5,568.3 L347,568.3 L347.5,568.2 L348,568.3 L348.5,568.4 L349,568.3 L349.5,568.3 L350,568.4 L350.5,568.3 L351,568.4 L351.5,568.3 L352,568.4 L352.5,568.4 L353,568.2 L353.5,568.3 L354,568.2 L354.5,568.3 L355,568.3 L355.5,568.2 L356,568.3 L356.5,568.4 L357,568.3 L357.5,568.3 L358,568.4 L358.5,568.4 L359,568.2 L359.5,568.3 L360,568.4 L360.5,568.3 L361,568.4 L361.5,568.2 L362,568.3 L362.5,568.4 L363,568.2 L363.5,568.4 L364,568.3 L364.5,568.4 L365,568.3 L365.5,568.4 L366,568.3 L366.5,568.4 L367,568.3 L370,568.3 L370.5,568.4 L371,568.3 L371.5,568.4 L372,568.2 L372.5,568.2 L373,568.4 L373.5,568.4 L374,568.3 L374.5,568.3 L375,568.4 L375.5,568.3 L376,568.2 L376.5,568.3 L377.5,568.3 L378,568.2 L378.5,568.3 L379,568.3 L379.5,568.4 L380,568.3 L381.5,568.3 L382,568.4 L382.5,568.3 L383,568.2 L383.5,568.3 L384,567.9 L384.5,565.4 L385,567.1 L385.5,568.3 L386,568.4 L387.5,568.4 L388,568.2 L388.5,568.3 L389,568.4 L389.5,568.3 L390,568.2 L390.5,568.3 L391,568.2 L391.5,568.3 L392.5,568.3 L393,568.2 L393.5,568.2 L394,568.3 L394.5,568.2 L395,568.3 L395.5,568.3 L396,568.2 L396.5,568.3 L397,568.2 L397.5,568.3 L398,568.2 L398.5,568.3 L399,568.4 L399.5,568.2 L400,568.3 L401,568.3 L401.5,568.4 L402,568.4 L402.5,568.3 L403,568.4 L403.5,568.3 L405,568.3 L405.5,568.2 L406,568.1 L406.5,567.6 L407,567.3 L407.5,567.7 L408,568.1 L408.5,568.3 L409,568.3 L409.5,568.4 L410,568.3 L410.5,568.4 L411,568.3 L412,568.3 L412.5,568.2 L413,568.3 L413.5,568.3 L414,568.4 L414.5,568.3 L415.5,568.3 L416,568.2 L416.5,568.2 L417,568.4 L417.5,568.3 L418,568.2 L418.5,568.3 L419,568.4 L419.5,568.2 L420,568.3 L420.5,568.2 L422,568.2 L422.5,568.4 L423,568.2 L423.5,568.3 L424,568.4 L424.5,568.3 L425,568.3 L425.5,568.4 L426,568.3 L426.5,568.2 L427,568.3 L428,568.3 L428.5,568.2 L429,568.4 L429.5,568.3 L430,568.3 L430.5,568.4 L431,568.2 L431.5,568.4 L432,568.2 L433.5,568.2 L434,568.3 L435,568.3 L435.5,568.2 L436,568.4 L436.5,568.4 L437,568.2 L437.5,568.2 L438,568.3 L438.5,568.2 L439,568.3 L439.5,568.2 L440,568 L440.5,566.3 L441,564.5 L441.5,565.4 L442,567.5 L442.5,568.1 L443,568.1 L443.5,567.9 L444,567.5 L444.5,567.1 L445,566.5 L445.5,565.8 L446,563.8 L446.5,558.7 L447,553.7 L447.5,556.7 L448,563.4 L448.5,566.7 L449,567.6 L449.5,567.9 L450,568 L450.5,568.3 L451,568.3 L451.5,568.2 L452,568.3 L452.5,568.4 L453,568.3 L454,568.3 L454.5,568.2 L455,568.3 L455.5,568.4 L456,568.3 L457,568.3 L457.5,568.4 L458,568.3 L460,568.3 L460.5,568.2 L461,568.3 L461.5,568.3 L462,568.2 L462.5,568.3 L463,568.4 L463.5,568.3 L464,568.4 L464.5,568.2 L465,568.3 L465.5,568.2 L466,568.3 L466.5,568.4 L467,568.3 L469,568.3 L469.5,568.2 L470,568.4 L470.5,568.2 L471,568.4 L471.5,568.3 L472,568.4 L472.5,568.4 L473,568.3 L473.5,568.2 L474,568.3 L475,568.3 L475.0,568.4Z" fill="#20208a"/>
<path d="M339.0,590.8 L339,590.6 L339.5,590.8 L340,590.7 L340.5,590.8 L341,590.6 L341.5,590.8 L342,590.6 L342.5,590.7 L343,590.6 L343.5,590.6 L344,590.8 L344.5,590.7 L346,590.7 L346.5,590.8 L347,590.6 L348,590.6 L348.5,590.8 L349,590.6 L349.5,590.7 L350,590.8 L350.5,590.7 L351,590.7 L351.5,590.8 L352,590.7 L353,590.7 L353.5,590.6 L354,590.7 L354.5,590.7 L355,590.6 L355.5,590.6 L356,590.7 L356.5,590.6 L357,590.8 L358,590.8 L358.5,590.6 L359,590.7 L360.5,590.7 L361,590.6 L361.5,590.8 L362.5,590.8 L363,590.7 L363.5,590.6 L364,590.7 L365,590.7 L365.5,590.8 L366,590.6 L366.5,590.7 L367,590.8 L367.5,590.7 L368,590.6 L368.5,590.7 L369,590.6 L369.5,590.7 L370,590.7 L370.5,590.8 L371,590.6 L371.5,590.6 L372,590.7 L372.5,590.8 L373,590.7 L373.5,590.7 L374,590.6 L374.5,590.6 L375,590.7 L375.5,590.7 L376,590.8 L376.5,590.6 L377,590.6 L377.5,590.8 L378,590.7 L378.5,590.7 L379,590.6 L379.5,590.8 L380,590.8 L380.5,590.6 L381,590.7 L381.5,590.7 L382,590.6 L382.5,590.7 L383.5,590.7 L384,590.4 L384.5,588 L385,589.5 L385.5,590.6 L386,590.7 L388.5,590.7 L389,590.6 L390.5,590.6 L391,590.8 L391.5,590.7 L393,590.7 L393.5,590.8 L394,590.8 L394.5,590.6 L395,590.7 L395.5,590.6 L396,590.7 L398.5,590.7 L399,590.8 L399.5,590.8 L400,590.6 L400.5,590.7 L401,590.8 L401.5,590.6 L402,590.7 L402.5,590.7 L403,590.6 L403.5,590.8 L404,590.8 L404.5,590.7 L405,590.6 L405.5,590.7 L406,590.5 L406.5,590.1 L407,589.9 L407.5,590.1 L408,590.6 L408.5,590.6 L409,590.8 L409.5,590.7 L410,590.6 L410.5,590.7 L411.5,590.7 L412,590.6 L412.5,590.7 L413,590.8 L413.5,590.7 L414,590.7 L414.5,590.8 L415,590.7 L415.5,590.7 L416,590.8 L416.5,590.7 L417,590.6 L417.5,590.7 L418,590.6 L418.5,590.6 L419,590.7 L420,590.7 L420.5,590.8 L421,590.7 L421.5,590.6 L422,590.8 L422.5,590.6 L423,590.7 L423.5,590.6 L424,590.8 L424.5,590.7 L425,590.8 L425.5,590.7 L426,590.6 L426.5,590.7 L427,590.7 L427.5,590.6 L428,590.8 L428.5,590.8 L429,590.6 L429.5,590.8 L430,590.7 L430.5,590.7 L431,590.6 L431.5,590.7 L435.5,590.7 L436,590.6 L436.5,590.6 L437,590.7 L437.5,590.5 L438,590.6 L438.5,590.4 L439,589.4 L439.5,586.2 L440,579.1 L440.5,573.2 L441,575.6 L441.5,582.6 L442,587 L442.5,588 L443,587.9 L443.5,587.7 L444.5,587.7 L445,587.8 L445.5,587.3 L446,584.8 L446.5,580.3 L447,576.8 L447.5,579 L448,584.4 L448.5,588.3 L449,590 L449.5,590.4 L450,590.6 L450.5,590.7 L451,590.6 L451.5,590.7 L453.5,590.7 L454,590.6 L454.5,590.7 L455,590.8 L455.5,590.6 L456,590.6 L456.5,590.8 L457,590.6 L457.5,590.7 L458.5,590.7 L459,590.6 L459.5,590.8 L460,590.7 L460.5,590.8 L461,590.8 L461.5,590.6 L462,590.6 L462.5,590.7 L463,590.6 L463.5,590.7 L464.5,590.7 L465,590.6 L465.5,590.7 L467,590.7 L467.5,590.6 L468.5,590.6 L469,590.7 L469.5,590.7 L470,590.6 L470.5,590.7 L471,590.7 L471.5,590.8 L472.5,590.8 L473,590.7 L473.5,590.8 L474,590.7 L474.5,590.8 L475,590.7 L475.0,590.8Z" fill="#e52222"/>
<path d="M339.0,613.4 L339,613.3 L339.5,613.2 L341,613.2 L341.5,613.1 L342,613.3 L342.5,613.1 L343,613.4 L343.5,613.3 L344.5,613.3 L345,613.1 L345.5,613.3 L346,613.1 L346.5,613 L347,613.3 L347.5,613 L348,613.1 L348.5,613.1 L349,613.4 L349.5,613.2 L350,613.1 L350.5,613.3 L352,613.3 L352.5,613.1 L353,613.3 L353.5,613.2 L354,613.1 L354.5,613 L355,613.3 L355.5,613.4 L356,613 L356.5,613.1 L357,613.1 L357.5,613.2 L358,613.3 L359,613.3 L359.5,613.2 L360,613.4 L360.5,613.1 L361,613.1 L361.5,613.4 L362,613.1 L362.5,613.2 L363,613 L363.5,613.2 L364,613.1 L364.5,613.2 L365.5,613.2 L366,613.4 L366.5,613.3 L367,613.3 L367.5,613.2 L368,613.3 L368.5,613.2 L369,613.1 L369.5,613.2 L370,613.3 L370.5,613.2 L371,613 L371.5,613.1 L372.5,613.1 L373,613.3 L373.5,613.4 L375,613.4 L375.5,613.1 L376,613 L376.5,613.4 L377,613.1 L377.5,613 L378,613.1 L378.5,613.3 L379,613.1 L379.5,613.3 L380,613.3 L380.5,613.4 L381,613.2 L381.5,612.7 L382,611.8 L382.5,610.8 L383,611.7 L383.5,612.6 L384,611.2 L384.5,609.9 L385,611.3 L385.5,612.9 L386,613 L386.5,611.8 L387,610.6 L387.5,611.5 L388,612.9 L388.5,613.3 L389,613.3 L389.5,613.2 L390,613.4 L390.5,613.4 L391,613.2 L391.5,613.1 L392,613.3 L392.5,613 L393,613 L393.5,613.2 L394,613.1 L394.5,612.6 L395,612.1 L395.5,612.4 L396,612.8 L396.5,613.3 L397,613.2 L397.5,613.4 L398,613.3 L398.5,613.3 L399,613.4 L399.5,613.4 L400,613 L400.5,613.3 L401,613.2 L403,613.2 L403.5,613 L404,612.9 L404.5,612.3 L405,612.1 L405.5,612.3 L406,612.8 L406.5,613 L407,613 L407.5,613.1 L408,613.4 L408.5,613.3 L409,613.3 L409.5,613.1 L410,613.2 L410.5,613.2 L411,613.3 L411.5,613.2 L412,613.1 L412.5,613.1 L413,613.3 L413.5,613.2 L414,612.9 L414.5,612.7 L415,612 L415.5,612.7 L416,612.9 L416.5,613.3 L417,613 L417.5,613.1 L418,613.3 L418.5,613.2 L419,613.1 L421,613.1 L421.5,613 L422,613.2 L422.5,613.1 L423,612.5 L423.5,610.5 L424,608.7 L424.5,609.6 L425,609 L425.5,607 L426,609.1 L426.5,610.4 L427,610.3 L427.5,611.6 L428,612.6 L428.5,613.1 L429,613 L429.5,613.1 L430,613 L430.5,613.3 L431,613.3 L431.5,613.2 L432,613.1 L432.5,613.4 L433,613 L433.5,613.3 L434,613.3 L434.5,613.2 L435,613.3 L435.5,613.4 L436.5,613.4 L437,613.3 L437.5,613.1 L438.5,613.1 L439,613.2 L439.5,613.1 L440,613.4 L440.5,613.1 L441,613.2 L441.5,613.4 L442,613.2 L442.5,613.3 L443,613.1 L443.5,613.3 L444,613.4 L444.5,613.3 L445,613.4 L445.5,613 L446,613.2 L446.5,613.1 L447,613.2 L447.5,613.2 L448,613.1 L448.5,613.2 L449,613.4 L449.5,613 L450,613.3 L450.5,613.1 L451,613.2 L451.5,613 L452,613.3 L452.5,613.4 L453,613.4 L453.5,613.2 L454,613.1 L454.5,613.2 L455,613 L455.5,613.3 L456,613 L456.5,613.3 L457,613 L457.5,613.3 L458,613.2 L458.5,613.2 L459,613 L459.5,613.2 L460,613.1 L460.5,613.4 L461,613 L461.5,613.2 L462,613.2 L462.5,613 L463,613.3 L463.5,613.2 L464,613.2 L464.5,613.3 L465,613.3 L465.5,613.2 L466,613.3 L466.5,613.2 L467,613.2 L467.5,613.4 L468,613.1 L468.5,613 L469,613.2 L469.5,613.3 L470,613.3 L470.5,613 L471,613.2 L471.5,613.1 L472,613.4 L472.5,613.1 L473,613 L473.5,613.3 L474,613.3 L474.5,613.1 L475,613 L475.0,613.4Z" fill="#3a4aa0"/>
<path d="M380.0,634.0 L380,633.2 L380.5,632.7 L381,632.4 L381.5,631.9 L382,624.7 L382.5,620 L383,618.9 L383.5,617.7 L384,623.1 L384.5,621.7 L385,622.3 L385.5,619 L386,622.8 L386.5,625.1 L387,623.6 L387.5,626.2 L388,627 L388.5,628 L389,631 L389.5,629.6 L390,630.5 L390.5,633 L391,632.7 L391.5,633.1 L392,632.4 L392.5,633.6 L393,633.1 L393.5,632.5 L394,632.8 L394.5,633.3 L395,633.6 L395.5,632.2 L396,632.8 L396.5,631.9 L397,633.2 L397.5,632 L398,631.9 L398.5,631.6 L399,633 L399.5,632.4 L400,632.9 L400.5,631.8 L401,632.5 L401.5,631.6 L402,632.6 L402.5,632 L403,632 L403.5,633.1 L404,632.7 L404.5,632.1 L405,632.8 L405.5,633.1 L406,633.3 L406.5,632.4 L407,633.3 L407.5,632.6 L408,632.6 L408.5,632.5 L409,633.1 L409.5,632.1 L410,631.6 L410.5,632.4 L411,632.3 L411.5,631.4 L412,631.9 L412.5,632.4 L413,632.8 L413.5,631.7 L414,632.5 L414.5,632.4 L415,632.8 L415.5,632.4 L416,632.3 L416.5,633.1 L417,633.6 L417.5,632.2 L418,632.4 L418.5,633.9 L419,633 L419.5,632.8 L420,633.3 L420.5,632.3 L421,628.3 L421.5,622.9 L422,621.4 L422.5,616.4 L423,619.9 L423.5,620.6 L424,621.1 L424.5,618 L425,615.5 L425.5,619.9 L426,617.9 L426.5,620.7 L427,620.5 L427.5,625.5 L428,625.8 L428.5,628.5 L429,630.8 L429.5,632.1 L430,632.5 L430.5,632.8 L431,633.3 L431.5,633.2 L432,632.2 L432.5,632.8 L433,632.3 L433.5,632.6 L434,632.8 L434.5,632.5 L435,631.8 L435.5,632.2 L436,632.4 L436.5,632.3 L437,632.2 L437.5,632.4 L438,632.5 L438.5,631.8 L439,632.2 L439.5,633.1 L440,633 L440.5,633.3 L441,633.1 L441.5,633.7 L442,632.6 L442.5,632.9 L443,633.2 L443.5,632.5 L444,633.4 L444.5,633 L445,632.5 L445.5,633.1 L446,633 L446.5,633.4 L447,632.4 L447.5,632.8 L448,633.5 L448.0,634.0Z" fill="#e52222"/>
<path d="M350.0,634.0 L350,634 L351,634 L351.5,633.8 L352,633.2 L352.5,633.8 L353,634 L354.5,634 L355,633.8 L355.5,633.2 L356,633.8 L356.5,634 L358,634 L358.0,634.0Z" fill="#e52222"/>
<line x1="64.50" y1="546.20" x2="201.70" y2="546.20" stroke="#e2c88a" stroke-width="0.8" />
<line x1="201.70" y1="546.20" x2="338.50" y2="546.20" stroke="#e2c88a" stroke-width="0.8" />
<line x1="338.50" y1="546.20" x2="475.50" y2="546.20" stroke="#e2c88a" stroke-width="0.8" />
<line x1="64.50" y1="568.40" x2="201.70" y2="568.40" stroke="#8e8eb8" stroke-width="0.8" />
<line x1="201.70" y1="568.40" x2="338.50" y2="568.40" stroke="#8e8eb8" stroke-width="0.8" />
<line x1="338.50" y1="568.40" x2="475.50" y2="568.40" stroke="#8e8eb8" stroke-width="0.8" />
<line x1="64.50" y1="590.80" x2="201.70" y2="590.80" stroke="#eaa0a0" stroke-width="0.8" />
<line x1="201.70" y1="590.80" x2="338.50" y2="590.80" stroke="#eaa0a0" stroke-width="0.8" />
<line x1="338.50" y1="590.80" x2="475.50" y2="590.80" stroke="#eaa0a0" stroke-width="0.8" />
<line x1="64.50" y1="613.40" x2="201.70" y2="613.40" stroke="#a0a0c0" stroke-width="0.8" />
<line x1="201.70" y1="613.40" x2="338.50" y2="613.40" stroke="#a0a0c0" stroke-width="0.8" />
<line x1="338.50" y1="613.40" x2="475.50" y2="613.40" stroke="#a0a0c0" stroke-width="0.8" />
<line x1="95.00" y1="638.80" x2="201.20" y2="638.80" stroke="#555" stroke-width="0.6" />
<rect x="95.00" y="637.30" width="4.00" height="3.00" fill="#111" stroke="none" stroke-width="1" />
<rect x="124.80" y="637.30" width="2.10" height="3.00" fill="#111" stroke="none" stroke-width="1" />
<rect x="139.50" y="638.00" width="0.70" height="1.60" fill="#111" stroke="none" stroke-width="1" />
<path d="M93.0,638.8 L95.5,636.8 L95.5,640.8Z" fill="#111"/>
<line x1="207.60" y1="638.80" x2="326.00" y2="638.80" stroke="#555" stroke-width="0.6" />
<rect x="207.60" y="637.30" width="10.20" height="3.00" fill="#111" stroke="none" stroke-width="1" />
<rect x="221.80" y="637.50" width="5.50" height="2.60" fill="#111" stroke="none" stroke-width="1" />
<rect x="233.50" y="637.50" width="1.10" height="2.60" fill="#111" stroke="none" stroke-width="1" />
<rect x="243.70" y="637.50" width="7.50" height="2.60" fill="#111" stroke="none" stroke-width="1" />
<rect x="256.00" y="637.50" width="2.70" height="2.60" fill="#111" stroke="none" stroke-width="1" />
<rect x="262.80" y="637.50" width="2.70" height="2.60" fill="#111" stroke="none" stroke-width="1" />
<rect x="309.20" y="637.30" width="11.00" height="3.00" fill="#111" stroke="none" stroke-width="1" />
<rect x="325.00" y="637.30" width="1.50" height="3.00" fill="#111" stroke="none" stroke-width="1" />
<line x1="382.40" y1="638.80" x2="446.00" y2="638.80" stroke="#555" stroke-width="0.6" />
<rect x="382.40" y="637.30" width="5.50" height="3.00" fill="#111" stroke="none" stroke-width="1" />
<rect x="422.80" y="637.30" width="4.70" height="3.00" fill="#111" stroke="none" stroke-width="1" />
<rect x="445.20" y="637.80" width="1.30" height="2.00" fill="#111" stroke="none" stroke-width="1" />
<line x1="339.00" y1="638.80" x2="382.00" y2="638.80" stroke="#666" stroke-width="0.5" stroke-dasharray="0.8,1.6"/>
<rect x="104.40" y="524.50" width="10.80" height="66.70" fill="none" stroke="#3c3c3c" stroke-width="0.8" />
<rect x="259.50" y="524.50" width="11.00" height="66.70" fill="none" stroke="#3c3c3c" stroke-width="0.8" />
<rect x="313.30" y="524.50" width="10.40" height="66.70" fill="none" stroke="#3c3c3c" stroke-width="0.8" />
<rect x="436.00" y="524.50" width="10.60" height="66.70" fill="none" stroke="#3c3c3c" stroke-width="0.8" />
<rect x="64.50" y="524.50" width="137.20" height="119.00" fill="none" stroke="#4a4a4a" stroke-width="0.8" />
<rect x="201.70" y="524.50" width="136.80" height="119.00" fill="none" stroke="#4a4a4a" stroke-width="0.8" />
<rect x="338.50" y="524.50" width="137.00" height="119.00" fill="none" stroke="#4a4a4a" stroke-width="0.8" />
<text x="68.80" y="531.60" font-size="6.09" text-anchor="start" fill="#231f20" textLength="13.22" lengthAdjust="spacingAndGlyphs" transform="rotate(0.06 68.80 531.60)" >0-6.6</text>
<text x="68.80" y="553.60" font-size="6.09" text-anchor="start" fill="#231f20" textLength="13.22" lengthAdjust="spacingAndGlyphs" transform="rotate(0.06 68.80 553.60)" >0-6.6</text>
<text x="68.80" y="575.40" font-size="6.09" text-anchor="start" fill="#231f20" textLength="13.22" lengthAdjust="spacingAndGlyphs" transform="rotate(0.06 68.80 575.40)" >0-2.9</text>
<text x="68.80" y="598.80" font-size="6.09" text-anchor="start" fill="#231f20" textLength="13.22" lengthAdjust="spacingAndGlyphs" transform="rotate(0.06 68.80 598.80)" >0-4.6</text>
<text x="68.80" y="621.60" font-size="6.09" text-anchor="start" fill="#231f20" textLength="13.22" lengthAdjust="spacingAndGlyphs" transform="rotate(0.06 68.80 621.60)" >0-4.6</text>
<text x="204.60" y="531.60" font-size="6.09" text-anchor="start" fill="#231f20" textLength="13.22" lengthAdjust="spacingAndGlyphs" transform="rotate(0.06 204.60 531.60)" >0-2.3</text>
<text x="204.60" y="553.60" font-size="6.09" text-anchor="start" fill="#231f20" textLength="13.22" lengthAdjust="spacingAndGlyphs" transform="rotate(0.06 204.60 553.60)" >0-2.3</text>
<text x="204.60" y="575.40" font-size="6.09" text-anchor="start" fill="#231f20" textLength="13.22" lengthAdjust="spacingAndGlyphs" transform="rotate(0.06 204.60 575.40)" >0-0.5</text>
<text x="204.60" y="598.80" font-size="6.09" text-anchor="start" fill="#231f20" textLength="13.22" lengthAdjust="spacingAndGlyphs" transform="rotate(0.06 204.60 598.80)" >0-0.2</text>
<text x="204.60" y="621.60" font-size="6.09" text-anchor="start" fill="#231f20" textLength="13.22" lengthAdjust="spacingAndGlyphs" transform="rotate(0.06 204.60 621.60)" >0-0.2</text>
<text x="342.30" y="531.60" font-size="6.09" text-anchor="start" fill="#231f20" textLength="13.22" lengthAdjust="spacingAndGlyphs" transform="rotate(0.06 342.30 531.60)" >0-4.9</text>
<text x="342.30" y="553.60" font-size="6.09" text-anchor="start" fill="#231f20" textLength="13.22" lengthAdjust="spacingAndGlyphs" transform="rotate(0.06 342.30 553.60)" >0-4.9</text>
<text x="342.30" y="575.40" font-size="6.09" text-anchor="start" fill="#231f20" textLength="13.22" lengthAdjust="spacingAndGlyphs" transform="rotate(0.06 342.30 575.40)" >0-1.3</text>
<text x="342.30" y="598.80" font-size="6.09" text-anchor="start" fill="#231f20" textLength="13.22" lengthAdjust="spacingAndGlyphs" transform="rotate(0.06 342.30 598.80)" >0-0.4</text>
<text x="342.30" y="621.60" font-size="6.09" text-anchor="start" fill="#231f20" textLength="13.22" lengthAdjust="spacingAndGlyphs" transform="rotate(0.06 342.30 621.60)" >0-0.4</text>
<text x="133.10" y="519.20" font-size="6.51" text-anchor="middle" fill="#231f20" textLength="71.00" lengthAdjust="spacingAndGlyphs" transform="rotate(0.06 133.10 519.20)" >chr1:6,420,994-6,436,839</text>
<text x="270.10" y="519.20" font-size="6.51" text-anchor="middle" fill="#231f20" textLength="77.00" lengthAdjust="spacingAndGlyphs" transform="rotate(0.06 270.10 519.20)" >chr7:95,581,282-95,614,098</text>
<text x="407.00" y="519.20" font-size="6.51" text-anchor="middle" fill="#231f20" textLength="83.00" lengthAdjust="spacingAndGlyphs" transform="rotate(0.06 407.00 519.20)" >chr3:126,332,413-126,364,529</text>
<text x="129.50" y="651.40" font-size="6.30" text-anchor="middle" fill="#231f20" textLength="16.10" lengthAdjust="spacingAndGlyphs" transform="rotate(0.06 129.50 651.40)" >ESPN</text>
<text x="247.50" y="652.00" font-size="6.30" text-anchor="middle" fill="#231f20" textLength="15.67" lengthAdjust="spacingAndGlyphs" transform="rotate(0.06 247.50 652.00)" >PDK4</text>
<text x="305.20" y="652.00" font-size="6.30" text-anchor="middle" fill="#231f20" textLength="29.01" lengthAdjust="spacingAndGlyphs" transform="rotate(0.06 305.20 652.00)" >PDK4-AS1</text>
<text x="401.80" y="652.40" font-size="6.30" text-anchor="middle" fill="#231f20" textLength="17.00" lengthAdjust="spacingAndGlyphs" transform="rotate(0.06 401.80 652.40)" >KLF15</text>
<text x="23.80" y="536.40" font-size="6.72" text-anchor="start" fill="#231f20" textLength="23.90" lengthAdjust="spacingAndGlyphs" transform="rotate(0.06 23.80 536.40)" >BCL11A</text>
<text x="23.80" y="543.80" font-size="6.72" text-anchor="start" fill="#231f20" textLength="29.20" lengthAdjust="spacingAndGlyphs" transform="rotate(0.06 23.80 543.80)" >CUT&amp;RUN</text>
<line x1="27.00" y1="553.30" x2="27.00" y2="587.50" stroke="#3c3c3c" stroke-width="1.0" />
<line x1="27.00" y1="598.70" x2="27.00" y2="632.50" stroke="#3c3c3c" stroke-width="1.0" />
<text x="23.40" y="570.40" font-size="6.30" text-anchor="middle" fill="#231f20" textLength="25.80" lengthAdjust="spacingAndGlyphs" transform="rotate(-89.94 23.40 570.40)" >ATAC-seq</text>
<text x="23.40" y="615.40" font-size="6.30" text-anchor="middle" fill="#231f20" textLength="24.20" lengthAdjust="spacingAndGlyphs" transform="rotate(-89.94 23.40 615.40)" >RNA-seq</text>
<text x="46.80" y="561.40" font-size="6.72" text-anchor="middle" fill="#231f20" textLength="8.53" lengthAdjust="spacingAndGlyphs" transform="rotate(0.06 46.80 561.40)" >UT</text>
<text x="46.80" y="606.90" font-size="6.72" text-anchor="middle" fill="#231f20" textLength="8.53" lengthAdjust="spacingAndGlyphs" transform="rotate(0.06 46.80 606.90)" >UT</text>
<text x="34.20" y="585.50" font-size="6.72" text-anchor="start" fill="#231f20" textLength="25.00" lengthAdjust="spacingAndGlyphs" transform="rotate(0.06 34.20 585.50)" >BCL11A<tspan font-size="70%" baseline-shift="3">E</tspan></text>
<text x="34.20" y="630.50" font-size="6.72" text-anchor="start" fill="#231f20" textLength="25.00" lengthAdjust="spacingAndGlyphs" transform="rotate(0.06 34.20 630.50)" >BCL11A<tspan font-size="70%" baseline-shift="3">E</tspan></text>
<rect x="0.6" y="0.6" width="518.8" height="658.8" fill="none" stroke="#666" stroke-width="1.3"/>
</svg></body></html>
